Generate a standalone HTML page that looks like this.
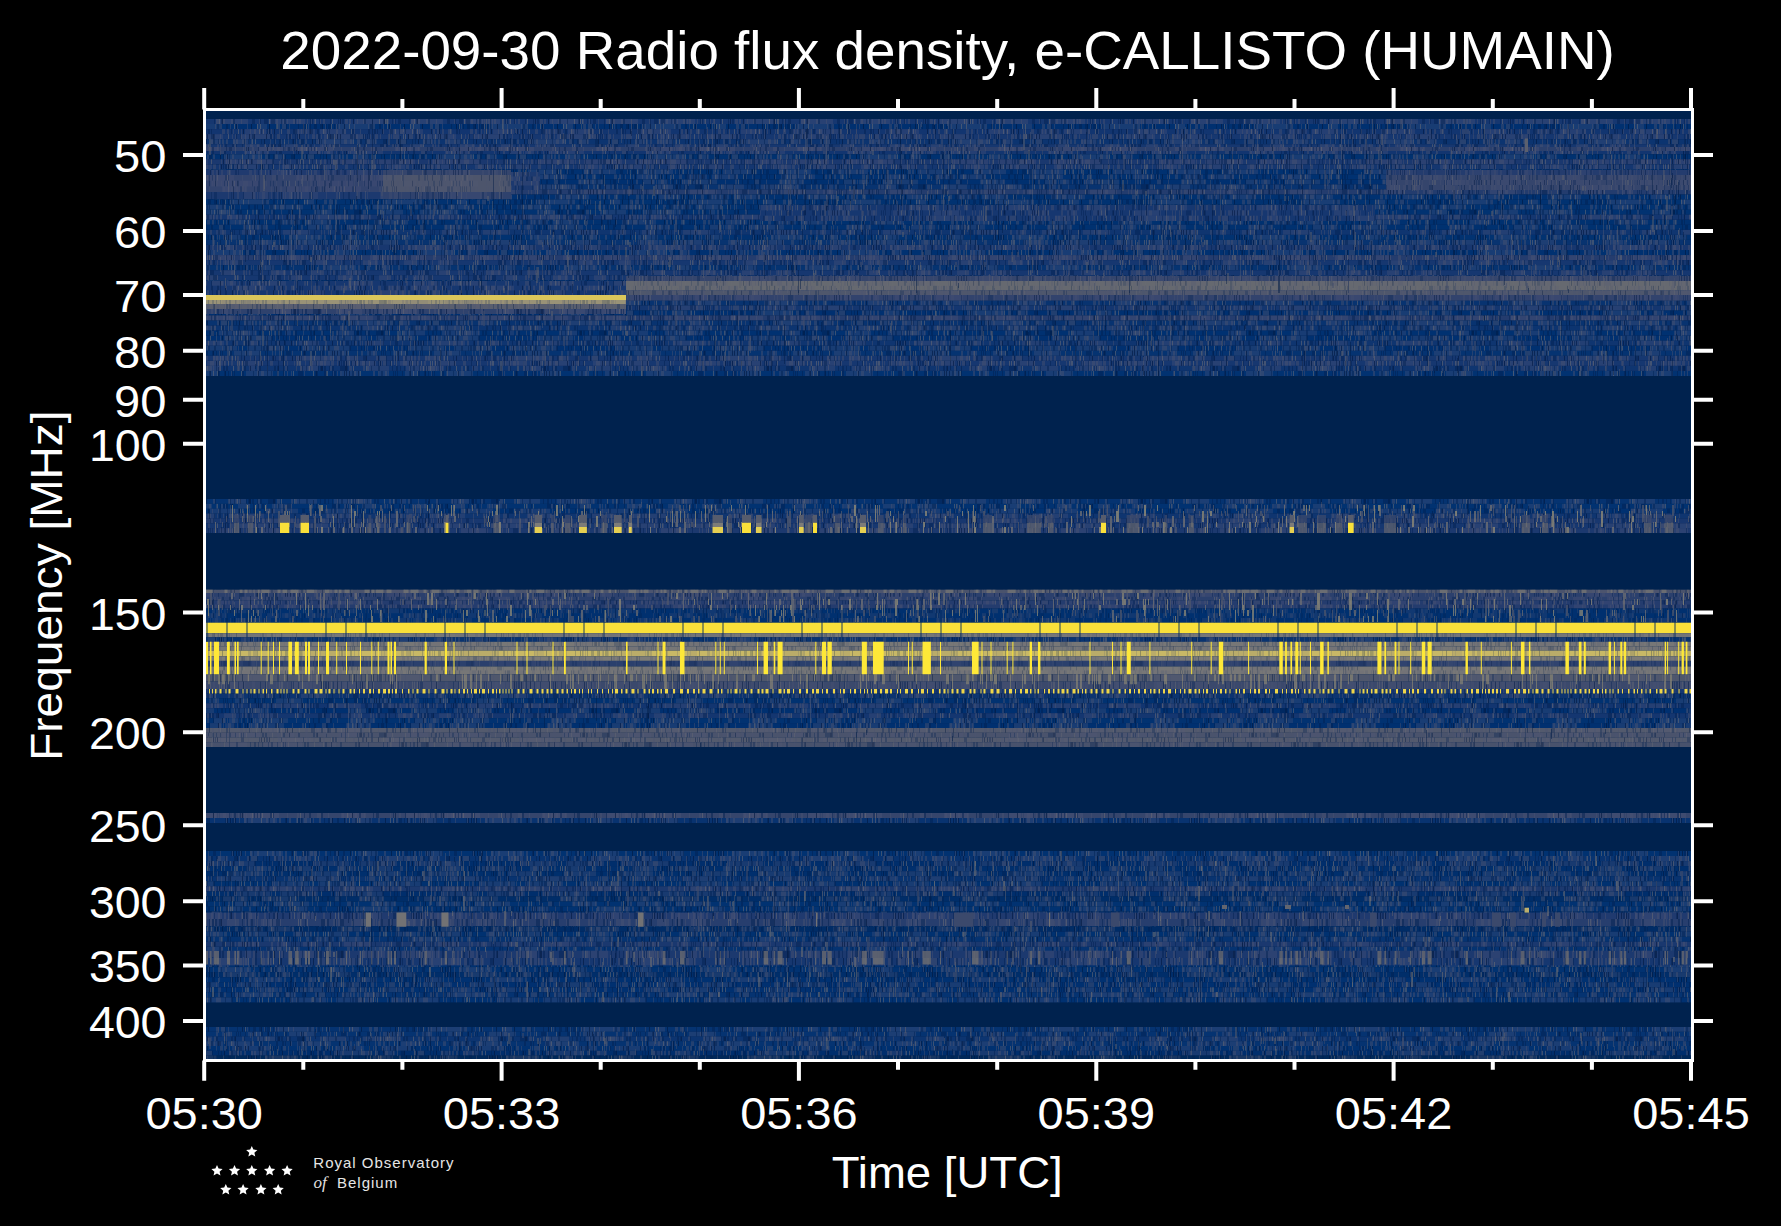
<!DOCTYPE html><html><head><meta charset="utf-8"><style>html,body{margin:0;padding:0;background:#000;width:1781px;height:1226px;overflow:hidden;position:relative}</style></head><body><svg width="1781" height="1226" viewBox="0 0 1781 1226" style="position:absolute;left:0;top:0">
<rect x="0" y="0" width="1781" height="1226" fill="#000"/>
<defs><pattern id="p0" patternUnits="userSpaceOnUse" width="193" height="1200"><path d="M0 0h13v1200h-13zM29 0h22v1200h-22zM97 0h21v1200h-21zM141 0h23v1200h-23zM188 0h5v1200h-5z" fill="#56597a" fill-opacity="0.28"/><path d="M0 0h2v1200h-2zM12 0h2v1200h-2zM19 0h1v1200h-1zM20 0h1v1200h-1zM43 0h1v1200h-1zM50 0h1v1200h-1zM58 0h2v1200h-2zM60 0h1v1200h-1zM75 0h1v1200h-1zM82 0h1v1200h-1zM86 0h1v1200h-1zM93 0h1v1200h-1zM100 0h1v1200h-1zM105 0h1v1200h-1zM108 0h1v1200h-1zM109 0h2v1200h-2zM112 0h2v1200h-2zM119 0h1v1200h-1zM120 0h1v1200h-1zM121 0h1v1200h-1zM125 0h1v1200h-1zM133 0h1v1200h-1zM135 0h2v1200h-2zM140 0h1v1200h-1zM144 0h2v1200h-2zM150 0h1v1200h-1zM151 0h2v1200h-2zM167 0h1v1200h-1zM169 0h1v1200h-1zM171 0h1v1200h-1zM172 0h1v1200h-1zM173 0h1v1200h-1zM191 0h2v1200h-2z" fill="#4a5372" fill-opacity="0.45"/><path d="M7 0h1v1200h-1zM16 0h1v1200h-1zM25 0h1v1200h-1zM27 0h1v1200h-1zM30 0h1v1200h-1zM72 0h1v1200h-1zM85 0h1v1200h-1zM87 0h1v1200h-1zM88 0h1v1200h-1zM137 0h1v1200h-1zM179 0h1v1200h-1z" fill="#6a6c74" fill-opacity="0.55"/><path d="M6 0h1v1200h-1zM11 0h1v1200h-1zM31 0h1v1200h-1zM33 0h2v1200h-2zM35 0h1v1200h-1zM44 0h1v1200h-1zM66 0h1v1200h-1zM71 0h1v1200h-1zM97 0h1v1200h-1zM99 0h1v1200h-1zM104 0h1v1200h-1zM129 0h1v1200h-1zM131 0h2v1200h-2zM139 0h1v1200h-1zM147 0h1v1200h-1zM153 0h1v1200h-1zM166 0h1v1200h-1zM174 0h1v1200h-1zM178 0h1v1200h-1z" fill="#001e50" fill-opacity="0.45"/><path d="M4 0h1v1200h-1zM49 0h1v1200h-1zM127 0h1v1200h-1zM134 0h1v1200h-1zM143 0h1v1200h-1zM162 0h1v1200h-1zM168 0h1v1200h-1z" fill="#00183f" fill-opacity="0.6"/></pattern><pattern id="p1" patternUnits="userSpaceOnUse" width="233" height="1200"><path d="M0 0h13v1200h-13zM67 0h36v1200h-36zM170 0h29v1200h-29zM216 0h17v1200h-17z" fill="#56597a" fill-opacity="0.28"/><path d="M15 0h1v1200h-1zM22 0h1v1200h-1zM31 0h1v1200h-1zM34 0h1v1200h-1zM41 0h1v1200h-1zM51 0h1v1200h-1zM55 0h2v1200h-2zM57 0h1v1200h-1zM59 0h2v1200h-2zM64 0h1v1200h-1zM79 0h1v1200h-1zM99 0h1v1200h-1zM100 0h1v1200h-1zM103 0h2v1200h-2zM105 0h1v1200h-1zM107 0h1v1200h-1zM113 0h1v1200h-1zM118 0h2v1200h-2zM120 0h1v1200h-1zM123 0h1v1200h-1zM132 0h1v1200h-1zM134 0h1v1200h-1zM136 0h1v1200h-1zM137 0h2v1200h-2zM139 0h2v1200h-2zM141 0h1v1200h-1zM152 0h1v1200h-1zM153 0h1v1200h-1zM154 0h2v1200h-2zM160 0h2v1200h-2zM164 0h1v1200h-1zM171 0h1v1200h-1zM196 0h1v1200h-1zM208 0h1v1200h-1zM211 0h1v1200h-1zM217 0h1v1200h-1zM221 0h1v1200h-1z" fill="#4a5372" fill-opacity="0.45"/><path d="M70 0h1v1200h-1zM146 0h1v1200h-1zM148 0h1v1200h-1zM167 0h1v1200h-1zM178 0h1v1200h-1zM204 0h1v1200h-1z" fill="#6a6c74" fill-opacity="0.55"/><path d="M13 0h1v1200h-1zM14 0h1v1200h-1zM17 0h1v1200h-1zM29 0h1v1200h-1zM32 0h2v1200h-2zM38 0h1v1200h-1zM40 0h1v1200h-1zM61 0h2v1200h-2zM71 0h2v1200h-2zM74 0h1v1200h-1zM75 0h1v1200h-1zM76 0h1v1200h-1zM93 0h1v1200h-1zM94 0h1v1200h-1zM95 0h1v1200h-1zM97 0h1v1200h-1zM98 0h1v1200h-1zM106 0h1v1200h-1zM108 0h1v1200h-1zM110 0h1v1200h-1zM112 0h1v1200h-1zM116 0h1v1200h-1zM158 0h2v1200h-2zM175 0h1v1200h-1zM181 0h1v1200h-1zM187 0h2v1200h-2zM190 0h1v1200h-1zM212 0h1v1200h-1zM216 0h1v1200h-1zM228 0h2v1200h-2z" fill="#001e50" fill-opacity="0.45"/><path d="M9 0h1v1200h-1zM42 0h1v1200h-1zM73 0h1v1200h-1zM80 0h1v1200h-1zM83 0h1v1200h-1zM151 0h1v1200h-1zM162 0h1v1200h-1zM183 0h1v1200h-1zM189 0h1v1200h-1zM225 0h1v1200h-1zM230 0h1v1200h-1z" fill="#00183f" fill-opacity="0.6"/></pattern><pattern id="p2" patternUnits="userSpaceOnUse" width="207" height="1200"><path d="M0 0h38v1200h-38zM96 0h36v1200h-36zM142 0h38v1200h-38zM197 0h10v1200h-10z" fill="#56597a" fill-opacity="0.28"/><path d="M0 0h1v1200h-1zM5 0h1v1200h-1zM22 0h2v1200h-2zM24 0h1v1200h-1zM25 0h2v1200h-2zM45 0h1v1200h-1zM55 0h1v1200h-1zM63 0h1v1200h-1zM86 0h1v1200h-1zM89 0h1v1200h-1zM90 0h1v1200h-1zM96 0h1v1200h-1zM98 0h1v1200h-1zM102 0h1v1200h-1zM117 0h1v1200h-1zM125 0h1v1200h-1zM126 0h1v1200h-1zM133 0h1v1200h-1zM164 0h2v1200h-2zM166 0h2v1200h-2zM174 0h1v1200h-1zM176 0h2v1200h-2zM193 0h1v1200h-1zM198 0h1v1200h-1zM200 0h1v1200h-1zM202 0h2v1200h-2z" fill="#4a5372" fill-opacity="0.45"/><path d="M7 0h1v1200h-1zM13 0h1v1200h-1zM65 0h1v1200h-1zM68 0h1v1200h-1zM74 0h1v1200h-1zM81 0h1v1200h-1zM137 0h1v1200h-1zM170 0h1v1200h-1zM183 0h1v1200h-1z" fill="#6a6c74" fill-opacity="0.55"/><path d="M3 0h1v1200h-1zM6 0h1v1200h-1zM17 0h1v1200h-1zM31 0h1v1200h-1zM37 0h1v1200h-1zM38 0h1v1200h-1zM49 0h1v1200h-1zM52 0h1v1200h-1zM61 0h2v1200h-2zM66 0h1v1200h-1zM77 0h1v1200h-1zM92 0h1v1200h-1zM95 0h1v1200h-1zM103 0h2v1200h-2zM109 0h1v1200h-1zM110 0h1v1200h-1zM120 0h2v1200h-2zM127 0h1v1200h-1zM143 0h1v1200h-1zM149 0h2v1200h-2zM156 0h1v1200h-1zM158 0h2v1200h-2zM161 0h1v1200h-1zM162 0h2v1200h-2z" fill="#001e50" fill-opacity="0.45"/><path d="M11 0h1v1200h-1zM16 0h1v1200h-1zM168 0h1v1200h-1zM175 0h1v1200h-1zM195 0h1v1200h-1zM201 0h1v1200h-1z" fill="#00183f" fill-opacity="0.6"/></pattern><pattern id="p3" patternUnits="userSpaceOnUse" width="212" height="1200"><path d="M0 0h16v1200h-16zM84 0h36v1200h-36zM133 0h11v1200h-11zM190 0h10v1200h-10z" fill="#56597a" fill-opacity="0.28"/><path d="M0 0h2v1200h-2zM3 0h2v1200h-2zM9 0h2v1200h-2zM18 0h1v1200h-1zM37 0h1v1200h-1zM42 0h1v1200h-1zM48 0h1v1200h-1zM55 0h1v1200h-1zM66 0h2v1200h-2zM72 0h2v1200h-2zM83 0h1v1200h-1zM85 0h1v1200h-1zM91 0h2v1200h-2zM111 0h2v1200h-2zM113 0h1v1200h-1zM117 0h2v1200h-2zM124 0h2v1200h-2zM126 0h1v1200h-1zM134 0h1v1200h-1zM135 0h2v1200h-2zM142 0h1v1200h-1zM163 0h2v1200h-2zM167 0h2v1200h-2zM169 0h2v1200h-2zM171 0h1v1200h-1zM172 0h1v1200h-1zM190 0h1v1200h-1zM191 0h1v1200h-1zM198 0h1v1200h-1zM201 0h2v1200h-2zM205 0h2v1200h-2z" fill="#4a5372" fill-opacity="0.45"/><path d="M19 0h1v1200h-1zM22 0h1v1200h-1zM51 0h1v1200h-1zM101 0h1v1200h-1zM120 0h1v1200h-1z" fill="#6a6c74" fill-opacity="0.55"/><path d="M11 0h1v1200h-1zM15 0h1v1200h-1zM28 0h1v1200h-1zM41 0h1v1200h-1zM46 0h2v1200h-2zM59 0h1v1200h-1zM62 0h1v1200h-1zM68 0h2v1200h-2zM70 0h1v1200h-1zM82 0h1v1200h-1zM88 0h1v1200h-1zM107 0h1v1200h-1zM127 0h2v1200h-2zM132 0h2v1200h-2zM141 0h1v1200h-1zM150 0h1v1200h-1zM151 0h2v1200h-2zM173 0h1v1200h-1zM179 0h1v1200h-1zM182 0h1v1200h-1zM192 0h2v1200h-2zM197 0h1v1200h-1z" fill="#001e50" fill-opacity="0.45"/><path d="M31 0h1v1200h-1zM60 0h1v1200h-1zM79 0h1v1200h-1zM86 0h1v1200h-1zM153 0h1v1200h-1zM165 0h1v1200h-1zM185 0h1v1200h-1z" fill="#00183f" fill-opacity="0.6"/></pattern><pattern id="p4" patternUnits="userSpaceOnUse" width="241" height="1200"><path d="M0 0h33v1200h-33zM58 0h9v1200h-9zM108 0h20v1200h-20zM175 0h18v1200h-18z" fill="#56597a" fill-opacity="0.28"/><path d="M0 0h2v1200h-2zM7 0h2v1200h-2zM22 0h2v1200h-2zM29 0h2v1200h-2zM35 0h2v1200h-2zM45 0h2v1200h-2zM52 0h1v1200h-1zM56 0h1v1200h-1zM60 0h2v1200h-2zM62 0h1v1200h-1zM66 0h1v1200h-1zM69 0h1v1200h-1zM75 0h2v1200h-2zM86 0h1v1200h-1zM87 0h1v1200h-1zM102 0h1v1200h-1zM116 0h1v1200h-1zM134 0h2v1200h-2zM152 0h2v1200h-2zM164 0h2v1200h-2zM169 0h1v1200h-1zM171 0h1v1200h-1zM177 0h1v1200h-1zM183 0h1v1200h-1zM199 0h1v1200h-1zM211 0h1v1200h-1zM223 0h1v1200h-1zM231 0h1v1200h-1zM236 0h1v1200h-1z" fill="#4a5372" fill-opacity="0.45"/><path d="M17 0h1v1200h-1zM53 0h1v1200h-1zM105 0h1v1200h-1zM113 0h1v1200h-1zM115 0h1v1200h-1zM146 0h1v1200h-1zM149 0h1v1200h-1z" fill="#6a6c74" fill-opacity="0.55"/><path d="M3 0h1v1200h-1zM25 0h1v1200h-1zM41 0h1v1200h-1zM54 0h2v1200h-2zM57 0h2v1200h-2zM67 0h1v1200h-1zM80 0h1v1200h-1zM84 0h2v1200h-2zM93 0h2v1200h-2zM111 0h2v1200h-2zM121 0h1v1200h-1zM125 0h1v1200h-1zM126 0h1v1200h-1zM151 0h1v1200h-1zM155 0h2v1200h-2zM157 0h1v1200h-1zM160 0h1v1200h-1zM167 0h1v1200h-1zM178 0h1v1200h-1zM189 0h1v1200h-1zM192 0h1v1200h-1zM204 0h1v1200h-1zM205 0h2v1200h-2zM222 0h1v1200h-1zM229 0h2v1200h-2z" fill="#001e50" fill-opacity="0.45"/><path d="M42 0h1v1200h-1zM88 0h1v1200h-1zM100 0h1v1200h-1zM141 0h1v1200h-1zM163 0h1v1200h-1zM176 0h1v1200h-1zM180 0h1v1200h-1zM224 0h1v1200h-1zM227 0h1v1200h-1zM232 0h1v1200h-1z" fill="#00183f" fill-opacity="0.6"/></pattern><pattern id="p5" patternUnits="userSpaceOnUse" width="201" height="1200"><path d="M0 0h10v1200h-10zM24 0h35v1200h-35zM121 0h24v1200h-24zM186 0h12v1200h-12z" fill="#56597a" fill-opacity="0.28"/><path d="M3 0h1v1200h-1zM4 0h2v1200h-2zM12 0h1v1200h-1zM18 0h1v1200h-1zM24 0h1v1200h-1zM26 0h1v1200h-1zM30 0h1v1200h-1zM31 0h1v1200h-1zM38 0h2v1200h-2zM67 0h1v1200h-1zM77 0h2v1200h-2zM97 0h2v1200h-2zM99 0h2v1200h-2zM108 0h1v1200h-1zM122 0h2v1200h-2zM128 0h1v1200h-1zM130 0h2v1200h-2zM135 0h1v1200h-1zM136 0h1v1200h-1zM144 0h2v1200h-2zM170 0h1v1200h-1zM179 0h2v1200h-2zM195 0h2v1200h-2zM199 0h1v1200h-1z" fill="#4a5372" fill-opacity="0.45"/><path d="M32 0h1v1200h-1zM42 0h1v1200h-1zM52 0h1v1200h-1zM80 0h1v1200h-1zM127 0h1v1200h-1z" fill="#6a6c74" fill-opacity="0.55"/><path d="M9 0h1v1200h-1zM14 0h2v1200h-2zM20 0h1v1200h-1zM34 0h1v1200h-1zM37 0h1v1200h-1zM40 0h1v1200h-1zM50 0h2v1200h-2zM53 0h1v1200h-1zM84 0h1v1200h-1zM89 0h2v1200h-2zM101 0h2v1200h-2zM139 0h2v1200h-2zM153 0h1v1200h-1zM156 0h1v1200h-1zM157 0h2v1200h-2zM173 0h1v1200h-1zM185 0h1v1200h-1z" fill="#001e50" fill-opacity="0.45"/><path d="M22 0h1v1200h-1zM132 0h1v1200h-1zM175 0h1v1200h-1zM194 0h1v1200h-1z" fill="#00183f" fill-opacity="0.6"/></pattern><pattern id="p6" patternUnits="userSpaceOnUse" width="248" height="1200"><path d="M0 0h26v1200h-26zM69 0h34v1200h-34zM173 0h21v1200h-21zM223 0h20v1200h-20z" fill="#56597a" fill-opacity="0.28"/><path d="M4 0h1v1200h-1zM5 0h1v1200h-1zM16 0h2v1200h-2zM24 0h2v1200h-2zM34 0h1v1200h-1zM40 0h1v1200h-1zM63 0h1v1200h-1zM74 0h1v1200h-1zM80 0h2v1200h-2zM82 0h2v1200h-2zM99 0h1v1200h-1zM113 0h2v1200h-2zM117 0h2v1200h-2zM122 0h2v1200h-2zM128 0h2v1200h-2zM131 0h1v1200h-1zM150 0h1v1200h-1zM151 0h2v1200h-2zM155 0h2v1200h-2zM161 0h1v1200h-1zM169 0h1v1200h-1zM178 0h1v1200h-1zM182 0h2v1200h-2zM196 0h1v1200h-1zM199 0h1v1200h-1zM207 0h1v1200h-1zM215 0h2v1200h-2zM217 0h1v1200h-1zM226 0h1v1200h-1zM229 0h1v1200h-1zM234 0h1v1200h-1z" fill="#4a5372" fill-opacity="0.45"/><path d="M3 0h1v1200h-1zM31 0h1v1200h-1zM75 0h1v1200h-1zM92 0h1v1200h-1zM97 0h1v1200h-1zM130 0h1v1200h-1zM166 0h1v1200h-1zM187 0h1v1200h-1zM191 0h1v1200h-1zM209 0h1v1200h-1z" fill="#6a6c74" fill-opacity="0.55"/><path d="M7 0h1v1200h-1zM9 0h1v1200h-1zM22 0h2v1200h-2zM32 0h2v1200h-2zM48 0h2v1200h-2zM54 0h2v1200h-2zM57 0h1v1200h-1zM70 0h1v1200h-1zM71 0h2v1200h-2zM79 0h1v1200h-1zM85 0h1v1200h-1zM94 0h2v1200h-2zM136 0h2v1200h-2zM139 0h1v1200h-1zM159 0h1v1200h-1zM189 0h1v1200h-1zM195 0h1v1200h-1zM221 0h2v1200h-2zM223 0h1v1200h-1zM224 0h1v1200h-1zM231 0h2v1200h-2zM237 0h1v1200h-1zM239 0h2v1200h-2zM245 0h2v1200h-2z" fill="#001e50" fill-opacity="0.45"/><path d="M62 0h1v1200h-1zM111 0h1v1200h-1zM119 0h1v1200h-1zM171 0h1v1200h-1zM197 0h1v1200h-1zM202 0h1v1200h-1zM238 0h1v1200h-1z" fill="#00183f" fill-opacity="0.6"/></pattern><pattern id="p7" patternUnits="userSpaceOnUse" width="195" height="1200"><path d="M0 0h24v1200h-24zM74 0h29v1200h-29zM130 0h32v1200h-32zM183 0h12v1200h-12z" fill="#56597a" fill-opacity="0.28"/><path d="M2 0h1v1200h-1zM6 0h1v1200h-1zM12 0h2v1200h-2zM16 0h1v1200h-1zM18 0h2v1200h-2zM26 0h1v1200h-1zM30 0h1v1200h-1zM33 0h1v1200h-1zM39 0h1v1200h-1zM42 0h1v1200h-1zM43 0h1v1200h-1zM64 0h1v1200h-1zM65 0h2v1200h-2zM68 0h2v1200h-2zM76 0h1v1200h-1zM82 0h1v1200h-1zM107 0h1v1200h-1zM113 0h1v1200h-1zM130 0h2v1200h-2zM132 0h1v1200h-1zM137 0h1v1200h-1zM138 0h1v1200h-1zM145 0h1v1200h-1zM146 0h1v1200h-1zM155 0h1v1200h-1zM173 0h1v1200h-1zM190 0h2v1200h-2z" fill="#4a5372" fill-opacity="0.45"/><path d="M34 0h1v1200h-1zM51 0h1v1200h-1zM98 0h1v1200h-1zM104 0h1v1200h-1zM106 0h1v1200h-1zM133 0h1v1200h-1zM183 0h1v1200h-1z" fill="#6a6c74" fill-opacity="0.55"/><path d="M0 0h1v1200h-1zM3 0h2v1200h-2zM14 0h1v1200h-1zM29 0h1v1200h-1zM31 0h1v1200h-1zM38 0h1v1200h-1zM49 0h1v1200h-1zM57 0h1v1200h-1zM61 0h2v1200h-2zM83 0h2v1200h-2zM91 0h1v1200h-1zM102 0h1v1200h-1zM111 0h1v1200h-1zM114 0h1v1200h-1zM117 0h1v1200h-1zM118 0h2v1200h-2zM128 0h1v1200h-1zM135 0h1v1200h-1zM147 0h2v1200h-2zM166 0h2v1200h-2zM168 0h1v1200h-1zM174 0h1v1200h-1zM178 0h2v1200h-2zM180 0h2v1200h-2zM185 0h2v1200h-2zM187 0h1v1200h-1zM188 0h1v1200h-1z" fill="#001e50" fill-opacity="0.45"/><path d="M59 0h1v1200h-1zM72 0h1v1200h-1zM103 0h1v1200h-1zM136 0h1v1200h-1z" fill="#00183f" fill-opacity="0.6"/></pattern><pattern id="p8" patternUnits="userSpaceOnUse" width="223" height="1200"><path d="M0 0h38v1200h-38zM66 0h6v1200h-6zM118 0h17v1200h-17zM184 0h22v1200h-22z" fill="#56597a" fill-opacity="0.28"/><path d="M3 0h1v1200h-1zM14 0h1v1200h-1zM20 0h1v1200h-1zM22 0h2v1200h-2zM25 0h1v1200h-1zM26 0h2v1200h-2zM28 0h1v1200h-1zM30 0h1v1200h-1zM36 0h1v1200h-1zM55 0h2v1200h-2zM60 0h1v1200h-1zM74 0h2v1200h-2zM84 0h1v1200h-1zM102 0h1v1200h-1zM103 0h1v1200h-1zM117 0h2v1200h-2zM125 0h1v1200h-1zM128 0h2v1200h-2zM147 0h2v1200h-2zM166 0h1v1200h-1zM167 0h2v1200h-2zM180 0h1v1200h-1zM181 0h1v1200h-1zM184 0h1v1200h-1zM185 0h1v1200h-1z" fill="#4a5372" fill-opacity="0.45"/><path d="M17 0h1v1200h-1zM24 0h1v1200h-1zM50 0h1v1200h-1zM59 0h1v1200h-1zM126 0h1v1200h-1zM170 0h1v1200h-1zM183 0h1v1200h-1z" fill="#6a6c74" fill-opacity="0.55"/><path d="M4 0h1v1200h-1zM7 0h2v1200h-2zM13 0h1v1200h-1zM19 0h1v1200h-1zM21 0h1v1200h-1zM33 0h1v1200h-1zM40 0h1v1200h-1zM41 0h1v1200h-1zM43 0h1v1200h-1zM44 0h1v1200h-1zM61 0h2v1200h-2zM76 0h2v1200h-2zM91 0h2v1200h-2zM94 0h1v1200h-1zM104 0h1v1200h-1zM119 0h1v1200h-1zM123 0h1v1200h-1zM135 0h1v1200h-1zM137 0h1v1200h-1zM141 0h2v1200h-2zM146 0h1v1200h-1zM149 0h2v1200h-2zM157 0h1v1200h-1zM158 0h2v1200h-2zM160 0h2v1200h-2zM164 0h1v1200h-1zM188 0h1v1200h-1zM195 0h2v1200h-2zM209 0h1v1200h-1zM213 0h1v1200h-1zM214 0h1v1200h-1zM217 0h1v1200h-1zM221 0h1v1200h-1z" fill="#001e50" fill-opacity="0.45"/><path d="M67 0h1v1200h-1zM95 0h1v1200h-1zM138 0h1v1200h-1zM139 0h1v1200h-1zM162 0h1v1200h-1zM163 0h1v1200h-1z" fill="#00183f" fill-opacity="0.6"/></pattern><pattern id="p9" patternUnits="userSpaceOnUse" width="153" height="1200"><path d="M0 0h31v1200h-31zM68 0h10v1200h-10zM147 0h6v1200h-6z" fill="#56597a" fill-opacity="0.28"/><path d="M12 0h1v1200h-1zM26 0h1v1200h-1zM31 0h2v1200h-2zM41 0h1v1200h-1zM48 0h1v1200h-1zM58 0h1v1200h-1zM88 0h2v1200h-2zM90 0h1v1200h-1zM93 0h2v1200h-2zM95 0h2v1200h-2zM100 0h1v1200h-1zM119 0h1v1200h-1zM136 0h1v1200h-1zM147 0h1v1200h-1zM150 0h1v1200h-1z" fill="#4a5372" fill-opacity="0.45"/><path d="M7 0h1v1200h-1zM45 0h1v1200h-1zM68 0h1v1200h-1zM71 0h1v1200h-1zM117 0h1v1200h-1zM142 0h1v1200h-1z" fill="#6a6c74" fill-opacity="0.55"/><path d="M28 0h2v1200h-2zM37 0h2v1200h-2zM97 0h1v1200h-1zM109 0h1v1200h-1zM116 0h1v1200h-1zM121 0h1v1200h-1zM125 0h1v1200h-1zM126 0h2v1200h-2zM131 0h1v1200h-1zM132 0h1v1200h-1zM137 0h1v1200h-1zM139 0h2v1200h-2zM141 0h1v1200h-1zM145 0h1v1200h-1zM148 0h1v1200h-1z" fill="#001e50" fill-opacity="0.45"/><path d="M2 0h1v1200h-1zM47 0h1v1200h-1zM62 0h1v1200h-1zM80 0h1v1200h-1zM114 0h1v1200h-1zM133 0h1v1200h-1z" fill="#00183f" fill-opacity="0.6"/></pattern><pattern id="p10" patternUnits="userSpaceOnUse" width="200" height="1200"><path d="M0 0h12v1200h-12zM41 0h27v1200h-27zM137 0h18v1200h-18zM174 0h9v1200h-9z" fill="#56597a" fill-opacity="0.28"/><path d="M26 0h1v1200h-1zM52 0h1v1200h-1zM56 0h1v1200h-1zM57 0h2v1200h-2zM79 0h1v1200h-1zM82 0h1v1200h-1zM86 0h1v1200h-1zM99 0h1v1200h-1zM128 0h1v1200h-1zM132 0h1v1200h-1zM135 0h2v1200h-2zM149 0h2v1200h-2zM168 0h2v1200h-2zM180 0h1v1200h-1zM181 0h1v1200h-1zM183 0h1v1200h-1z" fill="#4a5372" fill-opacity="0.45"/><path d="M8 0h1v1200h-1zM12 0h1v1200h-1zM36 0h1v1200h-1zM88 0h1v1200h-1zM108 0h1v1200h-1zM122 0h1v1200h-1zM155 0h1v1200h-1z" fill="#6a6c74" fill-opacity="0.55"/><path d="M4 0h1v1200h-1zM13 0h1v1200h-1zM14 0h1v1200h-1zM19 0h1v1200h-1zM23 0h1v1200h-1zM27 0h1v1200h-1zM29 0h1v1200h-1zM37 0h2v1200h-2zM48 0h1v1200h-1zM66 0h1v1200h-1zM72 0h1v1200h-1zM93 0h2v1200h-2zM95 0h1v1200h-1zM96 0h1v1200h-1zM97 0h1v1200h-1zM110 0h1v1200h-1zM112 0h1v1200h-1zM119 0h1v1200h-1zM120 0h2v1200h-2zM127 0h1v1200h-1zM129 0h2v1200h-2zM147 0h1v1200h-1zM148 0h1v1200h-1zM176 0h2v1200h-2zM188 0h1v1200h-1zM190 0h1v1200h-1zM192 0h1v1200h-1zM197 0h1v1200h-1z" fill="#001e50" fill-opacity="0.45"/><path d="M5 0h1v1200h-1zM20 0h1v1200h-1zM53 0h1v1200h-1zM111 0h1v1200h-1zM139 0h1v1200h-1zM141 0h1v1200h-1zM144 0h1v1200h-1zM153 0h1v1200h-1z" fill="#00183f" fill-opacity="0.6"/></pattern><pattern id="p11" patternUnits="userSpaceOnUse" width="215" height="1200"><path d="M0 0h9v1200h-9zM34 0h20v1200h-20zM124 0h12v1200h-12zM176 0h13v1200h-13z" fill="#56597a" fill-opacity="0.28"/><path d="M8 0h2v1200h-2zM10 0h2v1200h-2zM18 0h1v1200h-1zM21 0h2v1200h-2zM28 0h1v1200h-1zM36 0h1v1200h-1zM39 0h1v1200h-1zM43 0h1v1200h-1zM44 0h1v1200h-1zM53 0h1v1200h-1zM74 0h1v1200h-1zM98 0h2v1200h-2zM106 0h2v1200h-2zM109 0h1v1200h-1zM111 0h2v1200h-2zM134 0h2v1200h-2zM136 0h1v1200h-1zM146 0h2v1200h-2zM149 0h1v1200h-1zM152 0h1v1200h-1zM163 0h1v1200h-1zM174 0h2v1200h-2zM179 0h1v1200h-1zM180 0h2v1200h-2zM186 0h2v1200h-2zM193 0h1v1200h-1zM198 0h2v1200h-2zM202 0h1v1200h-1z" fill="#4a5372" fill-opacity="0.45"/><path d="M71 0h1v1200h-1zM73 0h1v1200h-1zM80 0h1v1200h-1zM137 0h1v1200h-1zM194 0h1v1200h-1z" fill="#6a6c74" fill-opacity="0.55"/><path d="M15 0h1v1200h-1zM20 0h1v1200h-1zM24 0h1v1200h-1zM25 0h1v1200h-1zM40 0h1v1200h-1zM45 0h1v1200h-1zM49 0h1v1200h-1zM50 0h1v1200h-1zM51 0h2v1200h-2zM78 0h1v1200h-1zM94 0h1v1200h-1zM95 0h1v1200h-1zM96 0h2v1200h-2zM100 0h2v1200h-2zM108 0h1v1200h-1zM113 0h2v1200h-2zM115 0h2v1200h-2zM125 0h2v1200h-2zM154 0h1v1200h-1zM155 0h1v1200h-1zM161 0h2v1200h-2zM165 0h1v1200h-1zM171 0h1v1200h-1zM197 0h1v1200h-1zM200 0h2v1200h-2zM203 0h1v1200h-1zM204 0h1v1200h-1zM207 0h2v1200h-2z" fill="#001e50" fill-opacity="0.45"/><path d="M209 0h1v1200h-1z" fill="#00183f" fill-opacity="0.6"/></pattern></defs>
<rect x="204.5" y="109.5" width="1488.0" height="951.0" fill="#00224e"/>
<rect x="204.5" y="119.0" width="1488.0" height="5.0" fill="#163770"/>
<rect transform="translate(86 0)" x="118.5" y="119.0" width="1488.0" height="5.0" fill="url(#p7)"/>
<rect x="204.5" y="124.0" width="1488.0" height="5.0" fill="#003070"/>
<rect transform="translate(36 0)" x="168.5" y="124.0" width="1488.0" height="5.0" fill="url(#p9)"/>
<rect x="204.5" y="129.1" width="1488.0" height="5.0" fill="#123570"/>
<rect transform="translate(72 0)" x="132.5" y="129.1" width="1488.0" height="5.0" fill="url(#p6)"/>
<rect x="204.5" y="134.1" width="1488.0" height="5.0" fill="#163770"/>
<rect transform="translate(24 0)" x="180.5" y="134.1" width="1488.0" height="5.0" fill="url(#p1)"/>
<rect x="204.5" y="139.2" width="1488.0" height="5.0" fill="#0c3470"/>
<rect transform="translate(233 0)" x="-28.5" y="139.2" width="1488.0" height="5.0" fill="url(#p3)"/>
<rect x="204.5" y="144.2" width="1488.0" height="5.0" fill="#163770"/>
<rect transform="translate(71 0)" x="133.5" y="144.2" width="1488.0" height="5.0" fill="url(#p11)"/>
<rect x="204.5" y="149.2" width="1488.0" height="5.0" fill="#123570"/>
<rect transform="translate(123 0)" x="81.5" y="149.2" width="1488.0" height="5.0" fill="url(#p5)"/>
<rect x="204.5" y="154.3" width="1488.0" height="5.0" fill="#003170"/>
<rect transform="translate(141 0)" x="63.5" y="154.3" width="1488.0" height="5.0" fill="url(#p3)"/>
<rect x="204.5" y="159.3" width="1488.0" height="5.0" fill="#1a386f"/>
<rect transform="translate(28 0)" x="176.5" y="159.3" width="1488.0" height="5.0" fill="url(#p2)"/>
<rect x="204.5" y="164.4" width="1488.0" height="5.0" fill="#143670"/>
<rect transform="translate(94 0)" x="110.5" y="164.4" width="1488.0" height="5.0" fill="url(#p0)"/>
<rect x="204.5" y="169.4" width="1488.0" height="5.0" fill="#003171"/>
<rect transform="translate(64 0)" x="140.5" y="169.4" width="1488.0" height="5.0" fill="url(#p7)"/>
<rect x="204.5" y="174.4" width="1488.0" height="5.0" fill="#003171"/>
<rect transform="translate(216 0)" x="-11.5" y="174.4" width="1488.0" height="5.0" fill="url(#p6)"/>
<rect x="204.5" y="179.5" width="1488.0" height="5.0" fill="#003070"/>
<rect transform="translate(55 0)" x="149.5" y="179.5" width="1488.0" height="5.0" fill="url(#p5)"/>
<rect x="204.5" y="184.5" width="1488.0" height="5.0" fill="#083370"/>
<rect transform="translate(92 0)" x="112.5" y="184.5" width="1488.0" height="5.0" fill="url(#p8)"/>
<rect x="204.5" y="189.5" width="1488.0" height="5.0" fill="#233c6e"/>
<rect transform="translate(249 0)" x="-44.5" y="189.5" width="1488.0" height="5.0" fill="url(#p10)"/>
<rect x="204.5" y="194.6" width="1488.0" height="5.0" fill="#003171"/>
<rect transform="translate(238 0)" x="-33.5" y="194.6" width="1488.0" height="5.0" fill="url(#p6)"/>
<rect x="204.5" y="199.6" width="1488.0" height="5.0" fill="#013271"/>
<rect transform="translate(83 0)" x="121.5" y="199.6" width="1488.0" height="5.0" fill="url(#p9)"/>
<rect x="204.5" y="204.7" width="1488.0" height="5.0" fill="#013271"/>
<rect transform="translate(200 0)" x="4.5" y="204.7" width="1488.0" height="5.0" fill="url(#p6)"/>
<rect x="204.5" y="209.7" width="1488.0" height="5.0" fill="#013271"/>
<rect transform="translate(197 0)" x="7.5" y="209.7" width="1488.0" height="5.0" fill="url(#p8)"/>
<rect x="204.5" y="214.7" width="1488.0" height="5.0" fill="#143670"/>
<rect transform="translate(15 0)" x="189.5" y="214.7" width="1488.0" height="5.0" fill="url(#p3)"/>
<rect x="204.5" y="219.8" width="1488.0" height="5.0" fill="#003170"/>
<rect transform="translate(57 0)" x="147.5" y="219.8" width="1488.0" height="5.0" fill="url(#p6)"/>
<rect x="204.5" y="224.8" width="1488.0" height="5.0" fill="#003170"/>
<rect transform="translate(122 0)" x="82.5" y="224.8" width="1488.0" height="5.0" fill="url(#p5)"/>
<rect x="204.5" y="229.9" width="1488.0" height="5.0" fill="#0f3570"/>
<rect transform="translate(42 0)" x="162.5" y="229.9" width="1488.0" height="5.0" fill="url(#p10)"/>
<rect x="204.5" y="234.9" width="1488.0" height="5.0" fill="#013271"/>
<rect transform="translate(48 0)" x="156.5" y="234.9" width="1488.0" height="5.0" fill="url(#p4)"/>
<rect x="204.5" y="239.9" width="1488.0" height="5.0" fill="#083370"/>
<rect transform="translate(154 0)" x="50.5" y="239.9" width="1488.0" height="5.0" fill="url(#p0)"/>
<rect x="204.5" y="245.0" width="1488.0" height="5.0" fill="#18376f"/>
<rect transform="translate(167 0)" x="37.5" y="245.0" width="1488.0" height="5.0" fill="url(#p4)"/>
<rect x="204.5" y="250.0" width="1488.0" height="5.0" fill="#003171"/>
<rect transform="translate(122 0)" x="82.5" y="250.0" width="1488.0" height="5.0" fill="url(#p3)"/>
<rect x="204.5" y="255.1" width="1488.0" height="5.0" fill="#243c6e"/>
<rect transform="translate(182 0)" x="22.5" y="255.1" width="1488.0" height="5.0" fill="url(#p0)"/>
<rect x="204.5" y="260.1" width="1488.0" height="5.0" fill="#163770"/>
<rect transform="translate(189 0)" x="15.5" y="260.1" width="1488.0" height="5.0" fill="url(#p11)"/>
<rect x="204.5" y="265.1" width="1488.0" height="5.0" fill="#053371"/>
<rect transform="translate(82 0)" x="122.5" y="265.1" width="1488.0" height="5.0" fill="url(#p4)"/>
<rect x="204.5" y="270.2" width="1488.0" height="5.0" fill="#163770"/>
<rect transform="translate(97 0)" x="107.5" y="270.2" width="1488.0" height="5.0" fill="url(#p11)"/>
<rect x="204.5" y="275.2" width="1488.0" height="5.0" fill="#163770"/>
<rect transform="translate(164 0)" x="40.5" y="275.2" width="1488.0" height="5.0" fill="url(#p11)"/>
<rect x="204.5" y="280.3" width="1488.0" height="5.0" fill="#003171"/>
<rect transform="translate(48 0)" x="156.5" y="280.3" width="1488.0" height="5.0" fill="url(#p9)"/>
<rect x="204.5" y="285.3" width="1488.0" height="5.0" fill="#143670"/>
<rect transform="translate(140 0)" x="64.5" y="285.3" width="1488.0" height="5.0" fill="url(#p7)"/>
<rect x="204.5" y="290.3" width="1488.0" height="5.0" fill="#1a386f"/>
<rect transform="translate(235 0)" x="-30.5" y="290.3" width="1488.0" height="5.0" fill="url(#p0)"/>
<rect x="204.5" y="295.4" width="1488.0" height="5.0" fill="#233c6e"/>
<rect transform="translate(91 0)" x="113.5" y="295.4" width="1488.0" height="5.0" fill="url(#p10)"/>
<rect x="204.5" y="300.4" width="1488.0" height="5.0" fill="#083370"/>
<rect transform="translate(199 0)" x="5.5" y="300.4" width="1488.0" height="5.0" fill="url(#p6)"/>
<rect x="204.5" y="305.5" width="1488.0" height="5.0" fill="#143670"/>
<rect transform="translate(131 0)" x="73.5" y="305.5" width="1488.0" height="5.0" fill="url(#p1)"/>
<rect x="204.5" y="310.5" width="1488.0" height="5.0" fill="#003070"/>
<rect transform="translate(248 0)" x="-43.5" y="310.5" width="1488.0" height="5.0" fill="url(#p3)"/>
<rect x="204.5" y="315.5" width="1488.0" height="5.0" fill="#243c6e"/>
<rect transform="translate(211 0)" x="-6.5" y="315.5" width="1488.0" height="5.0" fill="url(#p7)"/>
<rect x="204.5" y="320.6" width="1488.0" height="5.0" fill="#083370"/>
<rect transform="translate(54 0)" x="150.5" y="320.6" width="1488.0" height="5.0" fill="url(#p3)"/>
<rect x="204.5" y="325.6" width="1488.0" height="5.0" fill="#0c3470"/>
<rect transform="translate(190 0)" x="14.5" y="325.6" width="1488.0" height="5.0" fill="url(#p6)"/>
<rect x="204.5" y="330.6" width="1488.0" height="5.0" fill="#003171"/>
<rect transform="translate(219 0)" x="-14.5" y="330.6" width="1488.0" height="5.0" fill="url(#p8)"/>
<rect x="204.5" y="335.7" width="1488.0" height="5.0" fill="#003070"/>
<rect transform="translate(27 0)" x="177.5" y="335.7" width="1488.0" height="5.0" fill="url(#p2)"/>
<rect x="204.5" y="340.7" width="1488.0" height="5.0" fill="#0f3570"/>
<rect transform="translate(191 0)" x="13.5" y="340.7" width="1488.0" height="5.0" fill="url(#p4)"/>
<rect x="204.5" y="345.8" width="1488.0" height="5.0" fill="#003070"/>
<rect transform="translate(105 0)" x="99.5" y="345.8" width="1488.0" height="5.0" fill="url(#p2)"/>
<rect x="204.5" y="350.8" width="1488.0" height="5.0" fill="#053371"/>
<rect transform="translate(193 0)" x="11.5" y="350.8" width="1488.0" height="5.0" fill="url(#p10)"/>
<rect x="204.5" y="355.8" width="1488.0" height="5.0" fill="#163770"/>
<rect transform="translate(213 0)" x="-8.5" y="355.8" width="1488.0" height="5.0" fill="url(#p3)"/>
<rect x="204.5" y="360.9" width="1488.0" height="5.0" fill="#163770"/>
<rect transform="translate(212 0)" x="-7.5" y="360.9" width="1488.0" height="5.0" fill="url(#p0)"/>
<rect x="204.5" y="365.9" width="1488.0" height="5.0" fill="#0f3570"/>
<rect transform="translate(183 0)" x="21.5" y="365.9" width="1488.0" height="5.0" fill="url(#p8)"/>
<rect x="204.5" y="371.0" width="1488.0" height="5.0" fill="#013271"/>
<rect transform="translate(205 0)" x="-0.5" y="371.0" width="1488.0" height="5.0" fill="url(#p10)"/>
<rect x="204.5" y="147.0" width="1488.0" height="4.0" fill="#2b406d"/>
<rect transform="translate(73 0)" x="131.5" y="147.0" width="1488.0" height="4.0" fill="url(#p5)"/>
<rect x="204.5" y="170.0" width="178.5" height="5.0" fill="#203a6f"/>
<rect transform="translate(99 0)" x="105.5" y="170.0" width="178.5" height="5.0" fill="url(#p6)" opacity="0.8"/>
<rect x="204.5" y="175.0" width="178.5" height="17.0" fill="#32436d"/>
<rect transform="translate(175 0)" x="29.5" y="175.0" width="178.5" height="5.7" fill="url(#p5)" opacity="0.7"/>
<rect transform="translate(14 0)" x="190.5" y="180.7" width="178.5" height="5.7" fill="url(#p2)" opacity="0.7"/>
<rect transform="translate(101 0)" x="103.5" y="186.3" width="178.5" height="5.7" fill="url(#p5)" opacity="0.7"/>
<rect x="204.5" y="192.0" width="178.5" height="7.0" fill="#1c396f"/>
<rect transform="translate(58 0)" x="146.5" y="192.0" width="178.5" height="7.0" fill="url(#p5)" opacity="0.8"/>
<rect x="383.0" y="170.0" width="128.0" height="5.0" fill="#35456c"/>
<rect transform="translate(114 0)" x="269.0" y="170.0" width="128.0" height="5.0" fill="url(#p10)" opacity="0.7"/>
<rect x="383.0" y="175.0" width="128.0" height="17.0" fill="#4d556c"/>
<rect transform="translate(122 0)" x="261.0" y="175.0" width="128.0" height="5.7" fill="url(#p6)" opacity="0.5"/>
<rect transform="translate(218 0)" x="165.0" y="180.7" width="128.0" height="5.7" fill="url(#p5)" opacity="0.5"/>
<rect transform="translate(121 0)" x="262.0" y="186.3" width="128.0" height="5.7" fill="url(#p1)" opacity="0.5"/>
<rect x="511.0" y="172.0" width="29.0" height="18.0" fill="#1c396f"/>
<rect transform="translate(161 0)" x="350.0" y="172.0" width="29.0" height="4.5" fill="url(#p4)" opacity="0.8"/>
<rect transform="translate(187 0)" x="324.0" y="176.5" width="29.0" height="4.5" fill="url(#p3)" opacity="0.8"/>
<rect transform="translate(32 0)" x="479.0" y="181.0" width="29.0" height="4.5" fill="url(#p4)" opacity="0.8"/>
<rect transform="translate(209 0)" x="302.0" y="185.5" width="29.0" height="4.5" fill="url(#p7)" opacity="0.8"/>
<rect x="383.0" y="192.0" width="128.0" height="7.0" fill="#2f426d"/>
<rect transform="translate(148 0)" x="235.0" y="192.0" width="128.0" height="7.0" fill="url(#p9)" opacity="0.7"/>
<rect x="760.0" y="205.0" width="615.0" height="16.0" fill="#163770"/>
<rect transform="translate(92 0)" x="668.0" y="205.0" width="615.0" height="5.3" fill="url(#p6)" opacity="0.9"/>
<rect transform="translate(93 0)" x="667.0" y="210.3" width="615.0" height="5.3" fill="url(#p10)" opacity="0.9"/>
<rect transform="translate(207 0)" x="553.0" y="215.7" width="615.0" height="5.3" fill="url(#p3)" opacity="0.9"/>
<rect x="1386.0" y="170.0" width="306.5" height="5.0" fill="#243c6e"/>
<rect transform="translate(19 0)" x="1367.0" y="170.0" width="306.5" height="5.0" fill="url(#p4)" opacity="0.7"/>
<rect x="1386.0" y="175.0" width="306.5" height="15.0" fill="#35456c"/>
<rect transform="translate(53 0)" x="1333.0" y="175.0" width="306.5" height="5.0" fill="url(#p7)" opacity="0.7"/>
<rect transform="translate(189 0)" x="1197.0" y="180.0" width="306.5" height="5.0" fill="url(#p0)" opacity="0.7"/>
<rect transform="translate(219 0)" x="1167.0" y="185.0" width="306.5" height="5.0" fill="url(#p3)" opacity="0.7"/>
<rect x="204.5" y="281.0" width="421.5" height="14.0" fill="#163770"/>
<rect transform="translate(227 0)" x="-22.5" y="281.0" width="421.5" height="4.7" fill="url(#p5)"/>
<rect transform="translate(163 0)" x="41.5" y="285.7" width="421.5" height="4.7" fill="url(#p6)"/>
<rect transform="translate(132 0)" x="72.5" y="290.3" width="421.5" height="4.7" fill="url(#p4)"/>
<rect x="204.5" y="295.0" width="421.5" height="5.0" fill="#dac65b"/>
<rect x="204.5" y="300.0" width="421.5" height="4.0" fill="#999277"/>
<rect transform="translate(222 0)" x="-17.5" y="300.0" width="421.5" height="4.0" fill="url(#p8)" opacity="0.4"/>
<rect x="204.5" y="304.0" width="421.5" height="5.0" fill="#595e6e"/>
<rect transform="translate(172 0)" x="32.5" y="304.0" width="421.5" height="5.0" fill="url(#p4)" opacity="0.6"/>
<rect x="204.5" y="309.0" width="421.5" height="5.0" fill="#2f426d"/>
<rect transform="translate(156 0)" x="48.5" y="309.0" width="421.5" height="5.0" fill="url(#p8)"/>
<rect x="626.0" y="276.0" width="1066.5" height="5.0" fill="#35456c"/>
<rect transform="translate(11 0)" x="615.0" y="276.0" width="1066.5" height="5.0" fill="url(#p4)" opacity="0.7"/>
<rect x="626.0" y="281.0" width="1066.5" height="9.5" fill="#666970"/>
<rect transform="translate(134 0)" x="492.0" y="281.0" width="1066.5" height="4.8" fill="url(#p2)" opacity="0.45"/>
<rect transform="translate(216 0)" x="410.0" y="285.8" width="1066.5" height="4.8" fill="url(#p6)" opacity="0.45"/>
<rect x="626.0" y="290.5" width="1066.5" height="4.5" fill="#4f576c"/>
<rect transform="translate(183 0)" x="443.0" y="290.5" width="1066.5" height="4.5" fill="url(#p6)" opacity="0.6"/>
<rect x="626.0" y="295.0" width="1066.5" height="5.5" fill="#32436d"/>
<rect transform="translate(95 0)" x="531.0" y="295.0" width="1066.5" height="5.5" fill="url(#p10)" opacity="0.7"/>
<rect x="204.5" y="499.0" width="1488.0" height="4.9" fill="#053371"/>
<rect transform="translate(111 0)" x="93.5" y="499.0" width="1488.0" height="4.9" fill="url(#p8)"/>
<rect x="204.5" y="503.9" width="1488.0" height="4.9" fill="#013271"/>
<rect transform="translate(23 0)" x="181.5" y="503.9" width="1488.0" height="4.9" fill="url(#p11)"/>
<rect x="204.5" y="508.7" width="1488.0" height="4.9" fill="#003171"/>
<rect transform="translate(136 0)" x="68.5" y="508.7" width="1488.0" height="4.9" fill="url(#p7)"/>
<rect x="204.5" y="513.6" width="1488.0" height="4.9" fill="#0f3570"/>
<rect transform="translate(4 0)" x="200.5" y="513.6" width="1488.0" height="4.9" fill="url(#p5)"/>
<rect x="204.5" y="518.4" width="1488.0" height="4.9" fill="#18376f"/>
<rect transform="translate(21 0)" x="183.5" y="518.4" width="1488.0" height="4.9" fill="url(#p4)"/>
<rect x="204.5" y="523.3" width="1488.0" height="4.9" fill="#163770"/>
<rect transform="translate(166 0)" x="38.5" y="523.3" width="1488.0" height="4.9" fill="url(#p7)"/>
<rect x="204.5" y="528.1" width="1488.0" height="4.9" fill="#1c396f"/>
<rect transform="translate(220 0)" x="-15.5" y="528.1" width="1488.0" height="4.9" fill="url(#p10)"/>
<rect x="204.5" y="589.7" width="1488.0" height="3.3" fill="#4a536c"/>
<rect transform="translate(146 0)" x="58.5" y="589.7" width="1488.0" height="3.3" fill="url(#p4)" opacity="0.6"/>
<rect x="204.5" y="593.0" width="1488.0" height="7.5" fill="#2b406d"/>
<rect transform="translate(146 0)" x="58.5" y="593.0" width="1488.0" height="3.8" fill="url(#p10)" opacity="0.9"/>
<rect transform="translate(68 0)" x="136.5" y="596.8" width="1488.0" height="3.8" fill="url(#p11)" opacity="0.9"/>
<rect x="204.5" y="600.5" width="1488.0" height="8.0" fill="#243c6e"/>
<rect transform="translate(239 0)" x="-34.5" y="600.5" width="1488.0" height="4.0" fill="url(#p3)" opacity="0.9"/>
<rect transform="translate(69 0)" x="135.5" y="604.5" width="1488.0" height="4.0" fill="url(#p11)" opacity="0.9"/>
<rect x="204.5" y="608.5" width="1488.0" height="14.2" fill="#00306f"/>
<rect transform="translate(157 0)" x="47.5" y="608.5" width="1488.0" height="4.7" fill="url(#p1)" opacity="0.7"/>
<rect transform="translate(81 0)" x="123.5" y="613.2" width="1488.0" height="4.7" fill="url(#p5)" opacity="0.7"/>
<rect transform="translate(212 0)" x="-7.5" y="618.0" width="1488.0" height="4.7" fill="url(#p5)" opacity="0.7"/>
<rect x="204.5" y="622.7" width="1488.0" height="10.5" fill="#f9e03a"/>
<rect x="204.5" y="633.2" width="1488.0" height="4.1" fill="#777777"/>
<rect transform="translate(234 0)" x="-29.5" y="633.2" width="1488.0" height="4.1" fill="url(#p9)" opacity="0.4"/>
<rect x="204.5" y="637.3" width="1488.0" height="4.5" fill="#083370"/>
<rect transform="translate(246 0)" x="-41.5" y="637.3" width="1488.0" height="4.5" fill="url(#p0)"/>
<rect x="204.5" y="641.8" width="1488.0" height="4.5" fill="#777777"/>
<rect transform="translate(11 0)" x="193.5" y="641.8" width="1488.0" height="4.5" fill="url(#p8)" opacity="0.45"/>
<rect x="204.5" y="646.3" width="1488.0" height="4.4" fill="#777777"/>
<rect transform="translate(79 0)" x="125.5" y="646.3" width="1488.0" height="4.4" fill="url(#p1)" opacity="0.45"/>
<rect x="204.5" y="650.7" width="1488.0" height="5.7" fill="#c8b866"/>
<rect transform="translate(160 0)" x="44.5" y="650.7" width="1488.0" height="5.7" fill="url(#p9)" opacity="0.45"/>
<rect x="204.5" y="656.4" width="1488.0" height="4.5" fill="#7d7c78"/>
<rect transform="translate(4 0)" x="200.5" y="656.4" width="1488.0" height="4.5" fill="url(#p6)" opacity="0.45"/>
<rect x="204.5" y="660.9" width="1488.0" height="5.6" fill="#2b406d"/>
<rect transform="translate(86 0)" x="118.5" y="660.9" width="1488.0" height="5.6" fill="url(#p8)" opacity="0.45"/>
<rect x="204.5" y="666.5" width="1488.0" height="7.8" fill="#777777"/>
<rect transform="translate(4 0)" x="200.5" y="666.5" width="1488.0" height="3.9" fill="url(#p10)" opacity="0.45"/>
<rect transform="translate(88 0)" x="116.5" y="670.4" width="1488.0" height="3.9" fill="url(#p0)" opacity="0.45"/>
<rect x="204.5" y="674.3" width="1488.0" height="7.3" fill="#4f576c"/>
<rect transform="translate(87 0)" x="117.5" y="674.3" width="1488.0" height="7.3" fill="url(#p9)" opacity="0.7"/>
<rect x="204.5" y="681.6" width="1488.0" height="7.4" fill="#3b496c"/>
<rect transform="translate(194 0)" x="10.5" y="681.6" width="1488.0" height="7.4" fill="url(#p0)" opacity="0.8"/>
<rect x="204.5" y="689.0" width="1488.0" height="4.4" fill="#163770"/>
<rect transform="translate(47 0)" x="157.5" y="689.0" width="1488.0" height="4.4" fill="url(#p2)" opacity="0.5"/>
<path d="M204 674.3h2v7.0h-2zM208 674.3h2v10.0h-2zM214 674.3h1v7.0h-1zM218 674.3h2v10.0h-2zM222 674.3h3v10.0h-3zM228 674.3h1v10.0h-1zM234 674.3h1v14.7h-1zM248 674.3h1v7.0h-1zM266 674.3h2v7.0h-2zM270 674.3h3v10.0h-3zM284 674.3h1v7.0h-1zM298 674.3h2v7.0h-2zM302 674.3h1v14.7h-1zM308 674.3h2v7.0h-2zM316 674.3h2v10.0h-2zM322 674.3h1v14.7h-1zM352 674.3h1v10.0h-1zM366 674.3h2v14.7h-2zM372 674.3h1v7.0h-1zM390 674.3h1v10.0h-1zM392 674.3h1v10.0h-1zM396 674.3h1v14.7h-1zM422 674.3h1v7.0h-1zM436 674.3h2v7.0h-2zM462 674.3h1v14.7h-1zM464 674.3h3v14.7h-3zM470 674.3h2v14.7h-2zM476 674.3h1v14.7h-1zM480 674.3h2v14.7h-2zM488 674.3h1v7.0h-1zM500 674.3h1v10.0h-1zM510 674.3h2v14.7h-2zM520 674.3h3v7.0h-3zM534 674.3h2v7.0h-2zM550 674.3h1v14.7h-1zM566 674.3h2v10.0h-2zM570 674.3h1v14.7h-1zM572 674.3h2v14.7h-2zM578 674.3h1v10.0h-1zM584 674.3h3v7.0h-3zM590 674.3h1v7.0h-1zM598 674.3h1v14.7h-1zM600 674.3h1v7.0h-1zM608 674.3h1v10.0h-1zM614 674.3h3v14.7h-3zM624 674.3h1v10.0h-1zM630 674.3h3v7.0h-3zM636 674.3h1v7.0h-1zM642 674.3h3v14.7h-3zM646 674.3h1v10.0h-1zM650 674.3h1v14.7h-1zM664 674.3h3v14.7h-3zM672 674.3h1v14.7h-1zM680 674.3h1v14.7h-1zM684 674.3h1v7.0h-1zM690 674.3h1v10.0h-1zM696 674.3h1v7.0h-1zM698 674.3h1v14.7h-1zM704 674.3h1v10.0h-1zM712 674.3h2v14.7h-2zM718 674.3h1v10.0h-1zM728 674.3h1v7.0h-1zM736 674.3h2v14.7h-2zM744 674.3h1v7.0h-1zM752 674.3h3v7.0h-3zM770 674.3h3v14.7h-3zM792 674.3h1v7.0h-1zM800 674.3h1v10.0h-1zM806 674.3h2v14.7h-2zM814 674.3h1v7.0h-1zM828 674.3h1v7.0h-1zM860 674.3h1v14.7h-1zM862 674.3h2v7.0h-2zM866 674.3h1v14.7h-1zM868 674.3h1v7.0h-1zM874 674.3h2v10.0h-2zM876 674.3h1v7.0h-1zM882 674.3h3v10.0h-3zM896 674.3h1v10.0h-1zM898 674.3h1v14.7h-1zM916 674.3h1v10.0h-1zM928 674.3h1v7.0h-1zM946 674.3h3v10.0h-3zM952 674.3h1v14.7h-1zM966 674.3h3v10.0h-3zM972 674.3h2v7.0h-2zM980 674.3h1v10.0h-1zM982 674.3h1v10.0h-1zM986 674.3h1v14.7h-1zM990 674.3h3v7.0h-3zM994 674.3h3v10.0h-3zM1010 674.3h1v14.7h-1zM1022 674.3h1v14.7h-1zM1024 674.3h2v10.0h-2zM1032 674.3h1v10.0h-1zM1034 674.3h1v14.7h-1zM1038 674.3h1v7.0h-1zM1048 674.3h3v7.0h-3zM1058 674.3h1v14.7h-1zM1076 674.3h2v14.7h-2zM1080 674.3h2v14.7h-2zM1088 674.3h2v10.0h-2zM1092 674.3h1v10.0h-1zM1094 674.3h1v14.7h-1zM1096 674.3h1v10.0h-1zM1098 674.3h3v10.0h-3zM1108 674.3h3v10.0h-3zM1114 674.3h1v7.0h-1zM1124 674.3h3v10.0h-3zM1130 674.3h3v10.0h-3zM1134 674.3h3v10.0h-3zM1150 674.3h2v7.0h-2zM1164 674.3h3v10.0h-3zM1182 674.3h1v14.7h-1zM1194 674.3h2v7.0h-2zM1208 674.3h1v10.0h-1zM1214 674.3h2v7.0h-2zM1218 674.3h1v10.0h-1zM1222 674.3h2v10.0h-2zM1230 674.3h2v7.0h-2zM1234 674.3h2v7.0h-2zM1238 674.3h3v7.0h-3zM1244 674.3h1v7.0h-1zM1250 674.3h2v14.7h-2zM1254 674.3h1v14.7h-1zM1258 674.3h2v14.7h-2zM1264 674.3h3v10.0h-3zM1268 674.3h1v7.0h-1zM1286 674.3h1v10.0h-1zM1290 674.3h1v7.0h-1zM1294 674.3h3v14.7h-3zM1302 674.3h3v7.0h-3zM1310 674.3h1v14.7h-1zM1318 674.3h2v14.7h-2zM1324 674.3h2v14.7h-2zM1334 674.3h2v14.7h-2zM1340 674.3h2v14.7h-2zM1348 674.3h1v10.0h-1zM1350 674.3h3v7.0h-3zM1388 674.3h2v7.0h-2zM1392 674.3h3v7.0h-3zM1412 674.3h1v14.7h-1zM1416 674.3h1v7.0h-1zM1422 674.3h1v7.0h-1zM1430 674.3h1v7.0h-1zM1434 674.3h1v7.0h-1zM1448 674.3h1v14.7h-1zM1456 674.3h3v7.0h-3zM1460 674.3h3v10.0h-3zM1466 674.3h1v7.0h-1zM1482 674.3h2v14.7h-2zM1486 674.3h3v10.0h-3zM1522 674.3h1v14.7h-1zM1530 674.3h1v14.7h-1zM1532 674.3h1v10.0h-1zM1536 674.3h1v14.7h-1zM1550 674.3h3v14.7h-3zM1576 674.3h1v10.0h-1zM1592 674.3h1v7.0h-1zM1598 674.3h2v10.0h-2zM1602 674.3h1v14.7h-1zM1614 674.3h1v7.0h-1zM1622 674.3h1v7.0h-1zM1628 674.3h2v10.0h-2zM1638 674.3h1v14.7h-1zM1646 674.3h1v10.0h-1zM1650 674.3h1v7.0h-1zM1664 674.3h2v14.7h-2zM1670 674.3h2v14.7h-2zM1692 674.3h1v7.0h-1z" fill="#999277" fill-opacity="0.55"/>
<rect x="204.5" y="693.4" width="1488.0" height="4.9" fill="#0c3470"/>
<rect transform="translate(60 0)" x="144.5" y="693.4" width="1488.0" height="4.9" fill="url(#p10)"/>
<rect x="204.5" y="698.3" width="1488.0" height="4.9" fill="#013271"/>
<rect transform="translate(235 0)" x="-30.5" y="698.3" width="1488.0" height="4.9" fill="url(#p10)"/>
<rect x="204.5" y="703.3" width="1488.0" height="4.9" fill="#123570"/>
<rect transform="translate(199 0)" x="5.5" y="703.3" width="1488.0" height="4.9" fill="url(#p7)"/>
<rect x="204.5" y="708.2" width="1488.0" height="4.9" fill="#003070"/>
<rect transform="translate(231 0)" x="-26.5" y="708.2" width="1488.0" height="4.9" fill="url(#p8)"/>
<rect x="204.5" y="713.2" width="1488.0" height="4.9" fill="#143670"/>
<rect transform="translate(224 0)" x="-19.5" y="713.2" width="1488.0" height="4.9" fill="url(#p11)"/>
<rect x="204.5" y="718.1" width="1488.0" height="4.9" fill="#013271"/>
<rect transform="translate(229 0)" x="-24.5" y="718.1" width="1488.0" height="4.9" fill="url(#p5)"/>
<rect x="204.5" y="723.1" width="1488.0" height="4.9" fill="#003070"/>
<rect transform="translate(225 0)" x="-20.5" y="723.1" width="1488.0" height="4.9" fill="url(#p5)"/>
<rect x="204.5" y="728.0" width="1488.0" height="4.8" fill="#535a6d"/>
<rect transform="translate(90 0)" x="114.5" y="728.0" width="1488.0" height="4.8" fill="url(#p6)" opacity="0.7"/>
<rect x="204.5" y="732.8" width="1488.0" height="4.8" fill="#4a536c"/>
<rect transform="translate(222 0)" x="-17.5" y="732.8" width="1488.0" height="4.8" fill="url(#p8)" opacity="0.7"/>
<rect x="204.5" y="737.5" width="1488.0" height="4.8" fill="#535a6d"/>
<rect transform="translate(37 0)" x="167.5" y="737.5" width="1488.0" height="4.8" fill="url(#p4)" opacity="0.7"/>
<rect x="204.5" y="742.2" width="1488.0" height="4.8" fill="#48526c"/>
<rect transform="translate(41 0)" x="163.5" y="742.2" width="1488.0" height="4.8" fill="url(#p8)" opacity="0.7"/>
<rect x="204.5" y="813.0" width="1488.0" height="5.0" fill="#35456c"/>
<rect transform="translate(220 0)" x="-15.5" y="813.0" width="1488.0" height="5.0" fill="url(#p5)"/>
<rect x="204.5" y="818.0" width="1488.0" height="5.0" fill="#083370"/>
<rect transform="translate(244 0)" x="-39.5" y="818.0" width="1488.0" height="5.0" fill="url(#p4)"/>
<rect x="204.5" y="851.0" width="1488.0" height="5.0" fill="#013271"/>
<rect transform="translate(9 0)" x="195.5" y="851.0" width="1488.0" height="5.0" fill="url(#p4)"/>
<rect x="204.5" y="856.0" width="1488.0" height="5.0" fill="#083370"/>
<rect transform="translate(84 0)" x="120.5" y="856.0" width="1488.0" height="5.0" fill="url(#p3)"/>
<rect x="204.5" y="861.1" width="1488.0" height="5.0" fill="#002e6c"/>
<rect transform="translate(10 0)" x="194.5" y="861.1" width="1488.0" height="5.0" fill="url(#p2)"/>
<rect x="204.5" y="866.1" width="1488.0" height="5.0" fill="#002f6d"/>
<rect transform="translate(149 0)" x="55.5" y="866.1" width="1488.0" height="5.0" fill="url(#p0)"/>
<rect x="204.5" y="871.2" width="1488.0" height="5.0" fill="#002f6d"/>
<rect transform="translate(44 0)" x="160.5" y="871.2" width="1488.0" height="5.0" fill="url(#p7)"/>
<rect x="204.5" y="876.2" width="1488.0" height="5.0" fill="#083370"/>
<rect transform="translate(0 0)" x="204.5" y="876.2" width="1488.0" height="5.0" fill="url(#p1)"/>
<rect x="204.5" y="881.3" width="1488.0" height="5.0" fill="#003170"/>
<rect transform="translate(176 0)" x="28.5" y="881.3" width="1488.0" height="5.0" fill="url(#p2)"/>
<rect x="204.5" y="886.3" width="1488.0" height="5.0" fill="#1c396f"/>
<rect transform="translate(22 0)" x="182.5" y="886.3" width="1488.0" height="5.0" fill="url(#p6)"/>
<rect x="204.5" y="891.4" width="1488.0" height="5.0" fill="#002e6c"/>
<rect transform="translate(138 0)" x="66.5" y="891.4" width="1488.0" height="5.0" fill="url(#p2)"/>
<rect x="204.5" y="896.4" width="1488.0" height="5.0" fill="#002d68"/>
<rect transform="translate(37 0)" x="167.5" y="896.4" width="1488.0" height="5.0" fill="url(#p5)"/>
<rect x="204.5" y="901.5" width="1488.0" height="5.0" fill="#013271"/>
<rect transform="translate(250 0)" x="-45.5" y="901.5" width="1488.0" height="5.0" fill="url(#p5)"/>
<rect x="204.5" y="906.5" width="1488.0" height="5.0" fill="#013271"/>
<rect transform="translate(115 0)" x="89.5" y="906.5" width="1488.0" height="5.0" fill="url(#p4)"/>
<rect x="204.5" y="911.6" width="1488.0" height="5.0" fill="#002e6a"/>
<rect transform="translate(78 0)" x="126.5" y="911.6" width="1488.0" height="5.0" fill="url(#p3)"/>
<rect x="204.5" y="916.6" width="1488.0" height="5.0" fill="#053371"/>
<rect transform="translate(44 0)" x="160.5" y="916.6" width="1488.0" height="5.0" fill="url(#p1)"/>
<rect x="204.5" y="921.7" width="1488.0" height="5.0" fill="#003170"/>
<rect transform="translate(155 0)" x="49.5" y="921.7" width="1488.0" height="5.0" fill="url(#p4)"/>
<rect x="204.5" y="926.7" width="1488.0" height="5.0" fill="#002c66"/>
<rect transform="translate(20 0)" x="184.5" y="926.7" width="1488.0" height="5.0" fill="url(#p6)"/>
<rect x="204.5" y="931.7" width="1488.0" height="5.0" fill="#003170"/>
<rect transform="translate(105 0)" x="99.5" y="931.7" width="1488.0" height="5.0" fill="url(#p0)"/>
<rect x="204.5" y="936.8" width="1488.0" height="5.0" fill="#053371"/>
<rect transform="translate(91 0)" x="113.5" y="936.8" width="1488.0" height="5.0" fill="url(#p6)"/>
<rect x="204.5" y="941.8" width="1488.0" height="5.0" fill="#1a386f"/>
<rect transform="translate(103 0)" x="101.5" y="941.8" width="1488.0" height="5.0" fill="url(#p10)"/>
<rect x="204.5" y="946.9" width="1488.0" height="5.0" fill="#053371"/>
<rect transform="translate(197 0)" x="7.5" y="946.9" width="1488.0" height="5.0" fill="url(#p6)"/>
<rect x="204.5" y="951.9" width="1488.0" height="5.0" fill="#083370"/>
<rect transform="translate(193 0)" x="11.5" y="951.9" width="1488.0" height="5.0" fill="url(#p10)"/>
<rect x="204.5" y="957.0" width="1488.0" height="5.0" fill="#003070"/>
<rect transform="translate(54 0)" x="150.5" y="957.0" width="1488.0" height="5.0" fill="url(#p10)"/>
<rect x="204.5" y="962.0" width="1488.0" height="5.0" fill="#003170"/>
<rect transform="translate(85 0)" x="119.5" y="962.0" width="1488.0" height="5.0" fill="url(#p3)"/>
<rect x="204.5" y="967.1" width="1488.0" height="5.0" fill="#013271"/>
<rect transform="translate(218 0)" x="-13.5" y="967.1" width="1488.0" height="5.0" fill="url(#p4)"/>
<rect x="204.5" y="972.1" width="1488.0" height="5.0" fill="#002e6a"/>
<rect transform="translate(223 0)" x="-18.5" y="972.1" width="1488.0" height="5.0" fill="url(#p4)"/>
<rect x="204.5" y="977.2" width="1488.0" height="5.0" fill="#003171"/>
<rect transform="translate(249 0)" x="-44.5" y="977.2" width="1488.0" height="5.0" fill="url(#p4)"/>
<rect x="204.5" y="982.2" width="1488.0" height="5.0" fill="#003070"/>
<rect transform="translate(20 0)" x="184.5" y="982.2" width="1488.0" height="5.0" fill="url(#p1)"/>
<rect x="204.5" y="987.3" width="1488.0" height="5.0" fill="#003070"/>
<rect transform="translate(160 0)" x="44.5" y="987.3" width="1488.0" height="5.0" fill="url(#p0)"/>
<rect x="204.5" y="992.3" width="1488.0" height="5.0" fill="#053371"/>
<rect transform="translate(152 0)" x="52.5" y="992.3" width="1488.0" height="5.0" fill="url(#p3)"/>
<rect x="204.5" y="997.4" width="1488.0" height="5.0" fill="#003171"/>
<rect transform="translate(194 0)" x="10.5" y="997.4" width="1488.0" height="5.0" fill="url(#p2)"/>
<rect x="204.5" y="912.6" width="1488.0" height="6.4" fill="#203a6f"/>
<rect transform="translate(189 0)" x="15.5" y="912.6" width="1488.0" height="6.4" fill="url(#p4)"/>
<rect x="204.5" y="919.0" width="1488.0" height="7.0" fill="#273e6e"/>
<rect transform="translate(227 0)" x="-22.5" y="919.0" width="1488.0" height="7.0" fill="url(#p11)"/>
<rect x="204.5" y="950.7" width="1488.0" height="7.3" fill="#1c396f"/>
<rect transform="translate(179 0)" x="25.5" y="950.7" width="1488.0" height="7.3" fill="url(#p8)"/>
<rect x="204.5" y="958.0" width="1488.0" height="7.3" fill="#163770"/>
<rect transform="translate(128 0)" x="76.5" y="958.0" width="1488.0" height="7.3" fill="url(#p3)"/>
<rect x="204.5" y="1027.0" width="1488.0" height="4.8" fill="#053371"/>
<rect transform="translate(128 0)" x="76.5" y="1027.0" width="1488.0" height="4.8" fill="url(#p9)"/>
<rect x="204.5" y="1031.8" width="1488.0" height="4.8" fill="#053371"/>
<rect transform="translate(248 0)" x="-43.5" y="1031.8" width="1488.0" height="4.8" fill="url(#p10)"/>
<rect x="204.5" y="1036.5" width="1488.0" height="4.8" fill="#0c3470"/>
<rect transform="translate(140 0)" x="64.5" y="1036.5" width="1488.0" height="4.8" fill="url(#p8)"/>
<rect x="204.5" y="1041.2" width="1488.0" height="4.8" fill="#053371"/>
<rect transform="translate(228 0)" x="-23.5" y="1041.2" width="1488.0" height="4.8" fill="url(#p6)"/>
<rect x="204.5" y="1046.0" width="1488.0" height="4.8" fill="#003171"/>
<rect transform="translate(165 0)" x="39.5" y="1046.0" width="1488.0" height="4.8" fill="url(#p1)"/>
<rect x="204.5" y="1050.8" width="1488.0" height="4.8" fill="#002e6c"/>
<rect transform="translate(39 0)" x="165.5" y="1050.8" width="1488.0" height="4.8" fill="url(#p3)"/>
<rect x="204.5" y="1055.5" width="1488.0" height="5.0" fill="#002859"/>
<rect transform="translate(24 0)" x="180.5" y="1055.5" width="1488.0" height="5.0" fill="url(#p4)"/>
<path d="M1162 228h1V268h-1zM1670 158h1V183h-1zM948 151h1V176h-1zM1634 134h1V149h-1zM947 121h1V126h-1zM370 262h1V267h-1zM1535 264h1V274h-1zM1354 196h1V201h-1zM1115 254h1V259h-1zM1532 288h1V293h-1zM1665 129h1V139h-1zM1531 266h1V281h-1zM416 256h1V266h-1zM363 171h1V181h-1zM992 120h1V130h-1zM719 223h1V233h-1zM526 167h1V172h-1zM264 179h1V189h-1zM788 187h1V212h-1zM715 157h1V172h-1zM1310 156h1V166h-1zM620 255h1V260h-1zM1368 212h1V217h-1zM1486 238h1V278h-1zM864 257h1V262h-1zM291 210h1V220h-1zM1541 159h1V164h-1zM957 169h1V179h-1zM365 191h1V206h-1zM1036 204h1V214h-1zM1352 137h1V152h-1zM1679 228h1V238h-1zM1166 197h1V237h-1zM395 228h1V253h-1zM934 120h1V125h-1zM501 167h1V177h-1zM805 132h1V172h-1zM1520 284h1V293h-1zM368 224h1V249h-1zM1108 170h1V185h-1zM1322 153h1V158h-1zM1139 259h1V293h-1zM1257 131h1V156h-1zM889 256h1V261h-1zM723 286h1V293h-1zM909 127h1V132h-1zM344 207h1V222h-1zM1456 135h1V140h-1zM618 178h1V183h-1zM585 216h1V226h-1zM924 268h1V293h-1zM1642 260h1V265h-1zM1622 152h1V192h-1zM1462 257h1V272h-1zM291 227h1V267h-1zM213 236h1V246h-1zM477 222h1V232h-1zM921 122h1V127h-1zM382 258h1V268h-1zM875 287h1V293h-1zM334 138h1V148h-1zM1394 185h1V190h-1zM433 209h1V219h-1zM1436 150h1V155h-1zM1341 120h1V160h-1zM515 128h1V133h-1zM737 141h1V146h-1zM931 176h1V181h-1zM350 228h1V268h-1zM563 133h1V143h-1zM1622 185h1V195h-1zM289 214h1V219h-1zM735 194h1V204h-1zM919 207h1V247h-1zM734 185h1V210h-1zM1462 195h1V200h-1zM819 253h1V263h-1zM550 238h1V248h-1zM987 155h1V160h-1zM662 261h1V286h-1zM1134 211h1V216h-1zM673 276h1V286h-1zM592 128h1V138h-1zM1590 272h1V293h-1zM1083 248h1V253h-1zM1185 127h1V142h-1zM651 263h1V268h-1zM996 194h1V204h-1zM1232 147h1V172h-1zM784 127h1V132h-1zM1556 139h1V149h-1zM1406 257h1V262h-1zM1651 239h1V244h-1zM916 134h1V159h-1zM849 163h1V178h-1zM262 238h1V278h-1zM430 204h1V219h-1zM1105 208h1V218h-1zM625 257h1V272h-1zM1370 268h1V273h-1zM989 274h1V284h-1zM846 174h1V179h-1zM617 184h1V189h-1zM1024 197h1V202h-1zM830 240h1V245h-1zM805 165h1V170h-1zM539 282h1V293h-1zM833 268h1V293h-1zM615 151h1V161h-1zM643 182h1V222h-1zM1030 132h1V147h-1zM790 170h1V210h-1zM1422 149h1V154h-1zM1445 154h1V194h-1zM363 150h1V175h-1zM434 191h1V201h-1zM1665 241h1V256h-1zM663 123h1V148h-1zM911 188h1V193h-1zM913 149h1V164h-1zM1626 237h1V242h-1zM284 142h1V147h-1zM1458 186h1V191h-1zM1499 191h1V196h-1zM1182 138h1V163h-1zM1031 214h1V239h-1zM850 285h1V293h-1zM1469 131h1V156h-1zM1677 260h1V265h-1zM1613 235h1V240h-1zM798 168h1V178h-1zM301 179h1V184h-1zM1135 169h1V209h-1zM542 255h1V280h-1zM912 152h1V157h-1zM1195 205h1V245h-1zM674 224h1V249h-1zM909 283h1V293h-1zM903 223h1V228h-1zM695 216h1V231h-1zM1354 211h1V251h-1zM1119 253h1V263h-1zM619 234h1V239h-1zM677 288h1V293h-1zM1358 241h1V256h-1zM787 253h1V293h-1zM1250 257h1V293h-1zM1045 276h1V286h-1zM461 275h1V293h-1zM367 266h1V271h-1zM414 277h1V287h-1zM712 123h1V148h-1zM849 230h1V255h-1zM1025 134h1V139h-1zM1220 182h1V222h-1zM779 281h1V293h-1zM1452 177h1V192h-1zM283 154h1V179h-1zM1524 189h1V194h-1zM1439 144h1V149h-1zM1113 279h1V293h-1zM357 153h1V178h-1zM866 229h1V254h-1zM1329 158h1V183h-1zM863 183h1V198h-1zM1125 263h1V268h-1zM274 231h1V236h-1zM982 237h1V242h-1zM999 276h1V286h-1zM826 136h1V161h-1zM299 208h1V218h-1zM820 161h1V166h-1zM1081 168h1V173h-1zM714 148h1V163h-1zM296 234h1V249h-1zM1281 136h1V141h-1zM293 255h1V260h-1zM335 200h1V240h-1zM284 270h1V280h-1zM1369 259h1V264h-1zM1535 145h1V185h-1zM621 128h1V143h-1zM586 221h1V231h-1zM457 231h1V236h-1zM951 148h1V163h-1zM1295 258h1V293h-1zM944 187h1V197h-1zM1130 217h1V222h-1zM279 161h1V171h-1zM1603 212h1V252h-1zM1511 234h1V259h-1zM1140 254h1V259h-1zM1240 255h1V280h-1zM220 257h1V272h-1zM1145 285h1V290h-1zM801 216h1V231h-1zM646 134h1V174h-1zM1082 156h1V166h-1zM311 257h1V293h-1zM879 260h1V275h-1zM234 255h1V280h-1zM1021 201h1V211h-1zM1383 212h1V237h-1zM707 127h1V152h-1zM1481 247h1V252h-1zM1262 254h1V264h-1zM1032 169h1V209h-1zM1361 172h1V187h-1zM403 127h1V132h-1zM1274 228h1V233h-1zM592 149h1V154h-1zM235 144h1V154h-1zM1681 326h1V336h-1zM628 353h1V363h-1zM715 335h1V360h-1zM440 348h1V376h-1zM1619 369h1V376h-1zM542 323h1V328h-1zM1373 343h1V358h-1zM1663 361h1V371h-1zM1284 311h1V316h-1zM925 360h1V365h-1zM1153 337h1V352h-1zM733 330h1V340h-1zM578 356h1V366h-1zM1275 346h1V356h-1zM1585 319h1V329h-1zM944 326h1V336h-1zM1513 365h1V376h-1zM1538 329h1V339h-1zM828 365h1V370h-1zM1143 357h1V376h-1zM634 327h1V332h-1zM1170 312h1V352h-1zM502 357h1V376h-1zM979 364h1V376h-1zM1348 333h1V338h-1zM882 352h1V367h-1zM689 317h1V322h-1zM1291 315h1V325h-1zM1602 346h1V356h-1zM1382 332h1V347h-1zM724 352h1V367h-1zM1131 372h1V376h-1zM1544 361h1V376h-1zM542 368h1V373h-1zM1260 358h1V376h-1zM1517 335h1V350h-1zM996 349h1V354h-1zM1390 370h1V376h-1zM676 330h1V335h-1zM921 343h1V353h-1zM1667 338h1V348h-1zM1157 370h1V376h-1zM1666 313h1V318h-1zM738 320h1V330h-1zM1443 350h1V360h-1zM976 314h1V339h-1zM1171 326h1V331h-1zM1516 342h1V347h-1zM987 325h1V335h-1zM1060 365h1V375h-1zM816 329h1V339h-1zM380 339h1V349h-1zM394 350h1V365h-1zM1681 365h1V376h-1zM533 355h1V365h-1zM890 323h1V333h-1zM1421 370h1V376h-1zM750 338h1V353h-1zM1517 364h1V374h-1zM843 336h1V341h-1zM1277 338h1V353h-1zM869 363h1V373h-1zM1099 348h1V353h-1zM1676 314h1V319h-1zM829 359h1V364h-1zM855 328h1V333h-1zM425 321h1V326h-1zM1442 368h1V373h-1zM342 323h1V338h-1zM1001 358h1V368h-1zM1302 366h1V376h-1zM580 351h1V356h-1zM837 312h1V327h-1zM1157 357h1V372h-1zM1114 357h1V376h-1zM651 332h1V357h-1zM409 328h1V338h-1zM216 332h1V342h-1zM330 323h1V333h-1zM742 516h1V531h-1zM996 511h1V521h-1zM1258 520h1V525h-1zM477 525h1V530h-1zM1059 507h1V517h-1zM944 517h1V533h-1zM594 523h1V533h-1zM611 515h1V533h-1zM1133 527h1V532h-1zM901 520h1V525h-1zM1201 518h1V528h-1zM1439 502h1V512h-1zM548 525h1V530h-1zM555 520h1V530h-1zM230 505h1V533h-1zM960 507h1V512h-1zM729 507h1V512h-1zM486 516h1V526h-1zM606 512h1V517h-1zM804 528h1V533h-1zM925 501h1V511h-1zM286 526h1V531h-1zM1507 502h1V527h-1zM730 500h1V505h-1zM1203 521h1V533h-1zM1480 527h1V533h-1zM243 511h1V533h-1zM309 506h1V511h-1zM1321 502h1V507h-1zM1025 501h1V516h-1zM688 513h1V523h-1zM1456 504h1V519h-1zM985 525h1V533h-1zM1321 528h1V533h-1zM932 517h1V522h-1zM641 502h1V507h-1zM918 506h1V531h-1zM499 501h1V526h-1zM803 501h1V526h-1zM872 520h1V533h-1zM282 517h1V527h-1zM1307 603h1V608h-1zM345 596h1V608h-1zM1629 593h1V598h-1zM288 601h1V608h-1zM1011 602h1V607h-1zM607 598h1V608h-1zM562 593h1V608h-1zM1291 594h1V608h-1zM220 599h1V608h-1zM1651 596h1V601h-1zM1224 599h1V608h-1zM234 602h1V607h-1zM1011 599h1V604h-1zM1185 595h1V605h-1zM1026 599h1V608h-1zM349 595h1V608h-1zM753 604h1V608h-1zM498 604h1V608h-1zM1373 594h1V604h-1zM1455 601h1V608h-1zM1251 601h1V606h-1zM878 597h1V608h-1zM309 603h1V608h-1zM445 695h1V710h-1zM860 704h1V709h-1zM915 716h1V721h-1zM512 718h1V723h-1zM1672 723h1V728h-1zM786 724h1V728h-1zM348 703h1V728h-1zM1250 702h1V707h-1zM556 703h1V728h-1zM999 716h1V728h-1zM695 695h1V705h-1zM972 694h1V704h-1zM689 694h1V728h-1zM749 704h1V728h-1zM719 708h1V713h-1zM719 703h1V728h-1zM1534 695h1V710h-1zM443 724h1V728h-1zM784 706h1V716h-1zM956 709h1V714h-1zM1098 699h1V724h-1zM1077 717h1V727h-1zM1398 708h1V713h-1zM354 713h1V718h-1zM500 695h1V705h-1zM526 722h1V728h-1zM524 713h1V723h-1zM1514 694h1V699h-1zM969 721h1V728h-1zM899 717h1V727h-1zM1470 708h1V713h-1zM1325 700h1V705h-1zM810 694h1V728h-1zM607 718h1V728h-1zM1305 708h1V713h-1zM1525 713h1V728h-1zM309 699h1V714h-1zM1615 718h1V728h-1zM698 717h1V727h-1zM1260 701h1V706h-1zM490 735h1V745h-1zM905 742h1V747h-1zM1425 734h1V744h-1zM762 741h1V746h-1zM502 734h1V747h-1zM1009 734h1V739h-1zM1540 735h1V745h-1zM1309 729h1V747h-1zM1448 730h1V735h-1zM721 737h1V742h-1zM208 736h1V741h-1zM326 729h1V734h-1zM212 732h1V747h-1zM391 739h1V747h-1zM1632 729h1V747h-1zM1283 740h1V745h-1zM643 731h1V746h-1zM1358 732h1V747h-1zM437 733h1V743h-1zM1112 739h1V747h-1zM1182 740h1V747h-1zM1017 737h1V742h-1zM489 740h1V747h-1zM838 739h1V747h-1zM986 733h1V738h-1zM756 738h1V747h-1zM1532 733h1V738h-1zM1529 737h1V747h-1zM1166 735h1V740h-1zM1195 733h1V743h-1zM1645 729h1V739h-1zM729 911h1V921h-1zM565 977h1V982h-1zM1333 862h1V872h-1zM317 940h1V980h-1zM295 877h1V882h-1zM992 856h1V871h-1zM1252 975h1V985h-1zM1356 875h1V885h-1zM773 996h1V1001h-1zM228 905h1V920h-1zM366 960h1V970h-1zM734 895h1V920h-1zM527 981h1V1002h-1zM839 970h1V1002h-1zM1560 974h1V984h-1zM1608 983h1V998h-1zM1259 927h1V937h-1zM1201 981h1V1002h-1zM1574 879h1V884h-1zM551 943h1V958h-1zM1384 882h1V897h-1zM1263 983h1V993h-1zM976 870h1V875h-1zM1454 948h1V963h-1zM1527 939h1V944h-1zM1301 876h1V881h-1zM773 878h1V918h-1zM1253 960h1V975h-1zM857 936h1V941h-1zM687 942h1V957h-1zM1202 947h1V972h-1zM1198 929h1V939h-1zM1383 966h1V1002h-1zM939 916h1V926h-1zM1451 925h1V935h-1zM1093 882h1V887h-1zM1026 959h1V999h-1zM422 906h1V921h-1zM993 862h1V887h-1zM425 910h1V950h-1zM439 896h1V906h-1zM609 854h1V879h-1zM1297 968h1V983h-1zM660 874h1V879h-1zM973 906h1V911h-1zM1598 931h1V971h-1zM1393 864h1V889h-1zM1556 863h1V873h-1zM1184 891h1V931h-1zM262 866h1V891h-1zM1311 881h1V891h-1zM1121 984h1V1002h-1zM539 900h1V905h-1zM586 874h1V914h-1zM1318 914h1V929h-1zM381 947h1V957h-1zM1081 952h1V962h-1zM966 895h1V935h-1zM528 897h1V937h-1zM1320 934h1V959h-1zM1357 981h1V1002h-1zM1235 875h1V880h-1zM1686 927h1V937h-1zM1088 862h1V872h-1zM1577 879h1V894h-1zM1327 971h1V986h-1zM607 971h1V981h-1zM651 976h1V981h-1zM461 866h1V871h-1zM1602 945h1V955h-1zM1385 860h1V865h-1zM542 903h1V928h-1zM1456 880h1V920h-1zM1318 938h1V978h-1zM443 973h1V988h-1zM1128 918h1V933h-1zM1213 856h1V866h-1zM546 979h1V989h-1zM1493 942h1V952h-1zM1508 949h1V959h-1zM1689 866h1V871h-1zM923 886h1V896h-1zM823 969h1V979h-1zM1195 888h1V898h-1zM1391 980h1V1002h-1zM804 896h1V906h-1zM1057 990h1V1002h-1zM493 919h1V944h-1zM701 925h1V940h-1zM868 859h1V869h-1zM1235 979h1V989h-1zM1080 884h1V899h-1zM265 904h1V909h-1zM918 915h1V920h-1zM941 881h1V891h-1zM1575 869h1V879h-1zM363 908h1V923h-1zM494 971h1V996h-1zM1266 867h1V892h-1zM824 902h1V917h-1zM453 948h1V953h-1zM681 974h1V1002h-1zM1572 905h1V945h-1zM423 942h1V952h-1zM1373 943h1V948h-1zM1441 938h1V943h-1zM1501 995h1V1000h-1zM1332 967h1V977h-1zM726 863h1V903h-1zM250 994h1V1002h-1zM1612 938h1V978h-1zM903 969h1V974h-1zM472 913h1V923h-1zM630 938h1V943h-1zM552 929h1V944h-1zM1111 966h1V971h-1zM481 955h1V970h-1zM214 901h1V911h-1zM1547 900h1V905h-1zM1046 969h1V1002h-1zM1118 857h1V897h-1zM794 891h1V896h-1zM1194 925h1V950h-1zM312 866h1V906h-1zM338 866h1V881h-1zM217 859h1V869h-1zM1251 993h1V998h-1zM1669 910h1V920h-1zM1600 920h1V935h-1zM510 906h1V911h-1zM872 965h1V975h-1zM799 866h1V906h-1zM1139 984h1V999h-1zM1609 939h1V949h-1zM431 865h1V905h-1zM842 923h1V933h-1zM1020 958h1V973h-1zM596 908h1V913h-1zM1618 862h1V887h-1zM1647 958h1V998h-1zM430 895h1V905h-1zM918 963h1V968h-1zM487 965h1V970h-1zM788 887h1V927h-1zM354 902h1V912h-1zM352 921h1V926h-1zM1167 874h1V879h-1zM239 856h1V866h-1zM882 900h1V905h-1zM1445 963h1V978h-1zM875 986h1V996h-1zM444 938h1V948h-1zM1343 928h1V933h-1zM1130 898h1V913h-1zM1657 988h1V993h-1zM414 974h1V984h-1zM410 945h1V960h-1zM1095 910h1V920h-1zM1393 924h1V939h-1zM616 978h1V988h-1zM1049 969h1V994h-1zM1199 967h1V1002h-1zM443 979h1V1002h-1zM1334 892h1V902h-1zM793 896h1V906h-1zM218 978h1V983h-1zM1313 871h1V876h-1zM1496 901h1V906h-1zM642 941h1V951h-1zM257 980h1V990h-1zM1034 906h1V911h-1zM1182 867h1V877h-1zM311 869h1V879h-1zM1311 868h1V893h-1zM445 853h1V863h-1zM576 876h1V901h-1zM1227 856h1V866h-1zM1068 975h1V1002h-1zM1258 927h1V932h-1zM1261 893h1V898h-1zM1616 855h1V860h-1zM1156 944h1V954h-1zM1130 936h1V941h-1zM818 870h1V875h-1zM1676 933h1V943h-1zM1023 912h1V952h-1zM684 964h1V1002h-1zM1300 862h1V872h-1zM610 955h1V965h-1zM979 892h1V897h-1zM699 1041h1V1056h-1zM1250 1035h1V1056h-1zM1283 1031h1V1056h-1zM979 1043h1V1056h-1zM1672 1029h1V1056h-1zM993 1038h1V1043h-1zM1156 1033h1V1038h-1zM1637 1047h1V1056h-1zM765 1029h1V1054h-1zM238 1047h1V1056h-1zM604 1031h1V1056h-1zM1373 1035h1V1040h-1zM1521 1051h1V1056h-1zM1503 1029h1V1056h-1zM375 1036h1V1056h-1zM1246 1034h1V1056h-1zM397 1034h1V1056h-1zM1112 1033h1V1056h-1zM1149 1027h1V1032h-1zM1613 1032h1V1047h-1zM1098 1029h1V1034h-1zM1463 1035h1V1040h-1zM800 1035h1V1045h-1zM828 1040h1V1050h-1zM1271 1051h1V1056h-1zM1411 1048h1V1056h-1zM1572 1051h1V1056h-1zM1140 1043h1V1048h-1zM1337 1042h1V1056h-1zM901 1047h1V1056h-1zM1191 1030h1V1055h-1z" fill="#5c6276" fill-opacity="0.4"/>
<path d="M1366 133h1V173h-1zM998 201h1V241h-1zM1683 151h1V161h-1zM284 252h1V262h-1zM606 282h1V293h-1zM1240 246h1V251h-1zM1388 154h1V169h-1zM424 199h1V209h-1zM329 183h1V188h-1zM1502 203h1V218h-1zM900 128h1V168h-1zM1577 230h1V240h-1zM1004 204h1V214h-1zM413 202h1V212h-1zM1099 157h1V162h-1zM1278 276h1V293h-1zM1274 176h1V181h-1zM1453 234h1V259h-1zM1504 270h1V285h-1zM798 270h1V293h-1zM1289 148h1V173h-1zM603 174h1V184h-1zM1342 150h1V190h-1zM807 128h1V138h-1zM839 128h1V138h-1zM423 223h1V233h-1zM1420 161h1V166h-1zM977 251h1V261h-1zM1683 232h1V237h-1zM1120 177h1V187h-1zM459 148h1V163h-1zM572 134h1V139h-1zM628 194h1V219h-1zM1429 220h1V235h-1zM970 219h1V244h-1zM868 172h1V182h-1zM357 145h1V170h-1zM1521 240h1V255h-1zM665 155h1V160h-1zM693 166h1V181h-1zM1052 219h1V234h-1zM482 257h1V262h-1zM1540 182h1V222h-1zM418 187h1V192h-1zM372 120h1V160h-1zM446 288h1V293h-1zM1227 186h1V191h-1zM1215 159h1V164h-1zM1293 172h1V177h-1zM1113 184h1V189h-1zM510 138h1V153h-1zM285 155h1V165h-1zM573 214h1V224h-1zM1600 215h1V225h-1zM342 234h1V244h-1zM1212 204h1V244h-1zM805 190h1V215h-1zM943 152h1V177h-1zM1052 259h1V264h-1zM368 164h1V189h-1zM754 150h1V190h-1zM1685 139h1V164h-1zM1443 215h1V220h-1zM499 241h1V246h-1zM1260 216h1V221h-1zM1002 223h1V233h-1zM548 285h1V290h-1zM357 167h1V182h-1zM1494 138h1V143h-1zM896 127h1V137h-1zM631 131h1V136h-1zM916 269h1V293h-1zM1170 191h1V201h-1zM1371 241h1V256h-1zM826 206h1V211h-1zM1671 178h1V188h-1zM356 196h1V201h-1zM632 185h1V195h-1zM698 174h1V179h-1zM764 254h1V279h-1zM958 283h1V288h-1zM886 167h1V182h-1zM1078 239h1V249h-1zM811 156h1V161h-1zM382 218h1V228h-1zM572 284h1V293h-1zM876 142h1V147h-1zM667 166h1V171h-1zM670 192h1V197h-1zM573 255h1V265h-1zM1408 226h1V231h-1zM1672 173h1V178h-1zM1369 154h1V164h-1zM729 155h1V160h-1zM983 260h1V275h-1zM459 244h1V259h-1zM1560 253h1V268h-1zM1086 132h1V147h-1zM1652 170h1V195h-1zM1183 131h1V141h-1zM800 279h1V289h-1zM1632 128h1V133h-1zM622 229h1V234h-1zM1226 274h1V284h-1zM649 210h1V220h-1zM1279 256h1V293h-1zM954 215h1V225h-1zM912 267h1V277h-1zM260 233h1V273h-1zM846 237h1V242h-1zM715 124h1V164h-1zM740 139h1V144h-1zM901 166h1V206h-1zM934 207h1V212h-1zM1566 235h1V260h-1zM694 220h1V225h-1zM830 128h1V143h-1zM585 261h1V271h-1zM1528 288h1V293h-1zM481 272h1V293h-1zM601 216h1V226h-1zM1246 237h1V242h-1zM444 243h1V258h-1zM297 281h1V293h-1zM1513 231h1V241h-1zM468 272h1V282h-1zM615 217h1V227h-1zM1129 270h1V293h-1zM245 222h1V262h-1zM1507 258h1V263h-1zM1428 136h1V141h-1zM1163 248h1V253h-1zM1674 196h1V206h-1zM1461 194h1V199h-1zM1431 232h1V237h-1zM665 207h1V217h-1zM970 233h1V238h-1zM522 193h1V233h-1zM827 202h1V207h-1zM802 229h1V244h-1zM522 163h1V203h-1zM400 136h1V161h-1zM628 273h1V278h-1zM646 251h1V276h-1zM1063 217h1V242h-1zM578 247h1V272h-1zM1132 246h1V251h-1zM792 247h1V272h-1zM995 184h1V194h-1zM1348 259h1V293h-1zM1678 182h1V197h-1zM493 168h1V208h-1zM315 187h1V192h-1zM1185 238h1V253h-1zM364 231h1V236h-1zM1559 181h1V221h-1zM1568 289h1V293h-1zM961 366h1V376h-1zM1037 324h1V334h-1zM1672 358h1V376h-1zM1613 365h1V375h-1zM1517 324h1V334h-1zM440 350h1V360h-1zM699 328h1V333h-1zM1578 352h1V376h-1zM1263 359h1V364h-1zM1404 352h1V357h-1zM610 340h1V376h-1zM281 319h1V329h-1zM1536 356h1V361h-1zM771 350h1V376h-1zM1302 355h1V370h-1zM1229 330h1V340h-1zM269 326h1V331h-1zM899 341h1V356h-1zM1028 332h1V357h-1zM1635 341h1V366h-1zM1010 346h1V351h-1zM526 347h1V352h-1zM1274 366h1V371h-1zM821 322h1V332h-1zM255 364h1V369h-1zM284 340h1V345h-1zM1356 364h1V374h-1zM1245 324h1V329h-1zM1380 324h1V334h-1zM1603 354h1V364h-1zM237 311h1V316h-1zM1204 318h1V328h-1zM267 336h1V376h-1zM283 346h1V376h-1zM1143 365h1V375h-1zM1105 312h1V327h-1zM950 330h1V370h-1zM562 315h1V325h-1zM1427 341h1V366h-1zM1151 341h1V346h-1zM1143 320h1V330h-1zM911 315h1V325h-1zM1516 321h1V331h-1zM784 324h1V364h-1zM1184 315h1V340h-1zM1336 346h1V371h-1zM1606 345h1V355h-1zM278 314h1V339h-1zM1158 339h1V376h-1zM1075 343h1V368h-1zM1327 330h1V340h-1zM1350 342h1V376h-1zM1676 334h1V339h-1zM1434 368h1V373h-1zM1561 321h1V331h-1zM1116 326h1V336h-1zM218 367h1V376h-1zM1457 358h1V373h-1zM248 336h1V346h-1zM1528 506h1V516h-1zM536 520h1V530h-1zM409 519h1V529h-1zM209 509h1V519h-1zM1364 528h1V533h-1zM240 499h1V504h-1zM1084 508h1V518h-1zM567 500h1V505h-1zM818 520h1V533h-1zM273 516h1V533h-1zM337 514h1V533h-1zM347 508h1V513h-1zM418 522h1V527h-1zM1507 508h1V533h-1zM1216 508h1V513h-1zM1331 527h1V533h-1zM1407 520h1V533h-1zM638 506h1V511h-1zM1396 518h1V533h-1zM265 527h1V532h-1zM1043 516h1V531h-1zM1432 511h1V516h-1zM1355 515h1V520h-1zM1468 509h1V514h-1zM1184 528h1V533h-1zM313 500h1V505h-1zM428 501h1V526h-1zM221 527h1V533h-1zM1565 520h1V533h-1zM1467 500h1V515h-1zM236 521h1V531h-1zM324 603h1V608h-1zM610 599h1V604h-1zM1675 601h1V608h-1zM213 599h1V608h-1zM940 594h1V599h-1zM250 596h1V608h-1zM1036 597h1V602h-1zM447 596h1V606h-1zM1512 600h1V608h-1zM505 721h1V728h-1zM1090 708h1V713h-1zM966 719h1V728h-1zM1590 712h1V717h-1zM1017 698h1V723h-1zM477 698h1V708h-1zM884 717h1V727h-1zM1034 700h1V728h-1zM511 702h1V727h-1zM386 718h1V728h-1zM1308 705h1V710h-1zM834 715h1V725h-1zM1461 717h1V727h-1zM1246 720h1V728h-1zM482 724h1V728h-1zM1425 709h1V714h-1zM1433 703h1V708h-1zM965 699h1V709h-1zM596 696h1V721h-1zM1517 710h1V728h-1zM647 706h1V728h-1zM1471 714h1V728h-1zM1449 719h1V728h-1zM1135 713h1V728h-1zM968 715h1V720h-1zM1625 700h1V710h-1zM324 707h1V717h-1zM544 716h1V728h-1zM648 704h1V719h-1zM935 709h1V724h-1zM760 704h1V709h-1zM1608 719h1V728h-1zM1222 700h1V705h-1zM866 730h1V735h-1zM856 732h1V742h-1zM1426 730h1V747h-1zM700 743h1V747h-1zM1605 729h1V734h-1zM417 738h1V747h-1zM1551 729h1V739h-1zM667 742h1V747h-1zM952 736h1V741h-1zM1061 960h1V965h-1zM494 976h1V1001h-1zM1078 942h1V947h-1zM1197 916h1V941h-1zM1204 922h1V927h-1zM1206 906h1V911h-1zM567 979h1V1002h-1zM253 965h1V970h-1zM800 979h1V994h-1zM1325 866h1V876h-1zM969 970h1V995h-1zM894 892h1V902h-1zM1120 898h1V903h-1zM1124 976h1V1002h-1zM1018 992h1V997h-1zM1617 855h1V865h-1zM930 893h1V908h-1zM523 907h1V912h-1zM1010 884h1V899h-1zM1255 969h1V974h-1zM1385 943h1V953h-1zM615 953h1V963h-1zM1366 888h1V893h-1zM747 891h1V896h-1zM256 943h1V953h-1zM699 856h1V881h-1zM1170 964h1V989h-1zM794 900h1V915h-1zM1068 855h1V860h-1zM609 860h1V885h-1zM209 863h1V868h-1zM1132 930h1V970h-1zM1071 964h1V979h-1zM1273 966h1V971h-1zM699 992h1V1002h-1zM677 917h1V932h-1zM302 852h1V857h-1zM1000 907h1V912h-1zM1043 977h1V982h-1zM1550 859h1V874h-1zM391 925h1V930h-1zM293 864h1V874h-1zM831 974h1V979h-1zM957 987h1V1002h-1zM1001 851h1V861h-1zM1309 918h1V928h-1zM1200 969h1V1002h-1zM1681 861h1V866h-1zM883 921h1V946h-1zM1541 869h1V894h-1zM629 887h1V897h-1zM1258 954h1V959h-1zM481 853h1V863h-1zM901 954h1V959h-1zM868 989h1V1002h-1zM237 974h1V984h-1zM235 880h1V895h-1zM1277 923h1V928h-1zM658 893h1V898h-1zM948 861h1V876h-1zM1040 987h1V992h-1zM694 929h1V939h-1zM1411 897h1V907h-1zM862 946h1V971h-1zM534 978h1V983h-1zM1097 852h1V877h-1zM919 903h1V913h-1zM701 905h1V910h-1zM357 955h1V970h-1zM1313 869h1V874h-1zM1089 879h1V919h-1zM479 955h1V980h-1zM930 864h1V879h-1zM629 985h1V990h-1zM774 887h1V927h-1zM249 900h1V905h-1zM734 993h1V1002h-1zM917 876h1V891h-1zM416 975h1V985h-1zM966 858h1V868h-1zM1005 974h1V984h-1zM959 898h1V938h-1zM290 981h1V1002h-1zM1242 943h1V953h-1zM455 886h1V911h-1zM263 976h1V981h-1zM946 936h1V951h-1zM857 947h1V957h-1zM860 879h1V884h-1zM663 897h1V922h-1zM295 930h1V970h-1zM1373 865h1V905h-1zM538 967h1V1002h-1zM770 961h1V986h-1zM929 896h1V911h-1zM621 876h1V901h-1zM1382 866h1V871h-1zM787 947h1V962h-1zM1154 910h1V915h-1zM737 923h1V938h-1zM1356 854h1V864h-1zM611 885h1V900h-1zM1014 922h1V962h-1zM878 900h1V925h-1zM1241 965h1V970h-1zM348 908h1V923h-1zM1078 925h1V935h-1zM1424 881h1V891h-1zM347 975h1V980h-1zM624 904h1V909h-1zM372 977h1V982h-1zM405 878h1V888h-1zM1110 898h1V908h-1zM1020 934h1V974h-1zM454 857h1V862h-1zM1342 883h1V893h-1zM1300 995h1V1000h-1zM617 975h1V1000h-1zM1628 913h1V953h-1zM1334 989h1V999h-1zM1064 953h1V958h-1zM408 861h1V866h-1zM959 884h1V889h-1zM972 862h1V872h-1zM646 880h1V890h-1zM809 908h1V918h-1zM1070 941h1V966h-1zM371 918h1V958h-1zM1198 888h1V898h-1zM363 910h1V950h-1zM1587 966h1V976h-1zM1291 1047h1V1052h-1zM476 1046h1V1051h-1zM593 1034h1V1056h-1zM1001 1035h1V1040h-1zM1156 1029h1V1039h-1zM259 1047h1V1056h-1zM1360 1050h1V1055h-1zM860 1038h1V1053h-1zM1138 1035h1V1056h-1zM1499 1049h1V1054h-1zM920 1049h1V1054h-1zM304 1042h1V1052h-1zM369 1039h1V1056h-1zM303 1032h1V1042h-1zM315 1029h1V1039h-1zM570 1051h1V1056h-1zM789 1050h1V1056h-1zM1654 1038h1V1053h-1zM383 1048h1V1053h-1zM459 1043h1V1056h-1zM864 1047h1V1056h-1zM952 1049h1V1054h-1zM1042 1046h1V1051h-1zM877 1033h1V1056h-1zM337 1050h1V1056h-1zM466 1038h1V1043h-1zM1115 1038h1V1056h-1zM670 1046h1V1056h-1zM1334 1035h1V1056h-1z" fill="#001a45" fill-opacity="0.45"/>
<g opacity="0.75">
<path d="M1660 522h1v11h-1zM675 522h1v5h-1zM1225 511h1v5h-1zM856 516h1v6h-1zM1468 516h1v17h-1zM1065 505h2v6h-2zM1392 511h1v5h-1zM1492 527h2v6h-2zM1516 516h1v11h-1zM1323 522h1v11h-1zM1029 522h1v5h-1zM1645 505h2v6h-2zM837 527h1v6h-1zM285 505h2v6h-2zM950 511h1v5h-1zM1401 505h1v11h-1zM1642 505h2v17h-2zM1368 511h1v11h-1zM449 522h1v11h-1zM489 511h1v5h-1zM898 511h1v16h-1zM833 505h1v17h-1zM1147 516h2v11h-2zM1688 516h1v6h-1zM1130 516h1v6h-1zM495 522h1v11h-1zM789 511h2v16h-2zM691 522h2v5h-2zM1260 511h2v5h-2zM226 516h1v6h-1zM328 527h1v6h-1zM848 505h1v17h-1zM1339 516h1v11h-1zM889 516h1v11h-1zM420 505h1v11h-1zM888 511h1v5h-1zM1514 505h1v11h-1zM713 511h1v5h-1zM413 505h1v6h-1zM357 505h1v11h-1zM1477 511h2v11h-2zM222 522h1v5h-1zM1625 522h1v5h-1zM1199 511h1v5h-1zM576 522h1v5h-1zM672 505h1v11h-1zM972 527h1v6h-1zM679 505h2v6h-2zM1267 522h1v5h-1zM770 522h1v5h-1zM295 516h1v11h-1zM1552 511h1v11h-1zM1534 505h1v6h-1zM380 505h2v6h-2zM367 527h2v6h-2zM1524 511h1v5h-1zM1257 522h1v5h-1zM584 522h2v5h-2zM1045 516h2v11h-2zM947 511h2v5h-2zM801 516h1v11h-1zM1653 522h1v11h-1zM637 516h2v11h-2zM1373 505h1v6h-1zM311 505h1v11h-1zM279 522h1v5h-1zM477 511h1v5h-1zM748 516h1v17h-1zM972 511h1v16h-1zM683 505h1v6h-1zM1018 522h1v11h-1zM841 511h1v16h-1zM426 522h1v5h-1zM787 511h1v16h-1zM717 516h1v6h-1zM1493 505h1v11h-1zM1236 505h1v6h-1zM384 516h2v17h-2zM708 505h1v17h-1zM326 505h1v6h-1zM401 527h2v6h-2zM959 505h1v6h-1zM314 516h2v17h-2zM886 511h2v11h-2zM1264 505h1v17h-1zM1437 516h1v11h-1zM1364 527h1v6h-1zM546 527h1v6h-1zM674 516h1v6h-1zM905 527h2v6h-2zM1176 527h1v6h-1zM278 511h2v16h-2zM1672 505h2v11h-2zM1156 516h1v17h-1zM1103 505h1v11h-1zM1420 527h1v6h-1zM415 505h1v11h-1zM1491 522h1v11h-1zM1083 511h1v11h-1zM1227 505h1v11h-1zM444 516h1v11h-1zM624 511h1v11h-1zM1040 522h2v5h-2zM314 522h1v11h-1zM396 516h2v11h-2zM519 522h2v11h-2zM1580 511h1v5h-1zM743 516h1v6h-1zM1204 527h1v6h-1zM812 516h1v11h-1zM1238 511h1v11h-1zM484 516h1v11h-1zM1003 516h1v6h-1zM1107 505h1v11h-1zM1139 527h1v6h-1zM1362 511h1v5h-1zM1051 522h2v5h-2zM1671 522h2v5h-2zM294 522h1v11h-1zM787 516h2v17h-2zM1522 527h2v6h-2zM1590 505h1v6h-1zM1265 527h1v6h-1zM431 527h2v6h-2zM1361 511h2v11h-2zM238 522h1v11h-1zM1368 505h1v11h-1zM1098 511h2v11h-2zM1444 527h1v6h-1zM413 516h2v6h-2zM1562 516h1v17h-1zM822 511h1v11h-1zM754 516h1v11h-1zM1108 527h1v6h-1zM1268 527h1v6h-1zM1077 511h1v11h-1zM675 511h1v5h-1zM931 511h1v5h-1zM431 527h1v6h-1zM983 511h2v5h-2zM670 511h1v11h-1zM1413 505h2v11h-2zM1631 511h2v11h-2zM586 511h1v11h-1zM1213 505h1v6h-1zM1447 511h1v5h-1zM1267 505h1v6h-1zM554 511h1v11h-1zM1221 511h1v5h-1zM1553 522h2v11h-2zM1688 505h1v6h-1zM1344 522h1v11h-1zM344 522h1v11h-1zM1207 527h1v6h-1zM1447 522h1v11h-1zM1648 511h1v5h-1zM561 527h1v6h-1zM667 511h1v11h-1zM260 511h1v5h-1zM1397 516h1v6h-1zM519 511h1v11h-1zM1578 522h1v5h-1zM404 505h1v6h-1zM767 516h1v6h-1zM775 511h1v11h-1zM1435 522h1v11h-1zM1605 527h1v6h-1zM980 505h1v6h-1zM417 516h1v6h-1zM1639 527h1v6h-1zM1511 505h1v17h-1zM1649 527h1v6h-1zM1055 527h1v6h-1z" fill="#4f576c"/>
<path d="M903 511h1v16h-1zM901 527h1v6h-1zM1282 516h1v11h-1zM718 516h1v11h-1zM679 527h2v6h-2zM1470 511h1v11h-1zM415 527h2v6h-2zM495 511h1v16h-1zM1649 505h1v6h-1zM618 527h1v6h-1zM472 505h1v6h-1zM487 522h1v5h-1zM382 511h1v11h-1zM1183 511h1v11h-1zM242 516h1v6h-1zM689 505h1v6h-1zM389 527h2v6h-2zM867 511h1v11h-1zM1540 527h1v6h-1zM1152 522h2v5h-2zM830 527h2v6h-2zM284 511h2v5h-2zM975 511h1v11h-1zM582 527h1v6h-1zM454 516h2v6h-2zM389 511h1v16h-1zM1246 505h1v11h-1zM772 511h1v11h-1zM1153 522h1v11h-1zM255 516h1v17h-1zM870 516h1v6h-1zM1172 516h2v11h-2zM1650 511h1v5h-1zM284 527h1v6h-1zM1667 522h1v11h-1zM404 522h1v5h-1zM1551 516h1v11h-1zM1446 522h2v11h-2zM877 505h1v17h-1zM1453 516h1v6h-1zM1138 505h1v6h-1zM1110 516h2v17h-2zM1280 527h2v6h-2zM701 511h1v11h-1zM1363 505h1v6h-1zM396 511h2v16h-2zM797 522h1v11h-1zM1583 516h1v11h-1zM1104 527h2v6h-2zM1297 516h2v11h-2zM1379 505h2v11h-2zM1317 516h1v11h-1zM1008 527h1v6h-1zM1207 511h1v5h-1zM797 516h1v17h-1zM1183 522h1v5h-1zM1284 505h1v11h-1zM320 516h2v6h-2zM1397 527h1v6h-1zM453 511h1v5h-1zM330 522h1v5h-1zM1035 522h1v11h-1zM215 522h1v11h-1zM1114 516h1v6h-1zM931 527h1v6h-1zM715 505h1v6h-1zM841 522h1v11h-1zM1580 505h2v11h-2zM1303 505h2v6h-2zM1505 516h2v6h-2zM1653 522h1v11h-1zM333 527h2v6h-2zM839 527h1v6h-1zM676 511h1v11h-1zM361 522h1v5h-1zM794 505h1v6h-1zM1666 527h2v6h-2zM1408 527h2v6h-2zM1080 511h2v5h-2zM726 522h1v5h-1zM261 527h2v6h-2zM856 516h1v6h-1zM1094 527h1v6h-1zM1194 505h1v6h-1zM317 527h1v6h-1zM1156 522h1v5h-1zM1474 511h2v11h-2zM847 527h1v6h-1zM1565 522h1v11h-1zM376 516h2v11h-2zM767 505h1v17h-1zM1033 505h1v6h-1zM819 511h1v5h-1zM360 527h1v6h-1zM1656 511h1v16h-1zM1202 511h1v5h-1zM252 516h2v6h-2zM1157 522h2v5h-2zM851 516h2v6h-2zM446 522h1v11h-1zM319 505h2v11h-2zM1113 527h1v6h-1zM268 511h1v11h-1zM302 527h2v6h-2zM1430 527h1v6h-1zM986 522h1v5h-1zM351 527h2v6h-2zM1184 516h1v11h-1zM1490 505h2v6h-2zM1566 527h1v6h-1zM453 505h2v11h-2zM259 511h1v11h-1zM1428 516h1v11h-1zM1070 527h1v6h-1zM1304 522h1v5h-1zM1002 527h1v6h-1zM1339 505h1v11h-1zM684 522h2v11h-2zM1358 516h1v6h-1zM1255 511h1v5h-1zM992 516h2v17h-2zM1480 516h1v6h-1zM310 505h1v11h-1zM709 522h1v5h-1zM1372 522h2v11h-2zM1257 505h1v6h-1zM531 516h1v11h-1zM529 522h1v11h-1zM571 516h1v11h-1zM895 522h1v11h-1zM315 511h1v5h-1zM612 527h1v6h-1zM1540 516h2v6h-2zM515 511h1v5h-1zM628 522h1v11h-1zM1514 516h1v11h-1zM1360 511h1v5h-1zM879 505h1v11h-1zM799 522h1v11h-1zM1537 511h1v11h-1zM676 511h2v16h-2zM1612 527h2v6h-2zM391 505h1v6h-1zM234 527h1v6h-1zM1514 527h1v6h-1zM1618 505h1v6h-1zM1114 516h1v6h-1zM1011 527h2v6h-2zM581 511h2v16h-2zM1507 522h1v5h-1zM1066 522h2v11h-2zM684 511h1v11h-1zM1527 516h1v6h-1zM249 516h1v6h-1zM1486 522h2v11h-2zM289 511h1v16h-1zM533 522h1v5h-1z" fill="#727274"/>
<path d="M1330 527h1v6h-1zM1412 516h2v11h-2zM1286 516h1v11h-1zM695 511h1v16h-1zM265 505h1v6h-1zM407 522h1v11h-1zM1601 511h2v16h-2zM1345 516h1v6h-1zM1099 527h2v6h-2zM529 522h1v5h-1zM287 511h1v16h-1zM1577 511h1v11h-1zM1123 527h1v6h-1zM247 505h1v17h-1zM1205 527h1v6h-1zM1293 511h2v11h-2zM962 511h1v5h-1zM444 522h2v11h-2zM379 511h1v11h-1zM365 527h1v6h-1zM600 511h1v5h-1zM1631 522h1v11h-1zM974 516h1v17h-1zM893 516h1v6h-1zM355 511h1v5h-1zM1655 522h1v5h-1zM528 522h1v11h-1zM890 522h1v11h-1zM745 505h1v11h-1zM1202 511h2v11h-2zM1207 516h1v17h-1zM1210 511h2v5h-2zM1545 511h1v11h-1zM740 527h1v6h-1zM1536 522h1v5h-1zM499 522h2v11h-2zM321 527h2v6h-2zM600 511h1v5h-1zM496 505h2v17h-2zM1118 505h1v17h-1zM741 522h1v5h-1zM489 522h1v5h-1zM1456 511h1v5h-1zM1309 505h1v6h-1zM1662 511h1v5h-1zM1164 522h2v5h-2zM1553 522h1v11h-1zM968 511h1v11h-1zM1035 516h1v11h-1zM562 522h2v5h-2zM454 505h1v6h-1zM631 511h1v16h-1zM650 527h1v6h-1zM1675 516h1v6h-1zM672 511h1v16h-1zM538 511h1v5h-1zM1116 511h2v11h-2zM1400 527h1v6h-1zM584 505h1v11h-1zM1335 522h1v11h-1zM427 505h1v6h-1zM856 516h1v17h-1zM1632 516h2v6h-2zM868 522h1v11h-1zM255 505h1v11h-1zM1403 505h2v6h-2zM256 527h1v6h-1zM562 505h1v6h-1zM488 516h1v6h-1zM1216 522h1v5h-1zM738 522h1v5h-1zM925 511h2v5h-2zM1187 527h1v6h-1zM603 522h1v11h-1zM974 527h2v6h-2zM321 505h2v6h-2zM562 516h1v17h-1zM875 505h1v17h-1zM1455 511h1v5h-1zM945 516h1v6h-1zM680 511h1v11h-1zM333 516h1v11h-1zM1629 511h1v11h-1zM363 511h1v16h-1zM666 516h1v6h-1zM1493 527h2v6h-2zM578 516h1v6h-1zM1138 527h1v6h-1zM711 505h1v6h-1zM1089 505h2v11h-2zM1418 527h1v6h-1zM968 516h1v17h-1zM1364 505h1v11h-1zM1144 505h2v11h-2zM351 505h1v6h-1zM1306 505h1v11h-1zM1557 516h1v6h-1zM854 505h2v11h-2zM1163 522h2v11h-2zM1543 522h1v5h-1zM451 505h1v11h-1zM923 527h1v6h-1zM1629 511h1v5h-1zM1313 522h1v11h-1zM1004 505h2v6h-2zM1646 505h1v17h-1zM1255 522h1v5h-1zM1505 505h1v11h-1zM1263 516h1v6h-1zM1374 505h1v17h-1zM1351 516h1v6h-1zM1170 527h2v6h-2zM973 505h1v17h-1zM924 522h1v5h-1zM775 527h1v6h-1zM923 522h1v5h-1zM727 516h1v17h-1zM1242 522h1v5h-1zM1249 522h2v11h-2zM1157 505h1v6h-1zM1086 511h1v5h-1zM1229 522h1v11h-1zM377 527h2v6h-2zM556 505h2v11h-2zM596 516h2v11h-2zM838 527h1v6h-1zM808 522h2v11h-2zM1278 522h1v11h-1zM1480 505h1v11h-1zM766 522h1v5h-1zM1142 527h1v6h-1zM727 516h1v6h-1zM1004 527h2v6h-2zM441 511h1v5h-1zM939 522h1v11h-1zM957 516h1v17h-1zM1552 511h2v16h-2zM1378 505h2v6h-2zM705 505h1v17h-1zM800 511h1v11h-1zM890 511h1v5h-1zM1426 527h1v6h-1zM1048 527h1v6h-1zM1191 516h2v11h-2zM1413 505h2v6h-2zM1317 527h1v6h-1zM1462 527h1v6h-1zM760 516h1v17h-1zM232 505h1v17h-1zM1526 511h1v16h-1zM1341 516h1v6h-1zM351 511h1v16h-1zM1567 527h2v6h-2zM896 522h1v11h-1zM343 527h1v6h-1zM1357 505h1v6h-1zM721 527h1v6h-1zM354 511h1v16h-1zM834 516h1v6h-1zM377 511h1v11h-1zM1256 516h1v6h-1zM492 511h1v5h-1zM1520 516h1v6h-1zM1235 527h1v6h-1zM715 527h1v6h-1zM649 505h1v17h-1zM438 505h1v6h-1zM731 505h1v6h-1zM305 522h1v5h-1zM1071 516h1v11h-1z" fill="#948e77"/>
</g>
<g opacity="0.7">
<path d="M1623 616h1v6h-1zM480 593h1v6h-1zM400 599h1v6h-1zM1221 593h2v17h-2zM429 599h2v6h-2zM713 616h1v6h-1zM266 616h1v6h-1zM241 605h1v17h-1zM635 593h1v6h-1zM595 616h1v6h-1zM1276 599h1v17h-1zM1393 605h1v17h-1zM667 593h2v12h-2zM259 616h1v6h-1zM388 610h1v6h-1zM735 616h2v6h-2zM928 599h1v6h-1zM1214 616h1v6h-1zM1471 593h1v12h-1zM466 610h1v6h-1zM1661 599h1v11h-1zM1596 610h1v6h-1zM794 599h2v11h-2zM231 593h1v6h-1zM809 599h1v11h-1zM1567 610h1v6h-1zM1463 599h1v11h-1zM949 593h1v6h-1zM1088 605h1v5h-1zM868 599h1v11h-1zM1541 599h1v6h-1zM1471 593h1v6h-1zM624 616h1v6h-1zM1606 610h1v12h-1zM1401 610h1v6h-1zM1075 610h1v6h-1zM1672 610h2v6h-2zM292 616h2v6h-2zM967 605h1v11h-1zM941 605h1v5h-1zM338 593h2v17h-2zM1348 599h1v6h-1zM1177 610h2v12h-2zM861 616h1v6h-1zM1349 610h2v6h-2zM1189 599h2v11h-2zM708 593h1v6h-1zM287 605h1v5h-1zM222 605h1v5h-1zM358 599h1v11h-1zM1540 616h1v6h-1zM316 593h2v6h-2zM792 593h1v12h-1zM1230 605h1v11h-1zM838 599h1v11h-1zM1014 605h1v11h-1zM856 599h1v11h-1zM565 593h1v12h-1zM1485 599h2v11h-2zM1165 599h1v17h-1zM331 599h1v6h-1zM1554 599h1v6h-1zM662 599h1v6h-1zM362 616h1v6h-1zM1658 610h1v6h-1zM544 605h2v11h-2zM946 599h1v11h-1zM1434 616h1v6h-1zM680 616h2v6h-2zM1369 593h1v12h-1zM608 599h1v17h-1zM1072 610h1v6h-1zM1214 605h1v11h-1zM1233 605h1v5h-1zM321 599h1v17h-1zM1137 593h1v6h-1zM471 593h1v17h-1zM863 610h2v6h-2zM278 605h1v5h-1zM571 616h2v6h-2zM1532 599h1v11h-1zM1336 605h1v17h-1zM443 616h1v6h-1zM210 593h1v12h-1zM1442 593h2v6h-2zM1485 610h2v12h-2zM1667 610h2v12h-2zM692 593h2v6h-2zM550 605h1v11h-1zM1057 616h1v6h-1zM792 610h2v12h-2zM1220 610h1v12h-1zM869 605h1v11h-1zM1120 610h2v12h-2zM922 605h1v11h-1zM507 599h1v11h-1zM1383 610h1v6h-1zM272 605h1v11h-1zM731 605h1v5h-1zM1173 616h1v6h-1zM1409 593h1v6h-1zM308 599h1v6h-1zM1512 610h2v6h-2zM537 599h1v6h-1zM1127 593h1v6h-1zM1518 610h2v12h-2zM1137 616h1v6h-1zM730 599h1v17h-1zM1019 599h1v6h-1zM1059 605h1v17h-1zM1460 610h1v6h-1zM1263 616h1v6h-1zM569 610h2v12h-2zM651 605h2v5h-2zM983 616h2v6h-2zM1221 605h2v5h-2zM1450 616h1v6h-1zM1043 605h1v5h-1zM388 605h1v5h-1zM1086 593h2v6h-2zM1585 616h1v6h-1zM889 593h1v6h-1zM698 616h2v6h-2zM1566 605h2v11h-2zM1179 605h2v11h-2zM693 616h2v6h-2zM917 599h2v17h-2zM1493 599h1v6h-1zM546 599h1v11h-1zM1136 610h2v12h-2zM749 610h1v6h-1zM1636 616h1v6h-1zM1017 610h1v6h-1zM1428 599h1v11h-1zM1424 616h1v6h-1zM1332 610h1v12h-1zM341 616h1v6h-1zM769 610h2v12h-2zM735 616h1v6h-1zM805 610h1v12h-1zM402 599h2v6h-2zM813 605h2v5h-2zM1661 599h1v17h-1zM489 616h1v6h-1zM1083 605h1v11h-1zM532 593h1v6h-1zM597 605h2v5h-2zM697 593h1v12h-1zM257 610h2v6h-2zM767 593h1v6h-1zM847 610h1v6h-1zM1098 599h1v17h-1zM874 616h2v6h-2zM262 599h1v6h-1zM533 593h1v12h-1zM405 593h1v6h-1zM573 616h1v6h-1zM1513 616h2v6h-2zM825 593h1v17h-1zM766 593h1v17h-1zM1378 593h1v6h-1zM852 599h1v11h-1zM218 599h2v17h-2zM1324 610h2v6h-2zM767 605h1v17h-1zM1378 605h1v5h-1zM1251 599h1v11h-1zM1001 599h2v6h-2zM1464 593h2v12h-2zM1616 610h1v12h-1zM1639 599h1v6h-1zM509 599h1v6h-1zM571 599h1v6h-1zM323 616h1v6h-1zM804 610h1v6h-1zM1170 599h1v17h-1zM1570 616h1v6h-1zM1343 616h1v6h-1zM1497 605h1v5h-1zM211 593h1v12h-1zM1293 599h1v6h-1zM1388 593h2v12h-2zM1335 616h2v6h-2zM1074 593h1v12h-1zM1673 605h1v11h-1zM1398 599h1v6h-1z" fill="#4f576c"/>
<path d="M1145 605h1v17h-1zM975 610h1v6h-1zM1354 610h2v6h-2zM445 599h2v6h-2zM671 593h1v6h-1zM1454 599h1v6h-1zM558 593h1v12h-1zM916 599h1v11h-1zM356 605h1v11h-1zM323 593h2v17h-2zM1528 593h1v6h-1zM1499 610h1v12h-1zM841 605h2v17h-2zM598 616h2v6h-2zM780 616h1v6h-1zM1053 599h1v17h-1zM1264 593h1v12h-1zM355 593h2v6h-2zM559 605h2v5h-2zM1614 610h1v6h-1zM1562 593h2v6h-2zM857 616h2v6h-2zM906 610h1v12h-1zM1645 610h1v12h-1zM492 610h2v12h-2zM521 593h1v6h-1zM913 605h1v11h-1zM791 593h2v12h-2zM780 599h1v6h-1zM276 610h1v6h-1zM456 599h1v6h-1zM1154 610h1v6h-1zM1001 599h1v6h-1zM1455 599h1v11h-1zM1128 599h1v6h-1zM1075 593h1v6h-1zM1586 610h2v12h-2zM1300 593h2v12h-2zM1157 599h1v17h-1zM750 605h1v11h-1zM212 605h1v5h-1zM855 610h1v12h-1zM1509 616h2v6h-2zM967 605h1v11h-1zM1504 593h1v17h-1zM583 605h2v5h-2zM258 610h1v6h-1zM1020 605h2v5h-2zM811 605h1v11h-1zM1025 593h1v17h-1zM1013 605h1v5h-1zM239 599h1v11h-1zM418 605h1v5h-1zM411 605h1v5h-1zM1447 599h1v11h-1zM636 610h2v6h-2zM792 599h2v17h-2zM1078 593h1v17h-1zM275 616h2v6h-2zM1282 610h1v6h-1zM473 593h2v6h-2zM988 616h1v6h-1zM455 605h2v5h-2zM414 593h2v6h-2zM918 616h1v6h-1zM1231 599h1v6h-1zM659 616h2v6h-2zM331 616h1v6h-1zM258 593h1v6h-1zM411 599h1v11h-1zM1606 616h2v6h-2zM666 616h1v6h-1zM1129 599h1v6h-1zM886 616h1v6h-1zM943 593h2v12h-2zM931 593h1v12h-1zM910 610h1v6h-1zM1436 616h1v6h-1zM1205 605h1v5h-1zM345 610h1v6h-1zM1488 599h1v17h-1zM274 593h1v12h-1zM1467 605h1v11h-1zM1153 593h1v17h-1zM1688 593h1v6h-1zM770 610h2v12h-2zM1387 616h2v6h-2zM1511 616h1v6h-1zM320 593h1v17h-1zM679 616h1v6h-1zM1634 599h1v6h-1zM344 610h1v6h-1zM1625 593h1v6h-1zM1456 593h2v6h-2zM1579 610h1v6h-1zM884 599h1v17h-1zM774 599h1v17h-1zM1112 610h2v12h-2zM531 610h1v12h-1zM618 610h2v6h-2zM586 605h2v5h-2zM552 599h2v6h-2zM748 593h1v17h-1zM1238 599h1v17h-1zM1042 616h1v6h-1zM1179 605h1v11h-1zM296 610h1v6h-1zM1057 599h1v6h-1zM861 599h2v11h-2zM254 599h1v6h-1zM626 610h1v6h-1zM760 610h1v6h-1zM1244 593h1v17h-1zM779 599h1v11h-1zM349 610h1v6h-1zM1068 605h1v5h-1zM468 599h1v6h-1zM688 599h1v6h-1zM1342 593h1v6h-1zM1587 599h1v6h-1zM1268 593h1v12h-1zM727 593h1v6h-1zM297 610h1v6h-1zM1612 610h1v6h-1zM1512 605h1v5h-1zM880 605h1v5h-1zM1265 616h1v6h-1zM779 599h1v11h-1zM1189 593h1v6h-1zM1398 599h2v11h-2zM549 616h1v6h-1zM355 616h1v6h-1zM758 616h2v6h-2zM399 616h1v6h-1zM231 593h2v6h-2zM1623 593h2v17h-2zM560 599h1v11h-1zM711 616h1v6h-1zM1221 605h1v5h-1zM255 616h1v6h-1zM683 593h1v17h-1zM1344 593h1v6h-1zM581 610h2v12h-2zM1315 605h2v5h-2zM388 616h1v6h-1zM1477 599h1v6h-1zM1116 599h2v6h-2zM241 610h1v12h-1zM380 610h2v12h-2zM300 605h1v5h-1zM717 605h1v5h-1zM785 610h1v6h-1zM923 599h2v11h-2zM527 593h2v6h-2zM779 616h2v6h-2zM989 610h1v6h-1zM568 610h1v12h-1zM1387 616h2v6h-2zM1522 610h1v6h-1zM741 593h1v6h-1zM1671 599h1v6h-1zM805 610h1v6h-1zM1507 599h1v6h-1zM1660 593h1v17h-1zM1359 605h1v17h-1zM927 616h1v6h-1zM740 616h1v6h-1zM499 599h1v11h-1zM251 605h1v5h-1zM1344 605h1v5h-1zM817 593h1v12h-1zM699 605h1v5h-1zM1003 610h1v12h-1z" fill="#727274"/>
<path d="M919 616h1v6h-1zM1643 616h1v6h-1zM261 593h1v6h-1zM975 610h1v12h-1zM1641 616h1v6h-1zM1148 599h1v6h-1zM1591 599h1v6h-1zM1408 599h1v11h-1zM759 616h1v6h-1zM819 593h1v17h-1zM1242 593h1v17h-1zM764 605h1v5h-1zM425 610h2v12h-2zM436 599h1v11h-1zM1159 605h1v17h-1zM1229 593h1v17h-1zM1288 599h1v6h-1zM251 616h1v6h-1zM952 610h1v6h-1zM371 616h2v6h-2zM676 593h2v6h-2zM1683 593h1v12h-1zM876 605h1v5h-1zM487 599h1v17h-1zM931 605h1v5h-1zM564 593h2v6h-2zM755 605h1v11h-1zM466 610h2v6h-2zM1167 599h1v11h-1zM1546 599h1v11h-1zM241 605h2v5h-2zM1243 605h1v11h-1zM265 605h1v5h-1zM1363 616h1v6h-1zM1124 599h2v6h-2zM445 610h1v12h-1zM1235 610h1v12h-1zM557 610h1v6h-1zM1319 593h1v17h-1zM783 605h1v17h-1zM794 616h1v6h-1zM1143 599h1v11h-1zM296 593h1v12h-1zM959 599h1v17h-1zM828 599h2v6h-2zM790 605h2v5h-2zM1485 616h1v6h-1zM594 593h1v6h-1zM360 599h1v11h-1zM525 610h1v12h-1zM882 599h1v17h-1zM347 599h1v11h-1zM766 593h1v12h-1zM1676 610h1v12h-1zM1219 599h1v17h-1zM1317 593h2v17h-2zM1255 593h1v6h-1zM1072 593h1v6h-1zM377 599h1v11h-1zM1338 616h2v6h-2zM1366 593h2v6h-2zM1581 610h2v6h-2zM552 610h1v6h-1zM510 605h2v11h-2zM849 599h2v11h-2zM802 599h1v6h-1zM791 610h1v6h-1zM535 599h1v6h-1zM1366 605h1v5h-1zM253 610h1v6h-1zM930 593h1v17h-1zM427 593h2v12h-2zM1377 593h1v12h-1zM463 610h1v12h-1zM938 593h2v12h-2zM1077 599h1v6h-1zM619 599h2v17h-2zM207 599h1v6h-1zM478 610h1v6h-1zM1252 605h2v17h-2zM1580 610h1v6h-1zM487 599h1v11h-1zM1238 599h1v6h-1zM1583 616h1v6h-1zM1387 599h2v11h-2zM305 599h1v11h-1zM917 599h1v11h-1zM1637 599h1v6h-1zM1368 616h1v6h-1zM1349 593h2v17h-2zM945 616h1v6h-1zM1084 599h1v11h-1zM895 599h1v17h-1zM633 605h2v5h-2zM1144 605h1v11h-1zM896 599h1v17h-1zM722 593h1v6h-1zM1377 610h1v12h-1zM1273 605h1v11h-1zM1666 599h2v6h-2zM819 605h1v5h-1zM1540 616h1v6h-1zM1494 599h1v11h-1zM527 593h1v12h-1zM218 605h1v5h-1zM1473 605h1v5h-1zM1037 605h1v11h-1zM775 610h1v6h-1zM208 599h1v17h-1zM1158 616h1v6h-1zM841 605h1v5h-1zM506 616h2v6h-2zM529 605h2v11h-2zM1567 593h1v6h-1zM484 610h2v6h-2zM670 616h2v6h-2zM781 610h1v6h-1zM977 605h1v17h-1zM710 605h2v5h-2zM1462 599h2v6h-2zM371 610h1v12h-1zM711 593h1v12h-1zM755 610h1v6h-1zM1470 599h1v11h-1zM823 599h1v6h-1zM234 610h1v6h-1zM1351 593h1v17h-1zM620 610h1v12h-1zM1388 610h1v12h-1zM1175 616h1v6h-1zM800 599h1v11h-1zM897 599h1v6h-1zM1262 599h1v6h-1zM945 610h1v6h-1zM1493 616h1v6h-1zM433 616h1v6h-1zM1035 593h1v12h-1zM398 616h1v6h-1zM1541 599h1v11h-1zM604 610h2v12h-2zM877 593h1v17h-1zM1318 616h1v6h-1zM578 616h1v6h-1zM801 605h1v5h-1zM1073 605h1v5h-1zM694 599h1v6h-1zM1103 593h1v12h-1zM1145 599h1v11h-1zM1116 616h1v6h-1zM1455 605h1v11h-1zM431 593h2v12h-2zM1509 605h2v11h-2zM1208 616h1v6h-1zM248 610h1v12h-1zM496 616h1v6h-1zM478 616h2v6h-2zM312 605h1v5h-1zM1554 616h1v6h-1zM1093 593h1v6h-1zM1553 610h1v6h-1zM1372 616h2v6h-2zM1075 593h1v6h-1zM735 605h1v5h-1zM1016 599h1v11h-1zM1446 593h1v12h-1zM708 599h1v6h-1zM933 593h1v6h-1zM1184 610h2v6h-2zM1051 616h1v6h-1zM370 605h1v5h-1zM1520 593h1v12h-1zM1453 605h1v11h-1zM474 593h2v6h-2zM1186 593h1v12h-1zM776 605h1v5h-1zM230 605h1v5h-1zM1632 605h2v5h-2zM1099 605h2v5h-2zM305 593h1v12h-1zM918 605h1v5h-1zM1477 593h1v6h-1zM802 616h1v6h-1zM308 605h1v11h-1zM486 593h1v12h-1zM380 610h1v6h-1zM1247 610h2v6h-2zM1024 605h1v5h-1zM1292 599h1v6h-1zM1122 593h2v12h-2zM965 593h1v12h-1zM1137 593h2v6h-2z" fill="#948e77"/>
</g>
<g opacity="0.5">
<path d="M1068 273h1v10h-1zM936 175h2v5h-2zM677 201h2v5h-2zM853 186h2v15h-2zM791 257h1v5h-1zM408 216h1v5h-1zM852 134h1v5h-1zM1487 139h1v6h-1zM1094 257h1v16h-1zM568 216h1v5h-1zM1580 288h1v5h-1zM1506 283h1v10h-1zM787 211h2v5h-2zM493 232h1v10h-1zM296 273h1v15h-1zM688 180h1v6h-1zM849 211h1v5h-1zM856 124h1v15h-1zM767 226h1v6h-1zM984 262h2v5h-2zM797 155h1v10h-1zM1674 278h1v10h-1zM1507 216h1v5h-1zM357 191h1v5h-1zM906 273h1v10h-1zM560 170h1v5h-1zM922 252h2v5h-2zM1346 211h1v5h-1zM585 201h1v5h-1zM1210 180h1v11h-1zM1389 170h2v5h-2zM764 237h1v5h-1zM910 211h2v5h-2zM1370 211h1v5h-1zM1284 186h1v10h-1zM1182 119h1v5h-1zM1468 150h1v5h-1zM827 155h1v5h-1zM961 196h1v10h-1zM631 119h1v10h-1zM824 201h2v15h-2zM1365 139h2v11h-2zM909 247h2v10h-2zM994 288h1v5h-1zM794 186h1v10h-1zM359 150h2v5h-2zM479 278h1v10h-1zM1293 134h1v5h-1zM973 216h1v5h-1zM648 160h1v15h-1zM1324 252h1v10h-1zM867 283h1v10h-1zM1369 242h1v10h-1zM628 186h2v10h-2zM836 288h1v5h-1zM1017 252h2v5h-2zM961 196h1v10h-1zM1150 196h2v10h-2zM1321 196h1v5h-1zM1472 257h1v10h-1zM434 206h1v10h-1zM1396 237h1v10h-1zM1381 278h1v5h-1zM253 155h1v5h-1zM1583 267h2v11h-2zM1483 191h1v5h-1zM763 252h2v10h-2zM1389 247h2v5h-2zM388 134h2v11h-2zM1575 165h1v15h-1zM1141 119h1v10h-1zM1465 119h2v15h-2zM1199 242h1v10h-1zM220 145h1v10h-1zM714 119h1v10h-1zM729 129h1v10h-1zM1492 262h1v11h-1zM294 221h1v5h-1zM737 237h1v5h-1zM860 262h2v5h-2zM1327 175h1v11h-1zM1559 262h1v5h-1zM887 170h2v16h-2zM1011 252h2v10h-2zM1392 211h2v10h-2zM675 216h2v16h-2zM1592 129h1v5h-1zM1386 237h1v5h-1zM1214 191h1v5h-1zM1126 247h2v5h-2zM648 242h2v15h-2zM342 160h2v5h-2zM509 242h1v5h-1zM1631 226h1v11h-1zM964 221h1v5h-1zM858 273h1v15h-1zM925 196h1v5h-1zM967 226h1v6h-1zM1288 175h1v5h-1zM1501 201h1v15h-1zM1365 191h1v15h-1zM806 139h2v11h-2zM1348 278h1v15h-1zM862 211h2v5h-2zM944 145h1v10h-1zM305 134h1v5h-1zM303 124h1v10h-1zM1460 129h1v10h-1zM826 196h2v10h-2zM1113 165h1v5h-1zM1052 170h1v16h-1zM992 160h1v5h-1zM1671 206h2v10h-2zM296 139h1v11h-1zM586 288h1v5h-1zM840 129h1v10h-1zM636 155h1v10h-1zM710 257h2v5h-2zM386 175h1v5h-1zM507 180h1v6h-1zM1666 134h1v5h-1zM1663 170h2v5h-2zM1171 232h1v15h-1zM536 267h2v11h-2zM746 226h1v6h-1zM1172 273h1v5h-1zM1526 283h2v5h-2zM1343 124h1v15h-1zM837 226h1v6h-1zM717 283h1v5h-1zM410 206h2v10h-2zM548 216h1v5h-1zM696 226h1v6h-1zM1489 139h1v16h-1zM1497 273h1v5h-1zM1049 180h1v11h-1zM242 186h2v5h-2zM1425 226h1v11h-1zM245 139h1v16h-1zM1320 262h1v16h-1zM955 262h2v5h-2zM1162 160h1v10h-1zM326 165h1v15h-1zM653 257h1v16h-1zM336 216h1v16h-1zM631 267h1v6h-1zM1332 283h2v5h-2zM1322 247h1v10h-1zM904 134h2v5h-2zM1571 119h1v5h-1zM277 134h2v5h-2zM484 119h1v15h-1zM1417 155h1v10h-1zM1453 186h2v15h-2zM1324 170h2v16h-2zM810 237h1v10h-1zM1325 237h2v5h-2zM1571 242h1v5h-1zM717 273h1v5h-1zM1638 150h2v5h-2zM1094 283h1v10h-1zM1400 119h2v10h-2zM405 278h2v5h-2zM1498 191h2v10h-2zM1446 278h2v10h-2zM1202 216h1v10h-1zM548 242h1v5h-1zM1567 124h2v15h-2zM1153 257h1v16h-1zM778 288h1v5h-1zM1009 150h1v10h-1zM690 134h1v11h-1zM811 160h1v5h-1zM873 267h1v6h-1zM826 150h1v15h-1zM1368 226h1v11h-1zM1307 262h2v11h-2zM435 201h1v10h-1zM1039 237h2v10h-2zM1145 191h1v15h-1zM1277 247h1v10h-1zM978 160h1v10h-1zM1169 160h1v5h-1zM669 247h1v5h-1zM387 216h1v5h-1zM789 201h1v5h-1zM574 242h1v5h-1zM897 201h1v10h-1zM1045 216h1v10h-1zM523 252h1v15h-1zM948 257h1v10h-1zM1591 191h1v5h-1zM1273 145h1v15h-1zM1342 145h1v5h-1zM1455 283h1v10h-1zM373 155h2v15h-2zM1180 221h1v11h-1zM978 139h2v6h-2zM912 180h1v6h-1zM598 119h1v10h-1zM1333 247h1v10h-1zM802 206h2v5h-2zM902 196h1v15h-1zM999 134h1v16h-1zM838 278h1v5h-1zM767 206h1v5h-1zM425 201h1v5h-1zM1042 150h1v5h-1zM949 139h1v6h-1zM1105 232h1v5h-1zM745 196h1v15h-1zM421 186h1v10h-1zM553 211h2v10h-2zM446 242h1v10h-1zM1182 155h1v10h-1zM1639 196h2v5h-2zM1336 216h1v10h-1zM1019 160h1v5h-1zM1301 175h1v11h-1zM1407 221h1v5h-1zM730 165h1v5h-1zM1123 155h2v15h-2zM433 242h1v5h-1zM1202 242h2v5h-2zM670 155h1v15h-1zM1361 129h1v5h-1zM673 242h1v5h-1zM381 191h2v5h-2zM632 201h1v15h-1zM1240 155h2v5h-2zM315 283h1v10h-1zM831 226h1v11h-1zM1122 273h1v5h-1zM1416 186h1v5h-1zM442 180h1v6h-1zM1379 145h2v15h-2zM1643 170h1v10h-1zM1551 191h1v5h-1zM1472 124h1v5h-1zM421 134h2v5h-2zM528 267h2v11h-2zM1554 247h1v5h-1zM1689 180h1v11h-1zM1661 257h1v10h-1z" fill="#434e6c"/>
<path d="M836 191h1v15h-1zM261 160h1v15h-1zM907 160h1v10h-1zM847 119h1v10h-1zM543 278h1v15h-1zM1061 155h2v5h-2zM709 257h1v16h-1zM1006 201h1v5h-1zM554 175h1v5h-1zM544 211h1v5h-1zM1597 273h1v15h-1zM1605 211h1v5h-1zM780 155h1v5h-1zM1064 170h2v5h-2zM301 145h2v15h-2zM557 160h2v5h-2zM502 119h1v5h-1zM1032 257h1v16h-1zM629 242h2v5h-2zM414 226h1v6h-1zM1583 160h1v5h-1zM1611 155h1v15h-1zM1663 170h1v16h-1zM1665 129h2v5h-2zM544 170h1v5h-1zM209 139h2v16h-2zM795 160h1v5h-1zM816 237h1v5h-1zM501 170h1v5h-1zM948 196h2v5h-2zM567 252h1v15h-1zM217 242h1v10h-1zM1086 262h2v11h-2zM1673 119h1v10h-1zM595 201h1v15h-1zM668 262h1v5h-1zM487 196h2v5h-2zM1108 165h1v10h-1zM642 186h1v5h-1zM1562 175h2v5h-2zM407 232h1v5h-1zM1655 262h1v11h-1zM525 170h1v5h-1zM1558 201h1v5h-1zM1416 180h1v6h-1zM737 257h1v10h-1zM468 206h1v5h-1zM1209 267h1v11h-1zM1353 278h1v10h-1zM1310 232h2v10h-2zM1253 252h1v5h-1zM1219 129h2v5h-2zM273 242h2v5h-2zM311 170h1v5h-1zM1491 211h2v5h-2zM1200 170h1v5h-1zM1395 232h1v10h-1zM1481 262h1v11h-1zM225 237h1v10h-1zM665 191h1v10h-1zM837 196h2v5h-2zM377 201h1v15h-1zM466 201h1v5h-1zM1309 283h1v5h-1zM344 283h1v10h-1zM861 221h1v11h-1zM625 247h2v10h-2zM403 226h1v6h-1zM1087 175h1v5h-1zM1486 221h1v5h-1zM1612 124h1v5h-1zM513 247h1v10h-1zM367 206h1v5h-1zM473 262h1v11h-1zM1571 201h1v15h-1zM1172 134h1v5h-1zM273 145h1v5h-1zM722 206h1v10h-1zM912 216h1v10h-1zM1201 237h1v5h-1zM1552 196h1v10h-1zM1448 211h1v15h-1zM1056 283h1v5h-1zM983 206h1v15h-1zM778 119h1v15h-1zM310 257h2v5h-2zM985 206h2v15h-2zM356 232h1v15h-1zM1435 252h2v5h-2zM811 129h1v16h-1zM1557 257h1v10h-1zM537 267h2v11h-2zM1051 129h1v10h-1zM262 278h1v5h-1zM1666 267h1v6h-1zM320 160h1v5h-1zM536 273h2v10h-2zM540 252h1v5h-1zM1048 175h1v5h-1zM1412 175h1v16h-1zM1103 273h1v5h-1zM1666 196h2v15h-2zM1656 129h2v10h-2zM225 278h1v10h-1zM1288 196h1v5h-1zM1378 150h1v10h-1zM762 160h1v5h-1zM503 288h2v5h-2zM1200 201h1v5h-1zM394 221h2v11h-2zM568 257h1v16h-1zM1291 119h1v5h-1zM1587 150h1v5h-1zM1023 134h2v16h-2zM794 262h1v11h-1zM229 206h1v10h-1zM588 129h2v10h-2zM553 232h1v5h-1zM604 175h1v11h-1zM1652 216h2v16h-2zM1029 237h2v10h-2zM1178 278h1v5h-1zM605 145h1v5h-1zM383 211h1v10h-1zM914 242h1v5h-1zM1617 226h1v16h-1zM1355 232h1v15h-1zM1136 191h1v5h-1zM231 232h1v10h-1zM276 124h2v5h-2zM1609 216h1v5h-1zM1012 257h1v5h-1zM371 160h1v15h-1zM1579 160h1v5h-1zM1227 273h2v10h-2zM813 257h1v5h-1zM1658 201h1v5h-1zM870 170h2v5h-2zM1484 129h1v10h-1zM492 201h1v15h-1zM390 206h1v5h-1zM1492 288h1v5h-1zM335 160h2v10h-2zM909 226h1v6h-1zM612 242h1v5h-1zM1181 283h1v10h-1zM599 201h2v10h-2zM915 232h1v5h-1zM1235 186h1v5h-1zM1622 206h1v5h-1zM343 288h1v5h-1zM1414 180h1v11h-1zM1331 170h1v10h-1zM953 129h1v5h-1zM457 191h1v5h-1zM1157 283h1v10h-1zM1145 191h2v5h-2zM349 278h2v10h-2zM720 278h1v5h-1zM503 119h1v15h-1zM1165 155h1v5h-1zM1668 180h1v6h-1zM670 175h1v5h-1zM792 206h1v5h-1zM1592 160h1v5h-1zM979 150h1v10h-1zM1028 150h2v10h-2zM872 150h2v5h-2zM1372 119h1v15h-1zM920 262h1v5h-1zM943 196h1v15h-1zM1147 155h1v5h-1zM1353 206h2v10h-2zM1610 283h1v10h-1zM333 145h1v5h-1zM1478 211h1v5h-1zM1192 237h1v5h-1zM1582 186h2v5h-2zM1112 150h1v5h-1zM1301 201h1v10h-1zM1381 155h1v10h-1zM813 273h2v10h-2zM1506 288h1v5h-1zM324 165h1v15h-1zM581 124h1v5h-1zM739 273h2v15h-2zM1137 242h1v15h-1zM653 186h2v10h-2zM615 165h1v5h-1zM1250 216h1v5h-1zM334 134h1v5h-1zM630 170h1v5h-1zM1415 160h1v10h-1zM1631 180h1v6h-1zM1194 262h1v5h-1zM1646 186h2v5h-2zM1038 206h1v10h-1zM966 242h1v15h-1zM840 278h1v5h-1zM878 267h1v6h-1zM1170 226h1v11h-1zM1409 170h1v5h-1zM1604 278h1v10h-1zM1609 124h1v10h-1zM773 216h1v5h-1zM1592 145h1v10h-1zM703 262h1v16h-1zM1451 150h1v10h-1zM317 267h1v6h-1zM849 186h2v5h-2zM1381 134h2v11h-2zM261 262h1v5h-1zM333 160h2v5h-2zM443 237h1v5h-1zM263 175h2v16h-2zM1381 242h1v5h-1zM1387 119h1v10h-1zM866 175h1v11h-1zM1083 170h1v5h-1zM1488 252h1v15h-1zM1597 160h1v5h-1zM1422 288h2v5h-2zM947 191h1v5h-1zM820 278h1v10h-1zM1335 283h1v5h-1zM386 119h2v5h-2zM806 170h1v5h-1zM392 247h1v5h-1zM850 201h1v10h-1zM720 221h1v11h-1zM963 145h1v15h-1zM1370 170h1v16h-1zM1284 196h2v5h-2zM669 257h2v10h-2zM1077 150h1v10h-1zM1666 216h1v10h-1zM1585 186h1v5h-1zM1122 180h2v11h-2zM514 216h2v5h-2zM842 191h1v5h-1zM1354 267h1v6h-1zM1190 124h1v15h-1zM1028 247h1v10h-1zM542 242h1v5h-1zM305 216h1v10h-1zM1223 221h1v11h-1zM902 232h2v5h-2zM435 247h1v10h-1zM767 237h1v10h-1zM486 119h1v15h-1zM635 232h1v10h-1zM327 247h1v5h-1zM927 191h1v10h-1zM966 119h1v10h-1zM1558 257h1v5h-1zM817 206h1v5h-1z" fill="#5b606e"/>
</g>
<g opacity="0.5">
<path d="M749 336h2v15h-2zM1444 371h1v5h-1zM231 316h2v15h-2zM1382 336h1v10h-1zM226 336h1v5h-1zM447 366h1v5h-1zM1185 336h1v10h-1zM867 316h1v15h-1zM1087 336h1v5h-1zM563 336h2v10h-2zM1190 371h2v5h-2zM1093 331h1v10h-1zM477 346h1v5h-1zM343 316h1v15h-1zM453 341h1v5h-1zM981 326h2v10h-2zM1164 326h1v5h-1zM332 331h2v5h-2zM702 361h2v10h-2zM1522 346h1v5h-1zM751 356h1v5h-1zM1605 366h2v5h-2zM1162 366h1v5h-1zM227 346h2v15h-2zM562 356h1v5h-1zM1374 336h1v5h-1zM1597 356h1v10h-1zM300 366h1v5h-1zM868 331h1v10h-1zM212 331h2v5h-2zM445 346h1v5h-1zM1267 316h1v5h-1zM992 316h2v5h-2zM974 351h1v10h-1zM1671 341h1v10h-1zM262 316h1v15h-1zM918 321h2v10h-2zM1377 331h1v5h-1zM552 336h1v15h-1zM1256 316h1v5h-1zM1665 356h2v5h-2zM1145 321h1v5h-1zM1650 321h2v5h-2zM878 336h1v5h-1zM1169 341h1v5h-1zM1530 321h1v10h-1zM523 361h1v10h-1zM1168 316h2v5h-2zM365 341h1v10h-1zM761 331h1v10h-1zM211 326h1v10h-1zM414 336h1v10h-1zM854 346h1v10h-1zM483 311h2v15h-2zM699 351h2v15h-2zM863 331h1v10h-1zM1526 351h2v10h-2zM1516 331h1v5h-1zM1500 321h1v15h-1zM492 336h1v5h-1zM1305 346h1v15h-1zM1202 341h1v15h-1zM902 371h2v5h-2zM1463 371h2v5h-2zM1352 326h1v5h-1zM754 346h1v5h-1zM1347 356h1v5h-1zM1588 356h1v15h-1zM702 341h1v5h-1zM675 311h2v15h-2zM1196 351h2v5h-2zM733 371h1v5h-1zM837 321h1v10h-1zM1525 336h1v5h-1zM748 346h1v10h-1zM324 336h2v5h-2zM1561 366h1v5h-1zM1357 366h1v10h-1zM788 351h1v5h-1zM237 356h2v15h-2zM234 331h1v15h-1zM1459 346h1v5h-1zM851 316h1v10h-1zM296 356h1v15h-1zM544 351h2v15h-2zM1043 341h1v15h-1zM367 321h1v5h-1zM938 356h1v15h-1zM275 331h1v10h-1zM277 371h2v5h-2zM1474 341h2v10h-2zM378 371h1v5h-1zM468 311h1v15h-1zM1209 336h1v5h-1zM1419 351h2v5h-2zM803 316h2v10h-2zM1622 361h1v5h-1z" fill="#434e6c"/>
<path d="M551 311h2v5h-2zM913 351h1v5h-1zM1560 331h1v10h-1zM330 326h1v10h-1zM1553 371h1v5h-1zM641 366h2v10h-2zM500 361h2v10h-2zM935 311h2v5h-2zM1345 356h1v15h-1zM1481 366h1v5h-1zM326 371h1v5h-1zM490 336h1v10h-1zM626 316h1v5h-1zM1341 351h2v5h-2zM648 336h2v5h-2zM1242 361h1v5h-1zM1530 331h1v5h-1zM530 331h2v5h-2zM1013 331h1v10h-1zM260 351h1v10h-1zM1606 351h1v10h-1zM974 351h1v5h-1zM1495 361h1v10h-1zM1327 336h1v10h-1zM894 346h1v15h-1zM439 356h1v5h-1zM228 321h1v10h-1zM648 336h1v5h-1zM205 326h1v10h-1zM1398 351h1v10h-1zM1222 336h1v10h-1zM1147 331h1v15h-1zM910 346h1v15h-1zM620 326h1v5h-1zM792 356h1v5h-1zM348 311h2v15h-2zM517 366h2v5h-2zM723 346h1v5h-1zM869 326h1v5h-1zM1323 351h1v10h-1zM1422 356h1v5h-1zM460 326h1v10h-1zM1151 331h1v15h-1zM983 331h1v10h-1zM1429 331h1v5h-1zM811 361h1v5h-1zM1243 316h1v5h-1zM1022 331h1v10h-1zM795 336h1v5h-1zM220 356h1v15h-1zM1653 356h1v5h-1zM1311 316h1v5h-1zM310 351h2v15h-2zM1194 366h1v5h-1zM1465 371h1v5h-1zM1098 321h1v15h-1zM258 361h1v5h-1zM465 326h1v5h-1zM262 331h2v15h-2zM619 366h1v5h-1zM1498 316h1v5h-1zM626 331h2v5h-2zM297 316h1v10h-1zM357 351h1v15h-1zM891 321h1v10h-1zM369 361h1v5h-1zM725 346h1v15h-1zM491 351h1v5h-1zM739 346h1v5h-1zM890 326h1v5h-1zM629 336h2v5h-2zM595 366h1v10h-1zM1174 371h1v5h-1zM1621 336h1v15h-1zM285 311h1v10h-1zM1370 316h1v5h-1zM1345 326h1v5h-1zM873 351h1v5h-1zM410 341h1v5h-1zM1199 311h2v5h-2zM1459 331h2v10h-2zM1065 351h1v5h-1zM1470 311h1v15h-1zM1206 331h1v10h-1zM396 351h1v15h-1zM1364 341h2v10h-2zM991 331h2v10h-2zM447 371h1v5h-1zM1616 316h1v5h-1zM1428 356h1v15h-1zM271 326h1v10h-1zM741 361h1v10h-1zM986 346h1v5h-1zM1332 311h1v5h-1zM1052 326h2v10h-2zM1357 341h2v5h-2zM858 346h1v10h-1zM1139 326h1v10h-1zM399 321h1v10h-1zM1645 346h1v10h-1zM1483 316h1v5h-1zM397 331h2v10h-2zM1579 371h2v5h-2z" fill="#5b606e"/>
</g>
<g opacity="0.55">
<path d="M720 932h1v5h-1zM1548 876h1v5h-1zM1426 871h1v5h-1zM469 942h1v5h-1zM1054 921h1v5h-1zM1428 942h2v5h-2zM457 982h1v5h-1zM969 856h1v10h-1zM212 942h2v15h-2zM746 866h2v15h-2zM736 856h1v5h-1zM384 982h1v10h-1zM635 926h1v11h-1zM692 871h1v5h-1zM1014 942h1v5h-1zM869 942h1v5h-1zM1215 957h1v5h-1zM1060 896h1v5h-1zM257 916h1v11h-1zM1451 937h2v5h-2zM1166 967h1v5h-1zM790 866h1v15h-1zM1566 916h1v11h-1zM707 987h1v5h-1zM375 901h2v5h-2zM1398 942h1v5h-1zM947 871h1v10h-1zM331 876h1v5h-1zM977 982h1v5h-1zM946 957h1v15h-1zM1193 982h1v10h-1zM983 916h1v5h-1zM1098 916h1v11h-1zM796 952h1v5h-1zM787 997h2v5h-2zM1196 997h1v5h-1zM519 987h1v5h-1zM1367 921h1v11h-1zM1201 861h1v5h-1zM1044 942h1v10h-1zM722 926h1v6h-1zM1176 997h1v5h-1zM1569 896h1v10h-1zM1116 977h2v5h-2zM1228 982h1v5h-1zM1087 911h1v5h-1zM1321 891h1v5h-1zM1221 967h2v10h-2zM755 911h1v5h-1zM1594 921h1v5h-1zM298 891h1v10h-1zM1656 881h1v10h-1zM1350 896h1v10h-1zM255 977h1v15h-1zM429 866h1v5h-1zM243 957h1v10h-1zM1430 947h1v5h-1zM1474 967h1v15h-1zM937 982h1v15h-1zM1375 881h1v5h-1zM987 871h1v10h-1zM1681 871h2v15h-2zM870 901h2v10h-2zM627 891h2v15h-2zM607 901h2v5h-2zM1032 972h1v15h-1zM1567 947h1v10h-1zM857 901h1v5h-1zM917 891h2v15h-2zM1530 947h1v5h-1zM1046 871h1v5h-1zM1341 896h1v5h-1zM1018 987h2v5h-2zM1291 861h1v5h-1zM1592 987h1v10h-1zM1196 861h1v10h-1zM853 851h1v10h-1zM1137 926h1v11h-1zM1121 952h1v5h-1zM1359 871h2v10h-2zM360 992h1v10h-1zM698 916h1v16h-1zM686 856h1v15h-1zM468 967h1v10h-1zM502 987h2v5h-2zM1424 937h2v10h-2zM1552 972h1v5h-1zM1262 891h2v5h-2zM369 861h1v10h-1zM540 967h1v10h-1zM1385 947h1v5h-1zM875 881h1v15h-1zM1158 876h1v10h-1zM918 972h1v5h-1zM1414 896h2v10h-2zM1074 947h1v10h-1zM387 861h1v5h-1zM1130 856h1v5h-1zM443 932h1v15h-1zM1613 992h1v10h-1zM378 921h2v5h-2zM308 911h1v5h-1zM827 881h1v5h-1zM627 901h1v5h-1zM289 901h2v10h-2zM1350 952h2v10h-2zM731 937h1v5h-1zM632 876h2v10h-2zM866 967h2v10h-2zM1151 851h2v5h-2zM1687 997h1v5h-1zM565 987h1v5h-1zM314 851h2v5h-2zM1651 881h1v5h-1zM469 906h1v10h-1zM1188 987h2v10h-2zM1253 861h1v5h-1zM882 861h1v5h-1zM1232 896h1v5h-1zM916 876h1v5h-1zM1455 982h2v5h-2zM859 891h1v5h-1zM1438 916h1v5h-1zM587 987h2v5h-2zM1557 881h1v15h-1zM730 901h1v10h-1zM867 937h2v15h-2zM1442 982h1v10h-1zM379 932h1v5h-1zM1563 947h1v15h-1zM865 866h1v10h-1zM718 926h1v6h-1zM454 977h1v5h-1zM1085 856h1v10h-1zM1545 982h1v10h-1zM1669 911h1v5h-1zM812 906h2v10h-2zM604 891h2v10h-2zM320 997h1v5h-1zM353 876h1v10h-1zM955 967h2v15h-2zM466 901h2v5h-2zM548 992h1v5h-1zM1372 982h1v15h-1zM1647 851h1v5h-1zM1585 982h1v5h-1zM525 987h1v5h-1zM795 911h1v10h-1zM1258 851h1v15h-1zM809 962h1v10h-1zM784 992h2v10h-2zM375 997h1v5h-1zM303 851h1v5h-1zM1632 947h1v5h-1zM219 896h1v5h-1zM939 937h2v5h-2zM1690 921h1v5h-1zM1005 886h1v15h-1zM1533 906h1v5h-1zM1389 987h1v5h-1zM1510 896h1v5h-1zM310 876h2v5h-2zM1145 886h1v10h-1zM685 871h1v5h-1zM697 886h2v15h-2zM433 987h1v10h-1z" fill="#434e6c"/>
<path d="M213 861h1v15h-1zM1175 926h1v11h-1zM1179 957h1v5h-1zM498 866h1v5h-1zM1002 967h1v5h-1zM1467 997h2v5h-2zM1108 856h1v5h-1zM1309 881h1v10h-1zM1269 881h1v5h-1zM975 932h1v5h-1zM1334 962h1v5h-1zM617 937h2v10h-2zM369 937h1v10h-1zM297 947h1v15h-1zM1145 871h2v10h-2zM398 977h1v5h-1zM519 957h1v15h-1zM1140 982h1v5h-1zM736 947h1v5h-1zM1315 952h2v5h-2zM215 891h1v5h-1zM1322 871h1v5h-1zM1630 992h1v10h-1zM996 856h1v5h-1zM1426 937h1v10h-1zM432 921h2v11h-2zM1595 851h1v5h-1zM1416 851h1v15h-1zM1011 962h1v5h-1zM1643 906h1v10h-1zM1272 901h1v10h-1zM1666 932h1v15h-1zM1069 972h1v5h-1zM1573 947h1v5h-1zM1275 856h2v5h-2zM1026 967h1v10h-1zM520 861h1v5h-1zM831 866h1v5h-1zM1089 947h2v5h-2zM1523 886h1v15h-1zM711 856h1v10h-1zM783 866h2v5h-2zM1005 886h1v15h-1zM1014 926h1v6h-1zM707 896h2v15h-2zM643 957h1v5h-1zM1465 906h1v15h-1zM1289 906h1v5h-1zM1553 992h1v5h-1zM1219 906h1v5h-1zM719 967h1v5h-1zM677 962h1v15h-1zM1476 891h1v10h-1zM526 982h2v15h-2zM1522 901h2v10h-2zM893 987h1v10h-1zM1248 901h2v5h-2zM759 932h2v5h-2zM331 967h1v5h-1zM1410 876h1v10h-1zM843 992h1v10h-1zM407 992h1v5h-1zM1188 886h1v5h-1zM410 932h1v5h-1zM713 916h1v5h-1zM703 896h1v10h-1zM440 896h1v10h-1zM1398 891h1v15h-1zM1180 997h2v5h-2zM553 921h2v5h-2zM1146 967h1v5h-1zM1521 896h1v15h-1zM1295 866h1v10h-1zM617 871h2v15h-2zM566 972h1v10h-1zM987 937h1v10h-1zM1524 982h1v5h-1zM1357 906h1v15h-1zM529 876h1v15h-1zM1657 932h1v5h-1zM556 982h1v5h-1zM1648 997h1v5h-1zM1106 942h1v10h-1zM773 932h1v5h-1zM1060 851h2v10h-2zM1118 881h1v10h-1zM602 962h1v10h-1zM408 921h2v5h-2zM1000 992h2v10h-2zM1166 952h1v5h-1zM822 891h1v10h-1zM544 932h1v15h-1zM707 851h1v10h-1zM703 942h1v15h-1zM383 886h1v5h-1zM989 982h1v10h-1zM1392 911h1v5h-1zM394 876h1v5h-1zM205 952h1v15h-1zM1032 972h1v5h-1zM1538 952h1v5h-1zM377 861h2v10h-2zM955 962h1v10h-1zM1216 906h1v5h-1zM858 947h1v15h-1zM388 911h1v5h-1zM479 856h2v5h-2zM343 977h1v10h-1zM908 926h1v6h-1zM329 942h2v15h-2zM457 871h2v5h-2zM985 921h1v5h-1zM801 992h1v5h-1zM1332 886h1v10h-1zM1311 932h1v10h-1zM1209 891h1v5h-1zM1456 856h1v5h-1zM819 896h1v10h-1zM758 871h1v5h-1zM236 997h2v5h-2zM826 942h2v10h-2zM445 861h1v10h-1zM1553 952h1v15h-1zM722 972h1v5h-1zM312 997h2v5h-2zM573 952h1v5h-1zM1244 881h1v10h-1zM1408 957h2v5h-2zM421 952h1v15h-1zM752 886h1v10h-1zM245 942h1v5h-1zM463 861h1v15h-1zM1177 987h1v5h-1zM720 901h1v5h-1zM1232 886h2v15h-2zM1506 921h1v5h-1zM833 921h1v5h-1zM1016 952h1v5h-1zM1397 896h1v5h-1zM1238 881h1v10h-1zM714 977h1v5h-1zM580 982h1v15h-1zM913 962h1v5h-1zM511 952h1v10h-1zM1392 896h2v5h-2zM635 876h1v5h-1zM525 911h2v10h-2zM797 896h1v5h-1zM514 856h2v5h-2zM1120 932h1v5h-1zM406 861h1v15h-1zM1007 856h1v5h-1zM786 997h1v5h-1zM895 982h1v15h-1zM926 972h1v5h-1zM1028 856h1v5h-1zM639 997h1v5h-1zM1367 926h1v11h-1zM1297 851h1v5h-1zM1406 982h2v5h-2zM1035 891h1v5h-1zM573 962h2v15h-2zM1255 967h1v10h-1zM1043 871h1v5h-1zM1030 921h2v11h-2zM1552 921h1v5h-1zM1065 856h1v5h-1zM423 871h2v10h-2z" fill="#5b606e"/>
<path d="M802 947h1v5h-1zM1531 871h1v15h-1zM1262 962h1v10h-1zM739 952h1v10h-1zM1494 962h1v5h-1zM934 881h1v15h-1zM206 881h1v5h-1zM380 871h1v5h-1zM294 906h2v5h-2zM513 921h1v16h-1zM343 987h1v5h-1zM974 861h2v15h-2zM611 881h1v5h-1zM328 881h2v10h-2zM633 952h2v10h-2zM722 982h1v10h-1zM908 962h1v5h-1zM1303 911h1v10h-1zM650 957h2v10h-2zM1170 876h1v5h-1zM1160 916h1v5h-1zM1436 851h2v5h-2zM485 947h1v5h-1zM1072 891h1v10h-1zM1650 937h1v10h-1zM464 871h1v10h-1zM1070 901h1v5h-1zM1240 911h1v15h-1zM1556 967h2v10h-2zM315 916h1v5h-1zM1621 891h1v10h-1zM1174 906h1v5h-1zM1091 992h1v10h-1zM286 942h1v10h-1zM687 932h1v5h-1zM758 977h2v10h-2zM777 982h1v10h-1zM1053 977h1v10h-1zM427 906h1v10h-1zM1618 886h1v15h-1zM212 987h2v10h-2zM318 977h2v5h-2zM770 926h1v11h-1zM1271 932h1v10h-1zM1567 952h1v5h-1zM1652 947h1v5h-1zM801 947h2v10h-2zM324 952h1v5h-1zM1460 876h1v10h-1zM330 967h2v15h-2zM1025 876h1v5h-1zM547 987h1v10h-1zM953 891h2v5h-2zM1003 881h2v10h-2zM1348 916h1v5h-1zM1440 916h1v5h-1zM1452 977h1v5h-1zM657 982h1v5h-1zM804 891h2v10h-2zM1131 967h1v10h-1zM592 866h1v5h-1zM968 962h1v5h-1zM294 851h1v10h-1zM718 992h2v5h-2zM759 901h1v5h-1zM1291 997h1v5h-1zM610 921h1v5h-1zM1208 911h2v10h-2zM1201 866h1v5h-1zM733 901h1v10h-1zM550 952h2v10h-2zM1442 972h1v15h-1zM295 896h1v5h-1zM1496 987h1v15h-1zM1113 916h2v11h-2zM333 952h2v5h-2zM1564 891h1v10h-1zM464 947h1v5h-1zM1167 861h1v15h-1zM1616 881h2v10h-2zM207 866h1v5h-1zM809 972h1v10h-1zM1116 957h1v10h-1zM1553 856h1v15h-1zM359 972h1v5h-1zM709 992h1v10h-1zM623 901h1v10h-1zM397 871h1v5h-1zM1304 947h1v10h-1zM459 856h1v10h-1zM1677 937h1v10h-1zM539 987h2v5h-2zM359 871h1v15h-1zM446 876h1v5h-1zM1508 992h2v10h-2zM511 911h1v5h-1zM452 911h1v5h-1zM1208 926h1v11h-1zM1093 886h1v5h-1zM412 967h1v5h-1zM963 932h1v5h-1zM1012 881h1v5h-1zM1547 906h2v10h-2zM1128 891h1v10h-1zM1414 967h1v10h-1zM584 851h1v5h-1zM1118 921h2v5h-2zM429 967h2v10h-2zM1215 861h2v5h-2zM833 861h1v5h-1zM856 967h1v15h-1zM602 992h2v10h-2zM1369 896h2v10h-2zM1352 977h1v10h-1zM1005 987h1v5h-1zM906 886h1v10h-1zM1041 987h1v10h-1zM528 861h1v5h-1zM516 942h2v5h-2zM853 856h1v5h-1zM1258 977h1v5h-1zM1586 881h1v5h-1zM991 871h1v5h-1zM547 967h1v5h-1zM1411 972h2v15h-2zM1035 937h1v5h-1zM1329 851h1v5h-1zM463 896h2v15h-2zM852 962h1v5h-1zM1664 886h1v5h-1zM1379 876h1v5h-1zM341 977h1v10h-1zM1640 937h1v10h-1zM1493 866h1v10h-1zM1595 856h2v10h-2zM902 942h1v15h-1zM1503 926h1v16h-1zM1216 992h2v5h-2zM658 891h2v5h-2zM787 972h1v15h-1zM1429 937h1v5h-1zM1570 881h1v5h-1zM428 881h2v5h-2zM232 901h1v10h-1zM808 982h1v5h-1zM1310 952h1v5h-1zM854 957h2v10h-2zM1359 921h1v5h-1zM818 992h2v5h-2zM1368 851h1v15h-1zM1268 871h1v5h-1zM467 997h1v5h-1zM677 997h1v5h-1zM1673 957h2v5h-2zM435 866h1v5h-1zM1153 932h2v5h-2zM504 911h2v15h-2zM861 982h1v10h-1zM1198 886h2v15h-2zM1551 916h1v11h-1zM864 901h1v5h-1zM786 921h1v11h-1zM373 992h1v10h-1zM1225 866h1v10h-1zM1688 876h1v5h-1zM1158 906h1v15h-1z" fill="#727274"/>
</g>
<g opacity="0.5">
<path d="M1539 1027h1v6h-1zM757 1049h2v6h-2zM1679 1044h1v5h-1zM1666 1027h1v6h-1zM1685 1044h1v5h-1zM1080 1049h1v6h-1zM991 1033h2v5h-2zM1270 1027h1v6h-1zM1042 1038h1v6h-1zM354 1044h1v5h-1zM1324 1038h1v6h-1zM1265 1038h1v11h-1zM1597 1038h2v6h-2zM1577 1044h2v11h-2zM218 1027h1v6h-1zM1327 1044h1v11h-1zM246 1044h1v5h-1zM589 1049h1v6h-1zM250 1033h1v5h-1zM768 1049h1v6h-1zM777 1038h2v11h-2zM635 1049h1v6h-1zM1628 1044h1v11h-1zM970 1027h2v11h-2zM226 1033h1v11h-1zM1641 1044h1v5h-1zM998 1044h1v5h-1zM209 1038h2v11h-2zM790 1027h1v6h-1zM854 1033h1v5h-1zM345 1038h1v11h-1zM252 1033h1v11h-1zM826 1049h1v6h-1zM1402 1038h2v11h-2zM1281 1033h1v5h-1zM676 1044h1v5h-1zM1520 1049h1v6h-1zM1416 1049h1v6h-1zM316 1027h1v6h-1zM1055 1033h1v11h-1zM1031 1044h1v11h-1zM522 1033h2v5h-2zM371 1033h1v5h-1zM1570 1044h1v5h-1zM1055 1049h1v6h-1zM539 1044h1v11h-1zM1525 1027h1v11h-1zM1041 1044h1v11h-1zM1263 1033h1v5h-1zM866 1049h1v6h-1zM343 1027h1v6h-1zM682 1027h1v6h-1zM471 1033h1v5h-1zM1386 1033h1v5h-1zM1120 1049h1v6h-1zM1556 1027h1v6h-1zM860 1049h1v6h-1zM226 1044h1v5h-1zM1242 1044h1v5h-1z" fill="#434e6c"/>
<path d="M361 1049h1v6h-1zM540 1038h1v6h-1zM1235 1027h2v11h-2zM1598 1049h1v6h-1zM1355 1027h1v6h-1zM1601 1044h1v11h-1zM703 1049h1v6h-1zM1421 1049h1v6h-1zM589 1049h1v6h-1zM829 1027h1v11h-1zM826 1038h2v11h-2zM224 1033h1v11h-1zM1274 1038h2v6h-2zM944 1038h1v6h-1zM1166 1044h1v5h-1zM604 1038h2v6h-2zM655 1038h1v6h-1zM1580 1033h2v5h-2zM1495 1033h1v11h-1zM1275 1049h2v6h-2zM528 1049h2v6h-2zM1115 1044h2v5h-2zM537 1038h2v6h-2zM1167 1027h1v11h-1zM913 1044h1v11h-1zM1504 1033h1v5h-1zM669 1033h1v5h-1zM1396 1038h1v6h-1zM1450 1044h1v11h-1zM651 1049h2v6h-2zM1265 1027h1v6h-1zM327 1044h1v5h-1zM1679 1033h1v5h-1zM1263 1038h1v6h-1zM1140 1049h1v6h-1zM793 1027h1v11h-1zM1185 1033h1v5h-1zM1261 1038h1v6h-1zM360 1038h1v6h-1zM1367 1038h1v11h-1zM1598 1038h1v11h-1zM1673 1049h2v6h-2zM389 1033h1v5h-1zM270 1044h1v5h-1zM1602 1038h1v6h-1zM758 1038h1v6h-1zM1392 1049h1v6h-1zM1110 1033h1v11h-1zM1015 1033h1v11h-1zM1607 1044h1v5h-1zM870 1049h1v6h-1zM414 1049h1v6h-1zM301 1049h1v6h-1zM1372 1049h1v6h-1zM277 1049h1v6h-1zM851 1049h1v6h-1zM1581 1038h1v6h-1zM1454 1027h1v6h-1zM905 1027h1v6h-1zM208 1038h1v6h-1zM508 1033h2v11h-2z" fill="#5b606e"/>
</g>
<path d="M206 641.8h2.0v32.5h-2.0zM210 641.8h1.5v32.5h-1.5zM214 641.8h5.0v32.5h-5.0zM227 641.8h2.8v32.5h-2.8zM234.5 641.8h1.5v32.5h-1.5zM237 641.8h1.7v32.5h-1.7zM260.7 641.8h1.0v32.5h-1.0zM267.7 641.8h1.0v32.5h-1.0zM273 641.8h1.0v32.5h-1.0zM279 641.8h1.0v32.5h-1.0zM288.4 641.8h3.6v32.5h-3.6zM294.9 641.8h3.9v32.5h-3.9zM305 641.8h2.0v32.5h-2.0zM308 641.8h2.0v32.5h-2.0zM318 641.8h1.0v32.5h-1.0zM326 641.8h3.0v32.5h-3.0zM336.2 641.8h1.0v32.5h-1.0zM346 641.8h1.0v32.5h-1.0zM360 641.8h1.0v32.5h-1.0zM371.3 641.8h1.0v32.5h-1.0zM377.8 641.8h1.0v32.5h-1.0zM387.5 641.8h2.0v32.5h-2.0zM390.5 641.8h1.5v32.5h-1.5zM394 641.8h2.0v32.5h-2.0zM424.6 641.8h2.2v32.5h-2.2zM444.8 641.8h2.2v32.5h-2.2zM453.5 641.8h1.0v32.5h-1.0zM516.5 641.8h1.0v32.5h-1.0zM526.5 641.8h1.0v32.5h-1.0zM552.5 641.8h1.0v32.5h-1.0zM564 641.8h1.8v32.5h-1.8zM626 641.8h1.6v32.5h-1.6zM657.5 641.8h1.0v32.5h-1.0zM662.6 641.8h2.9v32.5h-2.9zM680 641.8h4.5v32.5h-4.5zM715.3 641.8h1.0v32.5h-1.0zM719.8 641.8h1.0v32.5h-1.0zM723.8 641.8h1.0v32.5h-1.0zM757 641.8h1.0v32.5h-1.0zM763.6 641.8h4.4v32.5h-4.4zM773.7 641.8h1.6v32.5h-1.6zM777.6 641.8h5.0v32.5h-5.0zM815.3 641.8h1.0v32.5h-1.0zM822 641.8h4.0v32.5h-4.0zM827.5 641.8h4.3v32.5h-4.3zM861.8 641.8h5.1v32.5h-5.1zM873 641.8h10.7v32.5h-10.7zM908 641.8h1.0v32.5h-1.0zM911.8 641.8h1.0v32.5h-1.0zM922.5 641.8h8.4v32.5h-8.4zM940 641.8h1.0v32.5h-1.0zM972 641.8h6.6v32.5h-6.6zM981.5 641.8h1.0v32.5h-1.0zM990.5 641.8h1.0v32.5h-1.0zM1006.7 641.8h1.0v32.5h-1.0zM1012.4 641.8h1.0v32.5h-1.0zM1029.7 641.8h2.3v32.5h-2.3zM1038 641.8h2.4v32.5h-2.4zM1089.5 641.8h1.0v32.5h-1.0zM1112 641.8h1.0v32.5h-1.0zM1120.5 641.8h1.0v32.5h-1.0zM1126.8 641.8h4.0v32.5h-4.0zM1149.4 641.8h1.0v32.5h-1.0zM1191.2 641.8h1.0v32.5h-1.0zM1210.7 641.8h1.0v32.5h-1.0zM1218.8 641.8h4.4v32.5h-4.4zM1248.1 641.8h1.0v32.5h-1.0zM1279.3 641.8h3.5v32.5h-3.5zM1285.1 641.8h1.8v32.5h-1.8zM1290.4 641.8h1.7v32.5h-1.7zM1295.3 641.8h2.9v32.5h-2.9zM1299.8 641.8h1.0v32.5h-1.0zM1310 641.8h1.0v32.5h-1.0zM1320.1 641.8h3.5v32.5h-3.5zM1327.4 641.8h1.5v32.5h-1.5zM1377.4 641.8h4.1v32.5h-4.1zM1384.4 641.8h1.7v32.5h-1.7zM1394.6 641.8h1.8v32.5h-1.8zM1398.5 641.8h1.0v32.5h-1.0zM1410.2 641.8h1.0v32.5h-1.0zM1421.8 641.8h3.5v32.5h-3.5zM1427.6 641.8h4.1v32.5h-4.1zM1465.5 641.8h2.4v32.5h-2.4zM1480.8 641.8h1.0v32.5h-1.0zM1510.9 641.8h1.0v32.5h-1.0zM1521 641.8h3.5v32.5h-3.5zM1528.9 641.8h1.5v32.5h-1.5zM1565.4 641.8h3.5v32.5h-3.5zM1578.8 641.8h2.7v32.5h-2.7zM1583.8 641.8h2.0v32.5h-2.0zM1608.6 641.8h2.4v32.5h-2.4zM1613.9 641.8h1.0v32.5h-1.0zM1620.3 641.8h2.0v32.5h-2.0zM1623.8 641.8h2.3v32.5h-2.3zM1664.7 641.8h1.4v32.5h-1.4zM1667.1 641.8h1.0v32.5h-1.0zM1678.2 641.8h1.0v32.5h-1.0zM1681.6 641.8h2.3v32.5h-2.3zM1685.7 641.8h1.7v32.5h-1.7z" fill="#fee838"/>
<path d="M280 515h9.3v7.8h-9.3zM300.5 515h8.5v7.8h-8.5zM445.6 515h2.9v7.8h-2.9zM742 515h9v7.8h-9zM813 515h4v7.8h-4zM1101 515h5v7.8h-5zM1348 515h5.7v7.8h-5.7zM534.6 515h7.4v7.8h-7.4zM579 515h7.9v7.8h-7.9zM614 515h7.7v7.8h-7.7zM629 515h2.8v7.8h-2.8zM712.5 515h10.5v7.8h-10.5zM756 515h5.6v7.8h-5.6zM799 515h4.7v7.8h-4.7zM860 515h6v7.8h-6zM1289.5 515h4.5v7.8h-4.5z" fill="#565c6d"/>
<g opacity="0.75">
<path d="M233.7 522.8h5.6v10.2h-5.6zM247.7 522.8h5.6v10.2h-5.6zM368.4 522.8h2.9v10.2h-2.9zM376.9 522.8h2.8v10.2h-2.8zM406.3 522.8h4.3v10.2h-4.3zM493.4 522.8h5.6v10.2h-5.6zM551 522.8h2.8v10.2h-2.8zM565 522.8h5.6v10.2h-5.6zM601.5 522.8h5.5v10.2h-5.5zM728 522.8h4v10.2h-4zM805 522.8h7v10.2h-7zM834.6 522.8h5.4v10.2h-5.4zM878 522.8h5.7v10.2h-5.7zM903 522.8h3v10.2h-3zM983 522.8h9v10.2h-9zM1027 522.8h14v10.2h-14zM1048 522.8h5.6v10.2h-5.6zM1126.6 522.8h12.4v10.2h-12.4zM1164.5 522.8h2.5v10.2h-2.5zM1188.8 522.8h5.2v10.2h-5.2zM1298 522.8h9v10.2h-9zM1317 522.8h9v10.2h-9zM1336 522.8h6v10.2h-6zM1384 522.8h12v10.2h-12zM1521.6 522.8h8.4v10.2h-8.4zM1542 522.8h6v10.2h-6zM1644 522.8h7.5v10.2h-7.5zM1664.7 522.8h8.7v10.2h-8.7z" fill="#5e626e"/>
<path d="M233.7 515h5.6v7.8h-5.6zM247.7 515h5.6v7.8h-5.6zM368.4 515h2.9v7.8h-2.9zM376.9 515h2.8v7.8h-2.8zM406.3 515h4.3v7.8h-4.3zM493.4 515h5.6v7.8h-5.6zM551 515h2.8v7.8h-2.8zM565 515h5.6v7.8h-5.6zM601.5 515h5.5v7.8h-5.5zM728 515h4v7.8h-4zM805 515h7v7.8h-7zM834.6 515h5.4v7.8h-5.4zM878 515h5.7v7.8h-5.7zM903 515h3v7.8h-3zM983 515h9v7.8h-9zM1027 515h14v7.8h-14zM1048 515h5.6v7.8h-5.6zM1126.6 515h12.4v7.8h-12.4zM1164.5 515h2.5v7.8h-2.5zM1188.8 515h5.2v7.8h-5.2zM1298 515h9v7.8h-9zM1317 515h9v7.8h-9zM1336 515h6v7.8h-6zM1384 515h12v7.8h-12zM1521.6 515h8.4v7.8h-8.4zM1542 515h6v7.8h-6zM1644 515h7.5v7.8h-7.5zM1664.7 515h8.7v7.8h-8.7z" fill="#3b496c"/>
</g>
<path d="M280 522.8h9.3v10.2h-9.3zM300.5 522.8h8.5v10.2h-8.5zM445.6 522.8h2.9v10.2h-2.9zM742 522.8h9v10.2h-9zM813 522.8h4v10.2h-4zM1101 522.8h5v10.2h-5zM1348 522.8h5.7v10.2h-5.7z" fill="#f9e03a"/>
<path d="M534.6 527h7.4v6h-7.4zM579 527h7.9v6h-7.9zM614 527h7.7v6h-7.7zM629 527h2.8v6h-2.8zM712.5 527h10.5v6h-10.5zM756 527h5.6v6h-5.6zM799 527h4.7v6h-4.7zM860 527h6v6h-6zM1289.5 527h4.5v6h-4.5z" fill="#e5cf52"/>
<path d="M534.6 522.8h7.4v4.2h-7.4zM579 522.8h7.9v4.2h-7.9zM614 522.8h7.7v4.2h-7.7zM629 522.8h2.8v4.2h-2.8zM712.5 522.8h10.5v4.2h-10.5zM756 522.8h5.6v4.2h-5.6zM799 522.8h4.7v4.2h-4.7zM860 522.8h6v4.2h-6zM1289.5 522.8h4.5v4.2h-4.5z" fill="#7d7c78"/>
<path d="M204.5 689h1.5v4.4h-1.5zM209 689h1v4.4h-1zM212 689h1v4.4h-1zM215 689h1.5v4.4h-1.5zM219.5 689h2v4.4h-2zM225.5 689h1v4.4h-1zM228.5 689h2v4.4h-2zM235.5 689h3v4.4h-3zM242.5 689h1v4.4h-1zM246.5 689h1v4.4h-1zM250.5 689h1v4.4h-1zM253.5 689h2v4.4h-2zM258.5 689h1v4.4h-1zM262.5 689h1.5v4.4h-1.5zM266 689h1v4.4h-1zM271 689h1.5v4.4h-1.5zM276.5 689h2v4.4h-2zM280.5 689h1v4.4h-1zM283.5 689h1v4.4h-1zM286.5 689h1v4.4h-1zM292.5 689h2v4.4h-2zM297.5 689h2v4.4h-2zM304.5 689h2v4.4h-2zM308.5 689h1v4.4h-1zM314.5 689h3v4.4h-3zM319.5 689h3v4.4h-3zM325.5 689h1v4.4h-1zM328.5 689h2v4.4h-2zM333.5 689h1v4.4h-1zM338.5 689h1v4.4h-1zM342.5 689h2v4.4h-2zM349.5 689h2v4.4h-2zM353.5 689h1.5v4.4h-1.5zM359 689h1v4.4h-1zM363 689h2v4.4h-2zM369 689h2v4.4h-2zM373 689h1v4.4h-1zM378 689h2v4.4h-2zM383 689h3v4.4h-3zM388 689h2v4.4h-2zM392 689h1v4.4h-1zM395 689h2v4.4h-2zM402 689h1v4.4h-1zM408 689h1.5v4.4h-1.5zM412.5 689h1v4.4h-1zM416.5 689h2v4.4h-2zM422.5 689h3v4.4h-3zM428.5 689h1v4.4h-1zM434.5 689h2v4.4h-2zM441.5 689h3v4.4h-3zM446.5 689h1v4.4h-1zM450.5 689h2v4.4h-2zM454.5 689h1v4.4h-1zM458.5 689h1.5v4.4h-1.5zM463 689h2v4.4h-2zM467 689h1v4.4h-1zM471 689h1v4.4h-1zM474 689h3v4.4h-3zM479 689h1v4.4h-1zM482 689h3v4.4h-3zM488 689h1v4.4h-1zM492 689h2v4.4h-2zM496 689h1v4.4h-1zM499 689h1.5v4.4h-1.5zM502.5 689h1v4.4h-1zM505.5 689h1v4.4h-1zM508.5 689h1v4.4h-1zM511.5 689h1v4.4h-1zM517.5 689h2v4.4h-2zM522.5 689h2v4.4h-2zM529.5 689h3v4.4h-3zM536.5 689h2v4.4h-2zM541.5 689h2v4.4h-2zM546.5 689h2v4.4h-2zM550.5 689h2v4.4h-2zM556.5 689h2v4.4h-2zM561.5 689h2v4.4h-2zM566.5 689h1.5v4.4h-1.5zM571 689h1v4.4h-1zM574 689h2v4.4h-2zM579 689h1v4.4h-1zM582 689h1v4.4h-1zM588 689h1v4.4h-1zM591 689h1v4.4h-1zM597 689h1v4.4h-1zM602 689h1v4.4h-1zM608 689h1v4.4h-1zM612 689h1v4.4h-1zM615 689h3v4.4h-3zM621 689h1.5v4.4h-1.5zM625.5 689h2v4.4h-2zM631.5 689h3v4.4h-3zM637.5 689h1v4.4h-1zM643.5 689h2v4.4h-2zM648.5 689h1.5v4.4h-1.5zM652 689h2v4.4h-2zM657 689h1.5v4.4h-1.5zM660.5 689h1.5v4.4h-1.5zM665 689h3v4.4h-3zM673 689h2v4.4h-2zM680 689h3v4.4h-3zM687 689h2v4.4h-2zM693 689h2v4.4h-2zM698 689h1.5v4.4h-1.5zM702.5 689h3v4.4h-3zM709.5 689h3v4.4h-3zM717.5 689h1.5v4.4h-1.5zM721 689h1.5v4.4h-1.5zM727.5 689h1v4.4h-1zM730.5 689h1v4.4h-1zM734.5 689h3v4.4h-3zM739.5 689h1v4.4h-1zM744.5 689h2v4.4h-2zM750.5 689h2v4.4h-2zM757.5 689h2v4.4h-2zM761.5 689h2v4.4h-2zM765.5 689h3v4.4h-3zM772.5 689h1v4.4h-1zM778.5 689h3v4.4h-3zM783.5 689h1.5v4.4h-1.5zM787 689h3v4.4h-3zM793 689h1v4.4h-1zM799 689h2v4.4h-2zM806 689h2v4.4h-2zM812 689h2v4.4h-2zM816 689h3v4.4h-3zM822 689h1v4.4h-1zM826 689h2v4.4h-2zM833 689h2v4.4h-2zM840 689h1v4.4h-1zM843 689h2v4.4h-2zM850 689h1v4.4h-1zM854 689h2v4.4h-2zM860 689h1v4.4h-1zM864 689h1v4.4h-1zM867 689h1v4.4h-1zM871 689h1v4.4h-1zM874 689h3v4.4h-3zM880 689h2v4.4h-2zM885 689h3v4.4h-3zM890 689h2v4.4h-2zM897 689h1v4.4h-1zM900 689h1v4.4h-1zM905 689h3v4.4h-3zM911 689h2v4.4h-2zM918 689h1v4.4h-1zM921 689h3v4.4h-3zM927 689h1v4.4h-1zM932 689h2v4.4h-2zM939 689h1.5v4.4h-1.5zM943.5 689h2v4.4h-2zM947.5 689h1v4.4h-1zM951.5 689h2v4.4h-2zM956.5 689h2v4.4h-2zM961.5 689h3v4.4h-3zM969.5 689h2v4.4h-2zM973.5 689h2v4.4h-2zM980.5 689h1v4.4h-1zM983.5 689h2v4.4h-2zM990.5 689h3v4.4h-3zM996.5 689h3v4.4h-3zM1004.5 689h1.5v4.4h-1.5zM1009 689h3v4.4h-3zM1015 689h1v4.4h-1zM1020 689h2v4.4h-2zM1025 689h3v4.4h-3zM1030 689h1.5v4.4h-1.5zM1034.5 689h1v4.4h-1zM1037.5 689h1.5v4.4h-1.5zM1044 689h1v4.4h-1zM1048 689h2v4.4h-2zM1053 689h1.5v4.4h-1.5zM1057.5 689h2v4.4h-2zM1061.5 689h3v4.4h-3zM1066.5 689h2v4.4h-2zM1072.5 689h3v4.4h-3zM1077.5 689h1.5v4.4h-1.5zM1082 689h1v4.4h-1zM1085 689h1.5v4.4h-1.5zM1090.5 689h2v4.4h-2zM1095.5 689h2v4.4h-2zM1101.5 689h2v4.4h-2zM1106.5 689h3v4.4h-3zM1112.5 689h1v4.4h-1zM1118.5 689h2v4.4h-2zM1124.5 689h1.5v4.4h-1.5zM1129 689h2v4.4h-2zM1134 689h1v4.4h-1zM1138 689h2v4.4h-2zM1144 689h2v4.4h-2zM1150 689h1.5v4.4h-1.5zM1153.5 689h2v4.4h-2zM1158.5 689h1.5v4.4h-1.5zM1163 689h2v4.4h-2zM1168 689h3v4.4h-3zM1175 689h1v4.4h-1zM1180 689h1v4.4h-1zM1184 689h1.5v4.4h-1.5zM1188.5 689h3v4.4h-3zM1194.5 689h2v4.4h-2zM1198.5 689h1.5v4.4h-1.5zM1203 689h1v4.4h-1zM1206 689h2v4.4h-2zM1213 689h1v4.4h-1zM1216 689h1v4.4h-1zM1220 689h2v4.4h-2zM1225 689h1.5v4.4h-1.5zM1229.5 689h1v4.4h-1zM1235.5 689h1.5v4.4h-1.5zM1239 689h1v4.4h-1zM1243 689h2v4.4h-2zM1250 689h1v4.4h-1zM1254 689h2v4.4h-2zM1258 689h2v4.4h-2zM1265 689h2v4.4h-2zM1269 689h1v4.4h-1zM1275 689h3v4.4h-3zM1282 689h1v4.4h-1zM1286 689h1v4.4h-1zM1291 689h2v4.4h-2zM1295 689h1v4.4h-1zM1298 689h1v4.4h-1zM1304 689h1.5v4.4h-1.5zM1308.5 689h2v4.4h-2zM1313.5 689h2v4.4h-2zM1319.5 689h1v4.4h-1zM1322.5 689h2v4.4h-2zM1327.5 689h2v4.4h-2zM1331.5 689h2v4.4h-2zM1338.5 689h1v4.4h-1zM1344.5 689h3v4.4h-3zM1351.5 689h3v4.4h-3zM1359.5 689h1v4.4h-1zM1362.5 689h2v4.4h-2zM1366.5 689h1.5v4.4h-1.5zM1371 689h1.5v4.4h-1.5zM1374.5 689h3v4.4h-3zM1381.5 689h2v4.4h-2zM1385.5 689h2v4.4h-2zM1389.5 689h1.5v4.4h-1.5zM1396 689h2v4.4h-2zM1403 689h3v4.4h-3zM1409 689h1v4.4h-1zM1412 689h2v4.4h-2zM1417 689h2v4.4h-2zM1424 689h2v4.4h-2zM1431 689h2v4.4h-2zM1437 689h2v4.4h-2zM1441 689h1.5v4.4h-1.5zM1444.5 689h1v4.4h-1zM1450.5 689h2v4.4h-2zM1454.5 689h1.5v4.4h-1.5zM1460 689h1.5v4.4h-1.5zM1466.5 689h1.5v4.4h-1.5zM1471 689h2v4.4h-2zM1476 689h3v4.4h-3zM1482 689h1v4.4h-1zM1485 689h1v4.4h-1zM1488 689h2v4.4h-2zM1492 689h2v4.4h-2zM1496 689h2v4.4h-2zM1500 689h1v4.4h-1zM1506 689h3v4.4h-3zM1514 689h2v4.4h-2zM1518 689h2v4.4h-2zM1523 689h3v4.4h-3zM1528 689h1.5v4.4h-1.5zM1532.5 689h1v4.4h-1zM1535.5 689h3v4.4h-3zM1541.5 689h2v4.4h-2zM1547.5 689h2v4.4h-2zM1552.5 689h1v4.4h-1zM1556.5 689h2v4.4h-2zM1561.5 689h1v4.4h-1zM1564.5 689h1v4.4h-1zM1567.5 689h1v4.4h-1zM1570.5 689h1v4.4h-1zM1574.5 689h2v4.4h-2zM1579.5 689h2v4.4h-2zM1584.5 689h2v4.4h-2zM1588.5 689h1.5v4.4h-1.5zM1593 689h2v4.4h-2zM1597 689h2v4.4h-2zM1602 689h1v4.4h-1zM1605 689h1.5v4.4h-1.5zM1609.5 689h1v4.4h-1zM1612.5 689h1v4.4h-1zM1617.5 689h1.5v4.4h-1.5zM1622 689h1v4.4h-1zM1628 689h1.5v4.4h-1.5zM1633.5 689h1.5v4.4h-1.5zM1637 689h1v4.4h-1zM1641 689h1.5v4.4h-1.5zM1645.5 689h1v4.4h-1zM1649.5 689h1.5v4.4h-1.5zM1656 689h1.5v4.4h-1.5zM1659.5 689h3v4.4h-3zM1664.5 689h2v4.4h-2zM1671.5 689h2v4.4h-2zM1678.5 689h1v4.4h-1zM1684.5 689h3v4.4h-3zM1689.5 689h3v4.4h-3z" fill="#eed649"/>
<path d="M204.5 589.7h8v3.3h-8zM224.5 589.7h3v3.3h-3zM239.5 589.7h3v3.3h-3zM244.5 589.7h3v3.3h-3zM249.5 589.7h1v3.3h-1zM253.5 589.7h1v3.3h-1zM257.5 589.7h2v3.3h-2zM261.5 589.7h8v3.3h-8zM277.5 589.7h3v3.3h-3zM282.5 589.7h5v3.3h-5zM290.5 589.7h8v3.3h-8zM303.5 589.7h1v3.3h-1zM306.5 589.7h8v3.3h-8zM315.5 589.7h1v3.3h-1zM324.5 589.7h5v3.3h-5zM330.5 589.7h1v3.3h-1zM334.5 589.7h3v3.3h-3zM338.5 589.7h3v3.3h-3zM344.5 589.7h5v3.3h-5zM351.5 589.7h1v3.3h-1zM364.5 589.7h5v3.3h-5zM371.5 589.7h3v3.3h-3zM375.5 589.7h8v3.3h-8zM386.5 589.7h5v3.3h-5zM403.5 589.7h5v3.3h-5zM410.5 589.7h8v3.3h-8zM423.5 589.7h3v3.3h-3zM431.5 589.7h8v3.3h-8zM444.5 589.7h1v3.3h-1zM447.5 589.7h1v3.3h-1zM449.5 589.7h5v3.3h-5zM456.5 589.7h3v3.3h-3zM464.5 589.7h1v3.3h-1zM466.5 589.7h5v3.3h-5zM473.5 589.7h5v3.3h-5zM486.5 589.7h2v3.3h-2zM496.5 589.7h5v3.3h-5zM509.5 589.7h5v3.3h-5zM526.5 589.7h1v3.3h-1zM529.5 589.7h2v3.3h-2zM536.5 589.7h8v3.3h-8zM546.5 589.7h1v3.3h-1zM555.5 589.7h1v3.3h-1zM557.5 589.7h1v3.3h-1zM563.5 589.7h2v3.3h-2zM570.5 589.7h2v3.3h-2zM574.5 589.7h5v3.3h-5zM581.5 589.7h8v3.3h-8zM594.5 589.7h1v3.3h-1zM600.5 589.7h3v3.3h-3zM608.5 589.7h3v3.3h-3zM614.5 589.7h2v3.3h-2zM628.5 589.7h8v3.3h-8zM637.5 589.7h1v3.3h-1zM640.5 589.7h2v3.3h-2zM643.5 589.7h5v3.3h-5zM656.5 589.7h1v3.3h-1zM660.5 589.7h2v3.3h-2zM663.5 589.7h3v3.3h-3zM671.5 589.7h1v3.3h-1zM677.5 589.7h2v3.3h-2zM680.5 589.7h1v3.3h-1zM684.5 589.7h3v3.3h-3zM690.5 589.7h8v3.3h-8zM701.5 589.7h2v3.3h-2zM704.5 589.7h2v3.3h-2zM718.5 589.7h8v3.3h-8zM729.5 589.7h2v3.3h-2zM732.5 589.7h1v3.3h-1zM745.5 589.7h1v3.3h-1zM751.5 589.7h5v3.3h-5zM761.5 589.7h1v3.3h-1zM774.5 589.7h2v3.3h-2zM781.5 589.7h8v3.3h-8zM790.5 589.7h8v3.3h-8zM806.5 589.7h3v3.3h-3zM812.5 589.7h1v3.3h-1zM825.5 589.7h8v3.3h-8zM841.5 589.7h8v3.3h-8zM851.5 589.7h5v3.3h-5zM858.5 589.7h1v3.3h-1zM864.5 589.7h3v3.3h-3zM868.5 589.7h3v3.3h-3zM883.5 589.7h3v3.3h-3zM889.5 589.7h5v3.3h-5zM897.5 589.7h1v3.3h-1zM899.5 589.7h1v3.3h-1zM908.5 589.7h8v3.3h-8zM918.5 589.7h3v3.3h-3zM929.5 589.7h2v3.3h-2zM932.5 589.7h1v3.3h-1zM938.5 589.7h2v3.3h-2zM945.5 589.7h8v3.3h-8zM961.5 589.7h2v3.3h-2zM975.5 589.7h3v3.3h-3zM986.5 589.7h5v3.3h-5zM992.5 589.7h3v3.3h-3zM1007.5 589.7h8v3.3h-8zM1023.5 589.7h3v3.3h-3zM1031.5 589.7h1v3.3h-1zM1033.5 589.7h5v3.3h-5zM1039.5 589.7h1v3.3h-1zM1041.5 589.7h3v3.3h-3zM1047.5 589.7h1v3.3h-1zM1051.5 589.7h2v3.3h-2zM1056.5 589.7h1v3.3h-1zM1062.5 589.7h5v3.3h-5zM1069.5 589.7h2v3.3h-2zM1073.5 589.7h5v3.3h-5zM1081.5 589.7h2v3.3h-2zM1091.5 589.7h1v3.3h-1zM1094.5 589.7h3v3.3h-3zM1099.5 589.7h3v3.3h-3zM1107.5 589.7h3v3.3h-3zM1112.5 589.7h1v3.3h-1zM1121.5 589.7h5v3.3h-5zM1127.5 589.7h5v3.3h-5zM1140.5 589.7h8v3.3h-8zM1153.5 589.7h1v3.3h-1zM1166.5 589.7h1v3.3h-1zM1175.5 589.7h5v3.3h-5zM1182.5 589.7h1v3.3h-1zM1188.5 589.7h1v3.3h-1zM1201.5 589.7h1v3.3h-1zM1210.5 589.7h1v3.3h-1zM1223.5 589.7h2v3.3h-2zM1227.5 589.7h8v3.3h-8zM1237.5 589.7h3v3.3h-3zM1241.5 589.7h8v3.3h-8zM1250.5 589.7h8v3.3h-8zM1266.5 589.7h8v3.3h-8zM1279.5 589.7h3v3.3h-3zM1290.5 589.7h3v3.3h-3zM1298.5 589.7h1v3.3h-1zM1300.5 589.7h5v3.3h-5zM1308.5 589.7h1v3.3h-1zM1314.5 589.7h2v3.3h-2zM1317.5 589.7h1v3.3h-1zM1319.5 589.7h8v3.3h-8zM1335.5 589.7h1v3.3h-1zM1341.5 589.7h1v3.3h-1zM1345.5 589.7h2v3.3h-2zM1348.5 589.7h8v3.3h-8zM1361.5 589.7h1v3.3h-1zM1370.5 589.7h5v3.3h-5zM1377.5 589.7h1v3.3h-1zM1379.5 589.7h1v3.3h-1zM1385.5 589.7h2v3.3h-2zM1395.5 589.7h1v3.3h-1zM1399.5 589.7h2v3.3h-2zM1406.5 589.7h3v3.3h-3zM1412.5 589.7h2v3.3h-2zM1426.5 589.7h1v3.3h-1zM1439.5 589.7h8v3.3h-8zM1459.5 589.7h3v3.3h-3zM1467.5 589.7h8v3.3h-8zM1476.5 589.7h1v3.3h-1zM1478.5 589.7h2v3.3h-2zM1481.5 589.7h1v3.3h-1zM1483.5 589.7h2v3.3h-2zM1490.5 589.7h3v3.3h-3zM1494.5 589.7h5v3.3h-5zM1504.5 589.7h1v3.3h-1zM1513.5 589.7h1v3.3h-1zM1517.5 589.7h8v3.3h-8zM1530.5 589.7h5v3.3h-5zM1540.5 589.7h2v3.3h-2zM1543.5 589.7h5v3.3h-5zM1549.5 589.7h8v3.3h-8zM1565.5 589.7h1v3.3h-1zM1568.5 589.7h1v3.3h-1zM1571.5 589.7h5v3.3h-5zM1581.5 589.7h5v3.3h-5zM1598.5 589.7h1v3.3h-1zM1607.5 589.7h1v3.3h-1zM1610.5 589.7h2v3.3h-2zM1614.5 589.7h1v3.3h-1zM1618.5 589.7h5v3.3h-5zM1626.5 589.7h1v3.3h-1zM1632.5 589.7h1v3.3h-1zM1638.5 589.7h2v3.3h-2zM1643.5 589.7h1v3.3h-1zM1645.5 589.7h8v3.3h-8zM1661.5 589.7h5v3.3h-5zM1674.5 589.7h1v3.3h-1zM1687.5 589.7h1v3.3h-1z" fill="#6b6d72"/>
<path d="M365.6 912.6h5.4v14.1h-5.4zM396.5 912.6h9.8v14.1h-9.8zM441.4 912.6h7.1v14.1h-7.1zM638 912.6h5.6v14.1h-5.6zM816 912.6h1.2v14.1h-1.2zM1049 912.6h1.2v14.1h-1.2z" fill="#727274"/>
<path d="M954 912.6h19.5v14.1h-19.5zM1111 912.6h8.6v14.1h-8.6zM1370 912.6h6v14.1h-6zM1492 912.6h9v14.1h-9zM1510 912.6h6v14.1h-6zM1542 912.6h4v14.1h-4zM1555 912.6h5v14.1h-5z" fill="#3b496c"/>
<path d="M1524.5 907.7h4.5v4.9h-4.5z" fill="#bcae6c"/>
<path d="M1222 905h5v4h-5zM1285 905h6v4h-6zM1345 905h4v4h-4z" fill="#62656f"/>
<g opacity="0.85">
<path d="M206 951h2v7h-2zM210 951h1.5v7h-1.5zM214 951h5v7h-5zM227 951h2.8v7h-2.8zM234.5 951h1.5v7h-1.5zM237 951h1.7v7h-1.7zM260.7 951h1v7h-1zM267.7 951h1v7h-1zM273 951h1v7h-1zM279 951h1v7h-1zM288.4 951h3.6v7h-3.6zM294.9 951h3.9v7h-3.9zM305 951h2v7h-2zM308 951h2v7h-2zM318 951h1v7h-1zM326 951h3v7h-3zM336.2 951h1v7h-1zM346 951h1v7h-1zM360 951h1v7h-1zM371.3 951h1v7h-1zM377.8 951h1v7h-1zM387.5 951h2v7h-2zM390.5 951h1.5v7h-1.5zM394 951h2v7h-2zM424.6 951h2.2v7h-2.2zM444.8 951h2.2v7h-2.2zM453.5 951h1v7h-1zM516.5 951h1v7h-1zM526.5 951h1v7h-1zM552.5 951h1v7h-1zM564 951h1.8v7h-1.8zM626 951h1.6v7h-1.6zM657.5 951h1v7h-1zM662.6 951h2.9v7h-2.9zM680 951h4.5v7h-4.5zM715.3 951h1v7h-1zM719.8 951h1v7h-1zM723.8 951h1v7h-1zM757 951h1v7h-1zM763.6 951h4.4v7h-4.4zM773.7 951h1.6v7h-1.6zM777.6 951h5v7h-5zM815.3 951h1v7h-1zM822 951h4v7h-4zM827.5 951h4.3v7h-4.3zM861.8 951h5.1v7h-5.1zM873 951h10.7v7h-10.7zM908 951h1v7h-1zM911.8 951h1v7h-1zM922.5 951h8.4v7h-8.4zM940 951h1v7h-1zM972 951h6.6v7h-6.6zM981.5 951h1v7h-1zM990.5 951h1v7h-1zM1006.7 951h1v7h-1zM1012.4 951h1v7h-1zM1029.7 951h2.3v7h-2.3zM1038 951h2.4v7h-2.4zM1089.5 951h1v7h-1zM1112 951h1v7h-1zM1120.5 951h1v7h-1zM1126.8 951h4v7h-4zM1149.4 951h1v7h-1zM1191.2 951h1v7h-1zM1210.7 951h1v7h-1zM1218.8 951h4.4v7h-4.4zM1248.1 951h1v7h-1zM1279.3 951h3.5v7h-3.5zM1285.1 951h1.8v7h-1.8zM1290.4 951h1.7v7h-1.7zM1295.3 951h2.9v7h-2.9zM1299.8 951h1v7h-1zM1310 951h1v7h-1zM1320.1 951h3.5v7h-3.5zM1327.4 951h1.5v7h-1.5zM1377.4 951h4.1v7h-4.1zM1384.4 951h1.7v7h-1.7zM1394.6 951h1.8v7h-1.8zM1398.5 951h1v7h-1zM1410.2 951h1v7h-1zM1421.8 951h3.5v7h-3.5zM1427.6 951h4.1v7h-4.1zM1465.5 951h2.4v7h-2.4zM1480.8 951h1v7h-1zM1510.9 951h1v7h-1zM1521 951h3.5v7h-3.5zM1528.9 951h1.5v7h-1.5zM1565.4 951h3.5v7h-3.5zM1578.8 951h2.7v7h-2.7zM1583.8 951h2v7h-2zM1608.6 951h2.4v7h-2.4zM1613.9 951h1v7h-1zM1620.3 951h2v7h-2zM1623.8 951h2.3v7h-2.3zM1664.7 951h1.4v7h-1.4zM1667.1 951h1v7h-1zM1678.2 951h1v7h-1zM1681.6 951h2.3v7h-2.3zM1685.7 951h1.7v7h-1.7z" fill="#62656f"/>
<path d="M206 958h2v6.5h-2zM210 958h1.5v6.5h-1.5zM214 958h5v6.5h-5zM227 958h2.8v6.5h-2.8zM234.5 958h1.5v6.5h-1.5zM237 958h1.7v6.5h-1.7zM260.7 958h1v6.5h-1zM267.7 958h1v6.5h-1zM273 958h1v6.5h-1zM279 958h1v6.5h-1zM288.4 958h3.6v6.5h-3.6zM294.9 958h3.9v6.5h-3.9zM305 958h2v6.5h-2zM308 958h2v6.5h-2zM318 958h1v6.5h-1zM326 958h3v6.5h-3zM336.2 958h1v6.5h-1zM346 958h1v6.5h-1zM360 958h1v6.5h-1zM371.3 958h1v6.5h-1zM377.8 958h1v6.5h-1zM387.5 958h2v6.5h-2zM390.5 958h1.5v6.5h-1.5zM394 958h2v6.5h-2zM424.6 958h2.2v6.5h-2.2zM444.8 958h2.2v6.5h-2.2zM453.5 958h1v6.5h-1zM516.5 958h1v6.5h-1zM526.5 958h1v6.5h-1zM552.5 958h1v6.5h-1zM564 958h1.8v6.5h-1.8zM626 958h1.6v6.5h-1.6zM657.5 958h1v6.5h-1zM662.6 958h2.9v6.5h-2.9zM680 958h4.5v6.5h-4.5zM715.3 958h1v6.5h-1zM719.8 958h1v6.5h-1zM723.8 958h1v6.5h-1zM757 958h1v6.5h-1zM763.6 958h4.4v6.5h-4.4zM773.7 958h1.6v6.5h-1.6zM777.6 958h5v6.5h-5zM815.3 958h1v6.5h-1zM822 958h4v6.5h-4zM827.5 958h4.3v6.5h-4.3zM861.8 958h5.1v6.5h-5.1zM873 958h10.7v6.5h-10.7zM908 958h1v6.5h-1zM911.8 958h1v6.5h-1zM922.5 958h8.4v6.5h-8.4zM940 958h1v6.5h-1zM972 958h6.6v6.5h-6.6zM981.5 958h1v6.5h-1zM990.5 958h1v6.5h-1zM1006.7 958h1v6.5h-1zM1012.4 958h1v6.5h-1zM1029.7 958h2.3v6.5h-2.3zM1038 958h2.4v6.5h-2.4zM1089.5 958h1v6.5h-1zM1112 958h1v6.5h-1zM1120.5 958h1v6.5h-1zM1126.8 958h4v6.5h-4zM1149.4 958h1v6.5h-1zM1191.2 958h1v6.5h-1zM1210.7 958h1v6.5h-1zM1218.8 958h4.4v6.5h-4.4zM1248.1 958h1v6.5h-1zM1279.3 958h3.5v6.5h-3.5zM1285.1 958h1.8v6.5h-1.8zM1290.4 958h1.7v6.5h-1.7zM1295.3 958h2.9v6.5h-2.9zM1299.8 958h1v6.5h-1zM1310 958h1v6.5h-1zM1320.1 958h3.5v6.5h-3.5zM1327.4 958h1.5v6.5h-1.5zM1377.4 958h4.1v6.5h-4.1zM1384.4 958h1.7v6.5h-1.7zM1394.6 958h1.8v6.5h-1.8zM1398.5 958h1v6.5h-1zM1410.2 958h1v6.5h-1zM1421.8 958h3.5v6.5h-3.5zM1427.6 958h4.1v6.5h-4.1zM1465.5 958h2.4v6.5h-2.4zM1480.8 958h1v6.5h-1zM1510.9 958h1v6.5h-1zM1521 958h3.5v6.5h-3.5zM1528.9 958h1.5v6.5h-1.5zM1565.4 958h3.5v6.5h-3.5zM1578.8 958h2.7v6.5h-2.7zM1583.8 958h2v6.5h-2zM1608.6 958h2.4v6.5h-2.4zM1613.9 958h1v6.5h-1zM1620.3 958h2v6.5h-2zM1623.8 958h2.3v6.5h-2.3zM1664.7 958h1.4v6.5h-1.4zM1667.1 958h1v6.5h-1zM1678.2 958h1v6.5h-1zM1681.6 958h2.3v6.5h-2.3zM1685.7 958h1.7v6.5h-1.7z" fill="#6b6d72"/>
</g>
<path d="M1525 138.5h3v13.5h-3z" fill="#5b606e"/>
<path d="M206.5 610h1v32h-1zM226.5 610h1v32h-1zM246.5 610h1v32h-1zM325.5 610h1v32h-1zM345.5 610h1v32h-1zM365.5 610h1v32h-1zM444.5 610h1v32h-1zM464.5 610h1v32h-1zM484.5 610h1v32h-1zM563.5 610h1v32h-1zM583.5 610h1v32h-1zM603.5 610h1v32h-1zM682.5 610h1v32h-1zM702.5 610h1v32h-1zM722.5 610h1v32h-1zM801.5 610h1v32h-1zM821.5 610h1v32h-1zM841.5 610h1v32h-1zM920.5 610h1v32h-1zM940.5 610h1v32h-1zM960.5 610h1v32h-1zM1039.5 610h1v32h-1zM1059.5 610h1v32h-1zM1079.5 610h1v32h-1zM1158.5 610h1v32h-1zM1178.5 610h1v32h-1zM1198.5 610h1v32h-1zM1277.5 610h1v32h-1zM1297.5 610h1v32h-1zM1317.5 610h1v32h-1zM1396.5 610h1v32h-1zM1416.5 610h1v32h-1zM1436.5 610h1v32h-1zM1515.5 610h1v32h-1zM1535.5 610h1v32h-1zM1555.5 610h1v32h-1zM1634.5 610h1v32h-1zM1654.5 610h1v32h-1zM1674.5 610h1v32h-1z" fill="#002b62" fill-opacity="0.9"/>
<rect x="204.5" y="109.5" width="1488.0" height="951.0" fill="none" stroke="#fff" stroke-width="3"/>
<path d="M204.2 109.5v-21.5M204.2 1060.5v20.3M303.3 109.5v-10.4M303.3 1060.5v9.3M402.4 109.5v-10.4M402.4 1060.5v9.3M501.6 109.5v-21.5M501.6 1060.5v20.3M600.7 109.5v-10.4M600.7 1060.5v9.3M699.8 109.5v-10.4M699.8 1060.5v9.3M798.9 109.5v-21.5M798.9 1060.5v20.3M898.0 109.5v-10.4M898.0 1060.5v9.3M997.2 109.5v-10.4M997.2 1060.5v9.3M1096.3 109.5v-21.5M1096.3 1060.5v20.3M1195.4 109.5v-10.4M1195.4 1060.5v9.3M1294.5 109.5v-10.4M1294.5 1060.5v9.3M1393.6 109.5v-21.5M1393.6 1060.5v20.3M1492.8 109.5v-10.4M1492.8 1060.5v9.3M1591.9 109.5v-10.4M1591.9 1060.5v9.3M1691.0 109.5v-21.5M1691.0 1060.5v20.3M204.5 155.0h-21.5M1692.5 155.0h20.5M204.5 230.9h-21.5M1692.5 230.9h20.5M204.5 295.1h-21.5M1692.5 295.1h20.5M204.5 350.7h-21.5M1692.5 350.7h20.5M204.5 399.8h-21.5M1692.5 399.8h20.5M204.5 443.7h-21.5M1692.5 443.7h20.5M204.5 612.5h-21.5M1692.5 612.5h20.5M204.5 732.3h-21.5M1692.5 732.3h20.5M204.5 825.2h-21.5M1692.5 825.2h20.5M204.5 901.2h-21.5M1692.5 901.2h20.5M204.5 965.4h-21.5M1692.5 965.4h20.5M204.5 1021.0h-21.5M1692.5 1021.0h20.5" stroke="#fff" stroke-width="4" fill="none"/>
<g fill="#fff" font-family="Liberation Sans, sans-serif">
<text x="280.3" y="68.5" font-size="53" textLength="1334.5" lengthAdjust="spacingAndGlyphs">2022-09-30 Radio flux density, e-CALLISTO (HUMAIN)</text>
<text x="166.5" y="172.0" font-size="43.5" text-anchor="end" textLength="52.4" lengthAdjust="spacingAndGlyphs">50</text>
<text x="166.5" y="247.9" font-size="43.5" text-anchor="end" textLength="52.4" lengthAdjust="spacingAndGlyphs">60</text>
<text x="166.5" y="312.1" font-size="43.5" text-anchor="end" textLength="52.4" lengthAdjust="spacingAndGlyphs">70</text>
<text x="166.5" y="367.7" font-size="43.5" text-anchor="end" textLength="52.4" lengthAdjust="spacingAndGlyphs">80</text>
<text x="166.5" y="416.8" font-size="43.5" text-anchor="end" textLength="52.4" lengthAdjust="spacingAndGlyphs">90</text>
<text x="166.5" y="460.7" font-size="43.5" text-anchor="end" textLength="77.6" lengthAdjust="spacingAndGlyphs">100</text>
<text x="166.5" y="629.5" font-size="43.5" text-anchor="end" textLength="77.6" lengthAdjust="spacingAndGlyphs">150</text>
<text x="166.5" y="749.3" font-size="43.5" text-anchor="end" textLength="77.6" lengthAdjust="spacingAndGlyphs">200</text>
<text x="166.5" y="842.2" font-size="43.5" text-anchor="end" textLength="77.6" lengthAdjust="spacingAndGlyphs">250</text>
<text x="166.5" y="918.2" font-size="43.5" text-anchor="end" textLength="77.6" lengthAdjust="spacingAndGlyphs">300</text>
<text x="166.5" y="982.4" font-size="43.5" text-anchor="end" textLength="77.6" lengthAdjust="spacingAndGlyphs">350</text>
<text x="166.5" y="1038.0" font-size="43.5" text-anchor="end" textLength="77.6" lengthAdjust="spacingAndGlyphs">400</text>
<text x="204.2" y="1129" font-size="43.5" text-anchor="middle" textLength="117.5" lengthAdjust="spacingAndGlyphs">05:30</text>
<text x="501.6" y="1129" font-size="43.5" text-anchor="middle" textLength="117.5" lengthAdjust="spacingAndGlyphs">05:33</text>
<text x="798.9" y="1129" font-size="43.5" text-anchor="middle" textLength="117.5" lengthAdjust="spacingAndGlyphs">05:36</text>
<text x="1096.3" y="1129" font-size="43.5" text-anchor="middle" textLength="117.5" lengthAdjust="spacingAndGlyphs">05:39</text>
<text x="1393.6" y="1129" font-size="43.5" text-anchor="middle" textLength="117.5" lengthAdjust="spacingAndGlyphs">05:42</text>
<text x="1691.0" y="1129" font-size="43.5" text-anchor="middle" textLength="117.5" lengthAdjust="spacingAndGlyphs">05:45</text>
<text x="947.2" y="1188.2" font-size="43.5" text-anchor="middle" textLength="231" lengthAdjust="spacingAndGlyphs">Time [UTC]</text>
<text transform="translate(61.5 585.6) rotate(-90)" font-size="43.5" text-anchor="middle" textLength="350.5" lengthAdjust="spacingAndGlyphs">Frequency [MHz]</text>
<polygon points="251.80,1145.90 253.40,1149.60 257.41,1149.98 254.38,1152.64 255.27,1156.57 251.80,1154.51 248.33,1156.57 249.22,1152.64 246.19,1149.98 250.20,1149.60"/>
<polygon points="217.00,1164.90 218.60,1168.60 222.61,1168.98 219.58,1171.64 220.47,1175.57 217.00,1173.51 213.53,1175.57 214.42,1171.64 211.39,1168.98 215.40,1168.60"/>
<polygon points="234.50,1164.90 236.10,1168.60 240.11,1168.98 237.08,1171.64 237.97,1175.57 234.50,1173.51 231.03,1175.57 231.92,1171.64 228.89,1168.98 232.90,1168.60"/>
<polygon points="251.80,1164.90 253.40,1168.60 257.41,1168.98 254.38,1171.64 255.27,1175.57 251.80,1173.51 248.33,1175.57 249.22,1171.64 246.19,1168.98 250.20,1168.60"/>
<polygon points="269.60,1164.90 271.20,1168.60 275.21,1168.98 272.18,1171.64 273.07,1175.57 269.60,1173.51 266.13,1175.57 267.02,1171.64 263.99,1168.98 268.00,1168.60"/>
<polygon points="287.10,1164.90 288.70,1168.60 292.71,1168.98 289.68,1171.64 290.57,1175.57 287.10,1173.51 283.63,1175.57 284.52,1171.64 281.49,1168.98 285.50,1168.60"/>
<polygon points="225.80,1183.90 227.40,1187.60 231.41,1187.98 228.38,1190.64 229.27,1194.57 225.80,1192.51 222.33,1194.57 223.22,1190.64 220.19,1187.98 224.20,1187.60"/>
<polygon points="243.10,1183.90 244.70,1187.60 248.71,1187.98 245.68,1190.64 246.57,1194.57 243.10,1192.51 239.63,1194.57 240.52,1190.64 237.49,1187.98 241.50,1187.60"/>
<polygon points="260.90,1183.90 262.50,1187.60 266.51,1187.98 263.48,1190.64 264.37,1194.57 260.90,1192.51 257.43,1194.57 258.32,1190.64 255.29,1187.98 259.30,1187.60"/>
<polygon points="278.20,1183.90 279.80,1187.60 283.81,1187.98 280.78,1190.64 281.67,1194.57 278.20,1192.51 274.73,1194.57 275.62,1190.64 272.59,1187.98 276.60,1187.60"/>
<text x="313.3" y="1167.7" font-size="15" letter-spacing="1" fill="#e6e6e6">Royal Observatory</text>
<text x="313.5" y="1187.7" font-size="17" font-style="italic" font-family="Liberation Serif, serif" fill="#e0e0e0">of</text>
<text x="337" y="1187.7" font-size="15" letter-spacing="1" fill="#e6e6e6">Belgium</text>
</g>
</svg></body></html>
